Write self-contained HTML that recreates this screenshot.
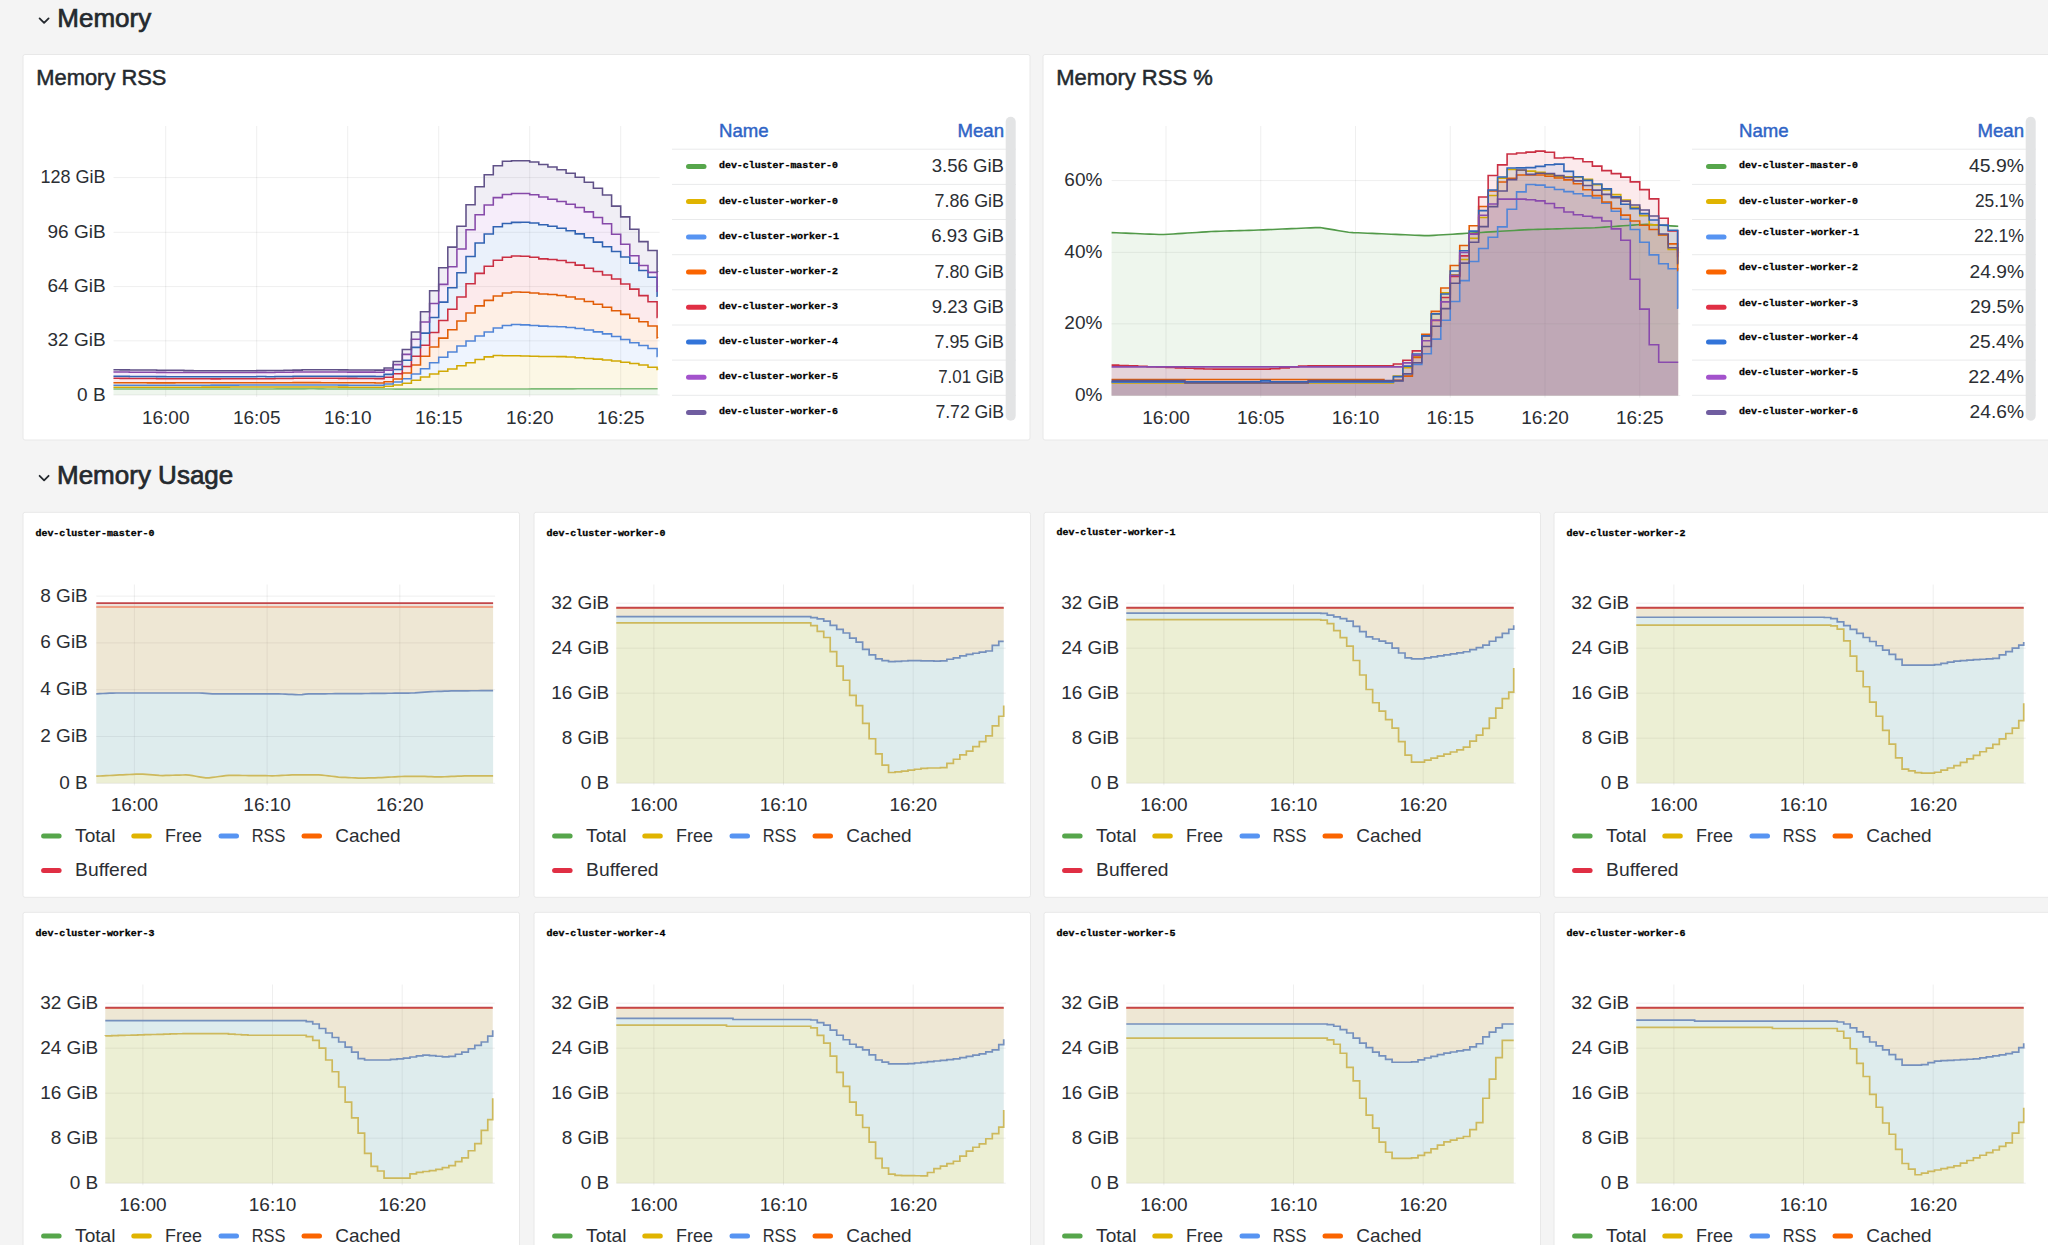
<!DOCTYPE html>
<html><head><meta charset="utf-8"><title>Memory</title>
<style>
html,body{margin:0;padding:0;background:#f4f4f4;}
body{width:2048px;height:1245px;overflow:hidden;position:relative;}
svg{position:absolute;left:0;top:0;}
text{white-space:pre;}
</style></head><body>
<svg width="2048" height="1245" viewBox="0 0 2048 1245">
<path d="M39.6,18.4 l4.5,4.5 l4.5,-4.5" fill="none" stroke="#24292e" stroke-width="1.8" stroke-linecap="round" stroke-linejoin="round"/>
<text x="57.3" y="26.6" font-family='"Liberation Sans", sans-serif' font-size="26" fill="#24292e" text-anchor="start" font-weight="400" stroke="#24292e" stroke-width="0.7">Memory</text>
<path d="M39.6,475.8 l4.5,4.5 l4.5,-4.5" fill="none" stroke="#24292e" stroke-width="1.8" stroke-linecap="round" stroke-linejoin="round"/>
<text x="57" y="483.5" font-family='"Liberation Sans", sans-serif' font-size="26" fill="#24292e" text-anchor="start" font-weight="400" stroke="#24292e" stroke-width="0.7">Memory Usage</text>
<rect x="23" y="54.5" width="1007" height="385.5" fill="#ffffff" rx="2" stroke="#e8e8e8" stroke-width="1"/>
<rect x="1043" y="54.5" width="1019" height="385.5" fill="#ffffff" rx="2" stroke="#e8e8e8" stroke-width="1"/>
<text x="36.3" y="84.8" font-family='"Liberation Sans", sans-serif' font-size="21.9" fill="#24292e" text-anchor="start" font-weight="400" stroke="#24292e" stroke-width="0.5">Memory RSS</text>
<text x="1056.3" y="84.8" font-family='"Liberation Sans", sans-serif' font-size="22.0" fill="#24292e" text-anchor="start" font-weight="400" stroke="#24292e" stroke-width="0.5">Memory RSS %</text>
<line x1="113.5" y1="177.6" x2="659.6" y2="177.6" stroke="rgba(36,41,46,0.075)" stroke-width="1"/>
<text x="105.6" y="183.1" font-family='"Liberation Sans", sans-serif' font-size="19" fill="#2b2e33" text-anchor="end" font-weight="400" textLength="65" lengthAdjust="spacingAndGlyphs">128 GiB</text>
<line x1="113.5" y1="232.3" x2="659.6" y2="232.3" stroke="rgba(36,41,46,0.075)" stroke-width="1"/>
<text x="105.6" y="237.8" font-family='"Liberation Sans", sans-serif' font-size="19" fill="#2b2e33" text-anchor="end" font-weight="400" >96 GiB</text>
<line x1="113.5" y1="286.6" x2="659.6" y2="286.6" stroke="rgba(36,41,46,0.075)" stroke-width="1"/>
<text x="105.6" y="292.1" font-family='"Liberation Sans", sans-serif' font-size="19" fill="#2b2e33" text-anchor="end" font-weight="400" >64 GiB</text>
<line x1="113.5" y1="340.8" x2="659.6" y2="340.8" stroke="rgba(36,41,46,0.075)" stroke-width="1"/>
<text x="105.6" y="346.3" font-family='"Liberation Sans", sans-serif' font-size="19" fill="#2b2e33" text-anchor="end" font-weight="400" >32 GiB</text>
<line x1="113.5" y1="395" x2="659.6" y2="395" stroke="rgba(36,41,46,0.075)" stroke-width="1"/>
<text x="105.6" y="400.5" font-family='"Liberation Sans", sans-serif' font-size="19" fill="#2b2e33" text-anchor="end" font-weight="400" >0 B</text>
<line x1="165.7" y1="126" x2="165.7" y2="397" stroke="rgba(36,41,46,0.075)" stroke-width="1"/>
<text x="165.7" y="424.3" font-family='"Liberation Sans", sans-serif' font-size="19" fill="#2b2e33" text-anchor="middle" font-weight="400" >16:00</text>
<line x1="256.7" y1="126" x2="256.7" y2="397" stroke="rgba(36,41,46,0.075)" stroke-width="1"/>
<text x="256.7" y="424.3" font-family='"Liberation Sans", sans-serif' font-size="19" fill="#2b2e33" text-anchor="middle" font-weight="400" >16:05</text>
<line x1="347.7" y1="126" x2="347.7" y2="397" stroke="rgba(36,41,46,0.075)" stroke-width="1"/>
<text x="347.7" y="424.3" font-family='"Liberation Sans", sans-serif' font-size="19" fill="#2b2e33" text-anchor="middle" font-weight="400" >16:10</text>
<line x1="438.7" y1="126" x2="438.7" y2="397" stroke="rgba(36,41,46,0.075)" stroke-width="1"/>
<text x="438.7" y="424.3" font-family='"Liberation Sans", sans-serif' font-size="19" fill="#2b2e33" text-anchor="middle" font-weight="400" >16:15</text>
<line x1="529.7" y1="126" x2="529.7" y2="397" stroke="rgba(36,41,46,0.075)" stroke-width="1"/>
<text x="529.7" y="424.3" font-family='"Liberation Sans", sans-serif' font-size="19" fill="#2b2e33" text-anchor="middle" font-weight="400" >16:20</text>
<line x1="620.7" y1="126" x2="620.7" y2="397" stroke="rgba(36,41,46,0.075)" stroke-width="1"/>
<text x="620.7" y="424.3" font-family='"Liberation Sans", sans-serif' font-size="19" fill="#2b2e33" text-anchor="middle" font-weight="400" >16:25</text>
<path d="M113.47,389.02 118.02,389.03 122.57,389.03 127.12,389.04 131.67,389.05 136.22,389.06 140.77,389.06 145.32,389.07 149.87,389.08 154.42,389.08 158.97,389.09 163.52,389.09 168.07,389.08 172.62,389.07 177.17,389.06 181.72,389.05 186.27,389.04 190.82,389.03 195.37,389.02 199.92,389 204.47,388.99 209.02,388.98 213.57,388.97 218.12,388.97 222.67,388.96 227.22,388.96 231.77,388.95 236.32,388.95 240.87,388.94 245.42,388.94 249.97,388.93 254.52,388.93 259.07,388.92 263.62,388.91 268.17,388.91 272.72,388.9 277.27,388.89 281.82,388.88 286.37,388.88 290.92,388.87 295.47,388.86 300.02,388.85 304.57,388.85 309.12,388.84 313.67,388.84 318.22,388.86 322.77,388.89 327.32,388.92 331.87,388.95 336.42,388.98 340.97,389.01 345.52,389.02 350.07,389.03 354.62,389.04 359.17,389.04 363.72,389.05 368.27,389.06 372.82,389.06 377.37,389.07 381.92,389.08 386.47,389.09 391.02,389.09 395.57,389.1 400.12,389.11 404.67,389.12 409.22,389.12 413.77,389.13 418.32,389.13 422.87,389.12 427.42,389.11 431.97,389.1 436.52,389.09 441.07,389.08 445.62,389.07 450.17,389.06 454.72,389.05 459.27,389.04 463.82,389.03 468.37,389.02 472.92,389.01 477.47,388.99 482.02,388.98 486.57,388.97 491.12,388.96 495.67,388.95 500.22,388.94 504.77,388.93 509.32,388.92 513.87,388.91 518.42,388.91 522.97,388.9 527.52,388.9 532.07,388.89 536.62,388.89 541.17,388.88 545.72,388.88 550.27,388.87 554.82,388.87 559.37,388.86 563.92,388.86 568.47,388.85 573.02,388.85 577.57,388.84 582.12,388.83 586.67,388.82 591.22,388.81 595.77,388.8 600.32,388.78 604.87,388.77 609.42,388.76 613.97,388.75 618.52,388.73 623.07,388.72 627.62,388.72 632.17,388.73 636.72,388.74 641.27,388.75 645.82,388.76 650.37,388.77 654.92,388.78 657.65,388.79 L657.65,395 113.47,395 Z" fill="#56A64B" fill-opacity="0.1" stroke="none"/>
<path d="M113.47,387.15 120.2,387.15 120.2,387.16 129.3,387.16 129.3,387.18 138.4,387.18 138.4,387.19 147.5,387.19 147.5,387.21 156.6,387.21 156.6,387.22 165.7,387.22 165.7,387.22 174.8,387.22 174.8,387.2 183.9,387.2 183.9,387.18 193,387.18 193,387.15 202.1,387.15 202.1,387.13 211.2,387.13 211.2,387.11 220.3,387.11 220.3,387.1 229.4,387.1 229.4,387.09 238.5,387.09 238.5,387.08 247.6,387.08 247.6,387.07 256.7,387.07 256.7,387.06 265.8,387.06 265.8,387.04 274.9,387.04 274.9,387.03 284,387.03 284,387.01 293.1,387.01 293.1,387 302.2,387 302.2,386.98 311.3,386.98 311.3,386.97 320.4,386.97 320.4,387.01 329.5,387.01 329.5,387.07 338.6,387.07 338.6,387.13 347.7,387.13 347.7,387.16 356.8,387.16 356.8,387.17 365.9,387.17 365.9,387.19 375,387.19 375,387.2 384.1,387.2 384.1,386.21 393.2,386.21 393.2,384.97 402.3,384.97 402.3,383.29 411.4,383.29 411.4,380.24 420.5,380.24 420.5,377.07 429.6,377.07 429.6,373.94 438.7,373.94 438.7,371.23 447.8,371.23 447.8,368.96 456.9,368.96 456.9,365.81 466,365.81 466,362.72 475.1,362.72 475.1,359.46 484.2,359.46 484.2,356.86 493.3,356.86 493.3,355.56 502.4,355.56 502.4,355.66 511.5,355.66 511.5,355.76 520.6,355.76 520.6,355.93 529.7,355.93 529.7,356.24 538.8,356.24 538.8,356.55 547.9,356.55 547.9,356.58 557,356.58 557,356.6 566.1,356.6 566.1,356.92 575.2,356.92 575.2,357.71 584.3,357.71 584.3,358.45 593.4,358.45 593.4,359.12 602.5,359.12 602.5,359.9 611.6,359.9 611.6,360.94 620.7,360.94 620.7,362.16 629.8,362.16 629.8,363.51 638.9,363.51 638.9,364.99 648,364.99 648,367.17 657.1,367.17 657.1,369.44 657.65,369.44 657.65,369.45 L657.65,388.79 654.92,388.78 650.37,388.77 645.82,388.76 641.27,388.75 636.72,388.74 632.17,388.73 627.62,388.72 623.07,388.72 618.52,388.73 613.97,388.75 609.42,388.76 604.87,388.77 600.32,388.78 595.77,388.8 591.22,388.81 586.67,388.82 582.12,388.83 577.57,388.84 573.02,388.85 568.47,388.85 563.92,388.86 559.37,388.86 554.82,388.87 550.27,388.87 545.72,388.88 541.17,388.88 536.62,388.89 532.07,388.89 527.52,388.9 522.97,388.9 518.42,388.91 513.87,388.91 509.32,388.92 504.77,388.93 500.22,388.94 495.67,388.95 491.12,388.96 486.57,388.97 482.02,388.98 477.47,388.99 472.92,389.01 468.37,389.02 463.82,389.03 459.27,389.04 454.72,389.05 450.17,389.06 445.62,389.07 441.07,389.08 436.52,389.09 431.97,389.1 427.42,389.11 422.87,389.12 418.32,389.13 413.77,389.13 409.22,389.12 404.67,389.12 400.12,389.11 395.57,389.1 391.02,389.09 386.47,389.09 381.92,389.08 377.37,389.07 372.82,389.06 368.27,389.06 363.72,389.05 359.17,389.04 354.62,389.04 350.07,389.03 345.52,389.02 340.97,389.01 336.42,388.98 331.87,388.95 327.32,388.92 322.77,388.89 318.22,388.86 313.67,388.84 309.12,388.84 304.57,388.85 300.02,388.85 295.47,388.86 290.92,388.87 286.37,388.88 281.82,388.88 277.27,388.89 272.72,388.9 268.17,388.91 263.62,388.91 259.07,388.92 254.52,388.93 249.97,388.93 245.42,388.94 240.87,388.94 236.32,388.95 231.77,388.95 227.22,388.96 222.67,388.96 218.12,388.97 213.57,388.97 209.02,388.98 204.47,388.99 199.92,389 195.37,389.02 190.82,389.03 186.27,389.04 181.72,389.05 177.17,389.06 172.62,389.07 168.07,389.08 163.52,389.09 158.97,389.09 154.42,389.08 149.87,389.08 145.32,389.07 140.77,389.06 136.22,389.06 131.67,389.05 127.12,389.04 122.57,389.03 118.02,389.03 113.47,389.02 Z" fill="#E0B400" fill-opacity="0.1" stroke="none"/>
<path d="M113.47,385.16 120.2,385.16 120.2,385.18 129.3,385.18 129.3,385.19 138.4,385.19 138.4,385.21 147.5,385.21 147.5,385.22 156.6,385.22 156.6,385.23 165.7,385.23 165.7,385.23 174.8,385.23 174.8,385.21 183.9,385.21 183.9,385.19 193,385.19 193,385.17 202.1,385.17 202.1,385.15 211.2,385.15 211.2,385.13 220.3,385.13 220.3,385.11 229.4,385.11 229.4,385.1 238.5,385.1 238.5,385.09 247.6,385.09 247.6,385.08 256.7,385.08 256.7,385.07 265.8,385.07 265.8,385.06 274.9,385.06 274.9,385.04 284,385.04 284,385.03 293.1,385.03 293.1,385.01 302.2,385.01 302.2,385 311.3,385 311.3,384.98 320.4,384.98 320.4,385.03 329.5,385.03 329.5,385.08 338.6,385.08 338.6,385.14 347.7,385.14 347.7,385.17 356.8,385.17 356.8,385.19 365.9,385.19 365.9,385.2 375,385.2 375,385.22 384.1,385.22 384.1,384.09 393.2,384.09 393.2,381.92 402.3,381.92 402.3,378.68 411.4,378.68 411.4,374.07 420.5,374.07 420.5,368.72 429.6,368.72 429.6,362.81 438.7,362.81 438.7,357.33 447.8,357.33 447.8,351.99 456.9,351.99 456.9,346 466,346 466,340.99 475.1,340.99 475.1,336.06 484.2,336.06 484.2,331.94 493.3,331.94 493.3,328.04 502.4,328.04 502.4,325.58 511.5,325.58 511.5,324.59 520.6,324.59 520.6,324.85 529.7,324.85 529.7,325.48 538.8,325.48 538.8,326.11 547.9,326.11 547.9,326.45 557,326.45 557,326.79 566.1,326.79 566.1,327.43 575.2,327.43 575.2,328.53 584.3,328.53 584.3,330.03 593.4,330.03 593.4,331.89 602.5,331.89 602.5,333.85 611.6,333.85 611.6,336.42 620.7,336.42 620.7,339.5 629.8,339.5 629.8,342.72 638.9,342.72 638.9,345.51 648,345.51 648,348.43 657.1,348.43 657.1,356.55 657.65,356.55 657.65,356.55 L657.65,369.45 657.65,369.44 657.1,369.44 657.1,367.17 648,367.17 648,364.99 638.9,364.99 638.9,363.51 629.8,363.51 629.8,362.16 620.7,362.16 620.7,360.94 611.6,360.94 611.6,359.9 602.5,359.9 602.5,359.12 593.4,359.12 593.4,358.45 584.3,358.45 584.3,357.71 575.2,357.71 575.2,356.92 566.1,356.92 566.1,356.6 557,356.6 557,356.58 547.9,356.58 547.9,356.55 538.8,356.55 538.8,356.24 529.7,356.24 529.7,355.93 520.6,355.93 520.6,355.76 511.5,355.76 511.5,355.66 502.4,355.66 502.4,355.56 493.3,355.56 493.3,356.86 484.2,356.86 484.2,359.46 475.1,359.46 475.1,362.72 466,362.72 466,365.81 456.9,365.81 456.9,368.96 447.8,368.96 447.8,371.23 438.7,371.23 438.7,373.94 429.6,373.94 429.6,377.07 420.5,377.07 420.5,380.24 411.4,380.24 411.4,383.29 402.3,383.29 402.3,384.97 393.2,384.97 393.2,386.21 384.1,386.21 384.1,387.2 375,387.2 375,387.19 365.9,387.19 365.9,387.17 356.8,387.17 356.8,387.16 347.7,387.16 347.7,387.13 338.6,387.13 338.6,387.07 329.5,387.07 329.5,387.01 320.4,387.01 320.4,386.97 311.3,386.97 311.3,386.98 302.2,386.98 302.2,387 293.1,387 293.1,387.01 284,387.01 284,387.03 274.9,387.03 274.9,387.04 265.8,387.04 265.8,387.06 256.7,387.06 256.7,387.07 247.6,387.07 247.6,387.08 238.5,387.08 238.5,387.09 229.4,387.09 229.4,387.1 220.3,387.1 220.3,387.11 211.2,387.11 211.2,387.13 202.1,387.13 202.1,387.15 193,387.15 193,387.18 183.9,387.18 183.9,387.2 174.8,387.2 174.8,387.22 165.7,387.22 165.7,387.22 156.6,387.22 156.6,387.21 147.5,387.21 147.5,387.19 138.4,387.19 138.4,387.18 129.3,387.18 129.3,387.16 120.2,387.16 120.2,387.15 113.47,387.15 Z" fill="#5794F2" fill-opacity="0.1" stroke="none"/>
<path d="M113.47,382.79 120.2,382.79 120.2,382.8 129.3,382.8 129.3,382.82 138.4,382.82 138.4,382.83 147.5,382.83 147.5,382.85 156.6,382.85 156.6,382.86 165.7,382.86 165.7,382.86 174.8,382.86 174.8,382.84 183.9,382.84 183.9,382.82 193,382.82 193,382.79 202.1,382.79 202.1,382.77 211.2,382.77 211.2,382.75 220.3,382.75 220.3,382.74 229.4,382.74 229.4,382.73 238.5,382.73 238.5,382.72 247.6,382.72 247.6,382.71 256.7,382.71 256.7,382.7 265.8,382.7 265.8,382.68 274.9,382.68 274.9,382.67 284,382.67 284,382.65 293.1,382.65 293.1,382.64 302.2,382.64 302.2,382.62 311.3,382.62 311.3,382.61 320.4,382.61 320.4,382.65 329.5,382.65 329.5,382.71 338.6,382.71 338.6,382.77 347.7,382.77 347.7,382.8 356.8,382.8 356.8,382.81 365.9,382.81 365.9,382.83 375,382.83 375,383.02 384.1,383.02 384.1,381.84 393.2,381.84 393.2,379.04 402.3,379.04 402.3,373.06 411.4,373.06 411.4,365.01 420.5,365.01 420.5,356.28 429.6,356.28 429.6,346.92 438.7,346.92 438.7,338.12 447.8,338.12 447.8,329.83 456.9,329.83 456.9,320.93 466,320.93 466,313.05 475.1,313.05 475.1,305.86 484.2,305.86 484.2,300.38 493.3,300.38 493.3,295.95 502.4,295.95 502.4,293 511.5,293 511.5,292.01 520.6,292.01 520.6,292.27 529.7,292.27 529.7,293.08 538.8,293.08 538.8,293.98 547.9,293.98 547.9,294.59 557,294.59 557,295.5 566.1,295.5 566.1,297.02 575.2,297.02 575.2,299.01 584.3,299.01 584.3,301.43 593.4,301.43 593.4,304.26 602.5,304.26 602.5,307.2 611.6,307.2 611.6,310.65 620.7,310.65 620.7,314.35 629.8,314.35 629.8,318.19 638.9,318.19 638.9,321.8 648,321.8 648,326.02 657.1,326.02 657.1,338.05 657.65,338.05 657.65,338.06 L657.65,356.55 657.65,356.55 657.1,356.55 657.1,348.43 648,348.43 648,345.51 638.9,345.51 638.9,342.72 629.8,342.72 629.8,339.5 620.7,339.5 620.7,336.42 611.6,336.42 611.6,333.85 602.5,333.85 602.5,331.89 593.4,331.89 593.4,330.03 584.3,330.03 584.3,328.53 575.2,328.53 575.2,327.43 566.1,327.43 566.1,326.79 557,326.79 557,326.45 547.9,326.45 547.9,326.11 538.8,326.11 538.8,325.48 529.7,325.48 529.7,324.85 520.6,324.85 520.6,324.59 511.5,324.59 511.5,325.58 502.4,325.58 502.4,328.04 493.3,328.04 493.3,331.94 484.2,331.94 484.2,336.06 475.1,336.06 475.1,340.99 466,340.99 466,346 456.9,346 456.9,351.99 447.8,351.99 447.8,357.33 438.7,357.33 438.7,362.81 429.6,362.81 429.6,368.72 420.5,368.72 420.5,374.07 411.4,374.07 411.4,378.68 402.3,378.68 402.3,381.92 393.2,381.92 393.2,384.09 384.1,384.09 384.1,385.22 375,385.22 375,385.2 365.9,385.2 365.9,385.19 356.8,385.19 356.8,385.17 347.7,385.17 347.7,385.14 338.6,385.14 338.6,385.08 329.5,385.08 329.5,385.03 320.4,385.03 320.4,384.98 311.3,384.98 311.3,385 302.2,385 302.2,385.01 293.1,385.01 293.1,385.03 284,385.03 284,385.04 274.9,385.04 274.9,385.06 265.8,385.06 265.8,385.07 256.7,385.07 256.7,385.08 247.6,385.08 247.6,385.09 238.5,385.09 238.5,385.1 229.4,385.1 229.4,385.11 220.3,385.11 220.3,385.13 211.2,385.13 211.2,385.15 202.1,385.15 202.1,385.17 193,385.17 193,385.19 183.9,385.19 183.9,385.21 174.8,385.21 174.8,385.23 165.7,385.23 165.7,385.23 156.6,385.23 156.6,385.22 147.5,385.22 147.5,385.21 138.4,385.21 138.4,385.19 129.3,385.19 129.3,385.18 120.2,385.18 120.2,385.16 113.47,385.16 Z" fill="#FA6400" fill-opacity="0.1" stroke="none"/>
<path d="M113.47,378.29 120.2,378.29 120.2,378.36 129.3,378.36 129.3,378.43 138.4,378.43 138.4,378.5 147.5,378.5 147.5,378.57 156.6,378.57 156.6,378.65 165.7,378.65 165.7,378.7 174.8,378.7 174.8,378.74 183.9,378.74 183.9,378.77 193,378.77 193,378.81 202.1,378.81 202.1,378.84 211.2,378.84 211.2,378.85 220.3,378.85 220.3,378.84 229.4,378.84 229.4,378.83 238.5,378.83 238.5,378.82 247.6,378.82 247.6,378.8 256.7,378.8 256.7,378.79 265.8,378.79 265.8,378.72 274.9,378.72 274.9,378.57 284,378.57 284,378.43 293.1,378.43 293.1,378.29 302.2,378.29 302.2,378.21 311.3,378.21 311.3,378.2 320.4,378.2 320.4,378.24 329.5,378.24 329.5,378.3 338.6,378.3 338.6,378.35 347.7,378.35 347.7,378.39 356.8,378.39 356.8,378.4 365.9,378.4 365.9,378.41 375,378.41 375,378.61 384.1,378.61 384.1,377.17 393.2,377.17 393.2,373.81 402.3,373.81 402.3,366.46 411.4,366.46 411.4,356.21 420.5,356.21 420.5,345.17 429.6,345.17 429.6,332.43 438.7,332.43 438.7,320.52 447.8,320.52 447.8,309.19 456.9,309.19 456.9,297.03 466,297.03 466,283.72 475.1,283.72 475.1,273.36 484.2,273.36 484.2,266.3 493.3,266.3 493.3,260.26 502.4,260.26 502.4,257.17 511.5,257.17 511.5,256.05 520.6,256.05 520.6,256.17 529.7,256.17 529.7,257.15 538.8,257.15 538.8,258.88 547.9,258.88 547.9,259.41 557,259.41 557,260.52 566.1,260.52 566.1,262.47 575.2,262.47 575.2,265.11 584.3,265.11 584.3,268.21 593.4,268.21 593.4,271.48 602.5,271.48 602.5,274.94 611.6,274.94 611.6,279.09 620.7,279.09 620.7,283.93 629.8,283.93 629.8,289.14 638.9,289.14 638.9,295.6 648,295.6 648,301.68 657.1,301.68 657.1,317.52 657.65,317.52 657.65,317.52 L657.65,338.06 657.65,338.05 657.1,338.05 657.1,326.02 648,326.02 648,321.8 638.9,321.8 638.9,318.19 629.8,318.19 629.8,314.35 620.7,314.35 620.7,310.65 611.6,310.65 611.6,307.2 602.5,307.2 602.5,304.26 593.4,304.26 593.4,301.43 584.3,301.43 584.3,299.01 575.2,299.01 575.2,297.02 566.1,297.02 566.1,295.5 557,295.5 557,294.59 547.9,294.59 547.9,293.98 538.8,293.98 538.8,293.08 529.7,293.08 529.7,292.27 520.6,292.27 520.6,292.01 511.5,292.01 511.5,293 502.4,293 502.4,295.95 493.3,295.95 493.3,300.38 484.2,300.38 484.2,305.86 475.1,305.86 475.1,313.05 466,313.05 466,320.93 456.9,320.93 456.9,329.83 447.8,329.83 447.8,338.12 438.7,338.12 438.7,346.92 429.6,346.92 429.6,356.28 420.5,356.28 420.5,365.01 411.4,365.01 411.4,373.06 402.3,373.06 402.3,379.04 393.2,379.04 393.2,381.84 384.1,381.84 384.1,383.02 375,383.02 375,382.83 365.9,382.83 365.9,382.81 356.8,382.81 356.8,382.8 347.7,382.8 347.7,382.77 338.6,382.77 338.6,382.71 329.5,382.71 329.5,382.65 320.4,382.65 320.4,382.61 311.3,382.61 311.3,382.62 302.2,382.62 302.2,382.64 293.1,382.64 293.1,382.65 284,382.65 284,382.67 274.9,382.67 274.9,382.68 265.8,382.68 265.8,382.7 256.7,382.7 256.7,382.71 247.6,382.71 247.6,382.72 238.5,382.72 238.5,382.73 229.4,382.73 229.4,382.74 220.3,382.74 220.3,382.75 211.2,382.75 211.2,382.77 202.1,382.77 202.1,382.79 193,382.79 193,382.82 183.9,382.82 183.9,382.84 174.8,382.84 174.8,382.86 165.7,382.86 165.7,382.86 156.6,382.86 156.6,382.85 147.5,382.85 147.5,382.83 138.4,382.83 138.4,382.82 129.3,382.82 129.3,382.8 120.2,382.8 120.2,382.79 113.47,382.79 Z" fill="#E02F44" fill-opacity="0.1" stroke="none"/>
<path d="M113.47,376.26 120.2,376.26 120.2,376.33 129.3,376.33 129.3,376.4 138.4,376.4 138.4,376.47 147.5,376.47 147.5,376.54 156.6,376.54 156.6,376.61 165.7,376.61 165.7,376.67 174.8,376.67 174.8,376.7 183.9,376.7 183.9,376.73 193,376.73 193,376.77 202.1,376.77 202.1,376.8 211.2,376.8 211.2,376.81 220.3,376.81 220.3,376.8 229.4,376.8 229.4,376.79 238.5,376.79 238.5,376.78 247.6,376.78 247.6,376.77 256.7,376.77 256.7,376.59 265.8,376.59 265.8,376.68 274.9,376.68 274.9,376.54 284,376.54 284,376.4 293.1,376.4 293.1,376.25 302.2,376.25 302.2,376.17 311.3,376.17 311.3,376.16 320.4,376.16 320.4,376.2 329.5,376.2 329.5,376.26 338.6,376.26 338.6,376.32 347.7,376.32 347.7,376.35 356.8,376.35 356.8,376.36 365.9,376.36 365.9,376.38 375,376.38 375,376.57 384.1,376.57 384.1,374.36 393.2,374.36 393.2,369.46 402.3,369.46 402.3,360.32 411.4,360.32 411.4,347.39 420.5,347.39 420.5,333.1 429.6,333.1 429.6,317.41 438.7,317.41 438.7,302.13 447.8,302.13 447.8,287.8 456.9,287.8 456.9,272.75 466,272.75 466,256.4 475.1,256.4 475.1,243 484.2,243 484.2,234.03 493.3,234.03 493.3,226.66 502.4,226.66 502.4,223.54 511.5,223.54 511.5,222.38 520.6,222.38 520.6,222.33 529.7,222.33 529.7,223.07 538.8,223.07 538.8,224.69 547.9,224.69 547.9,226.3 557,226.3 557,228.2 566.1,228.2 566.1,230.69 575.2,230.69 575.2,233.86 584.3,233.86 584.3,237.67 593.4,237.67 593.4,242.1 602.5,242.1 602.5,246.67 611.6,246.67 611.6,251.48 620.7,251.48 620.7,257.06 629.8,257.06 629.8,263.21 638.9,263.21 638.9,270.43 648,270.43 648,277.27 657.1,277.27 657.1,296.14 657.65,296.14 657.65,296.14 L657.65,317.52 657.65,317.52 657.1,317.52 657.1,301.68 648,301.68 648,295.6 638.9,295.6 638.9,289.14 629.8,289.14 629.8,283.93 620.7,283.93 620.7,279.09 611.6,279.09 611.6,274.94 602.5,274.94 602.5,271.48 593.4,271.48 593.4,268.21 584.3,268.21 584.3,265.11 575.2,265.11 575.2,262.47 566.1,262.47 566.1,260.52 557,260.52 557,259.41 547.9,259.41 547.9,258.88 538.8,258.88 538.8,257.15 529.7,257.15 529.7,256.17 520.6,256.17 520.6,256.05 511.5,256.05 511.5,257.17 502.4,257.17 502.4,260.26 493.3,260.26 493.3,266.3 484.2,266.3 484.2,273.36 475.1,273.36 475.1,283.72 466,283.72 466,297.03 456.9,297.03 456.9,309.19 447.8,309.19 447.8,320.52 438.7,320.52 438.7,332.43 429.6,332.43 429.6,345.17 420.5,345.17 420.5,356.21 411.4,356.21 411.4,366.46 402.3,366.46 402.3,373.81 393.2,373.81 393.2,377.17 384.1,377.17 384.1,378.61 375,378.61 375,378.41 365.9,378.41 365.9,378.4 356.8,378.4 356.8,378.39 347.7,378.39 347.7,378.35 338.6,378.35 338.6,378.3 329.5,378.3 329.5,378.24 320.4,378.24 320.4,378.2 311.3,378.2 311.3,378.21 302.2,378.21 302.2,378.29 293.1,378.29 293.1,378.43 284,378.43 284,378.57 274.9,378.57 274.9,378.72 265.8,378.72 265.8,378.79 256.7,378.79 256.7,378.8 247.6,378.8 247.6,378.82 238.5,378.82 238.5,378.83 229.4,378.83 229.4,378.84 220.3,378.84 220.3,378.85 211.2,378.85 211.2,378.84 202.1,378.84 202.1,378.81 193,378.81 193,378.77 183.9,378.77 183.9,378.74 174.8,378.74 174.8,378.7 165.7,378.7 165.7,378.65 156.6,378.65 156.6,378.57 147.5,378.57 147.5,378.5 138.4,378.5 138.4,378.43 129.3,378.43 129.3,378.36 120.2,378.36 120.2,378.29 113.47,378.29 Z" fill="#3274D9" fill-opacity="0.1" stroke="none"/>
<path d="M113.47,372.01 120.2,372.01 120.2,372.08 129.3,372.08 129.3,372.16 138.4,372.16 138.4,372.23 147.5,372.23 147.5,372.3 156.6,372.3 156.6,372.37 165.7,372.37 165.7,372.42 174.8,372.42 174.8,372.46 183.9,372.46 183.9,372.49 193,372.49 193,372.53 202.1,372.53 202.1,372.56 211.2,372.56 211.2,372.57 220.3,372.57 220.3,372.56 229.4,372.56 229.4,372.55 238.5,372.55 238.5,372.54 247.6,372.54 247.6,372.53 256.7,372.53 256.7,372.35 265.8,372.35 265.8,372.44 274.9,372.44 274.9,372.29 284,372.29 284,372.15 293.1,372.15 293.1,372.01 302.2,372.01 302.2,371.93 311.3,371.93 311.3,371.92 320.4,371.92 320.4,371.96 329.5,371.96 329.5,372.02 338.6,372.02 338.6,372.08 347.7,372.08 347.7,372.11 356.8,372.11 356.8,372.12 365.9,372.12 365.9,372.14 375,372.14 375,372.33 384.1,372.33 384.1,370.12 393.2,370.12 393.2,364.63 402.3,364.63 402.3,354.38 411.4,354.38 411.4,339.29 420.5,339.29 420.5,321.98 429.6,321.98 429.6,303.58 438.7,303.58 438.7,284.38 447.8,284.38 447.8,266.67 456.9,266.67 456.9,248.9 466,248.9 466,229.76 475.1,229.76 475.1,214.7 484.2,214.7 484.2,205.01 493.3,205.01 493.3,197.64 502.4,197.64 502.4,194.52 511.5,194.52 511.5,193.45 520.6,193.45 520.6,193.57 529.7,193.57 529.7,194.71 538.8,194.71 538.8,196.95 547.9,196.95 547.9,199.18 557,199.18 557,201.5 566.1,201.5 566.1,204.19 575.2,204.19 575.2,207.58 584.3,207.58 584.3,211.89 593.4,211.89 593.4,217.47 602.5,217.47 602.5,223.72 611.6,223.72 611.6,234.29 620.7,234.29 620.7,244.29 629.8,244.29 629.8,255.69 638.9,255.69 638.9,265.51 648,265.51 648,272.35 657.1,272.35 657.1,291.22 657.65,291.22 657.65,291.22 L657.65,296.14 657.65,296.14 657.1,296.14 657.1,277.27 648,277.27 648,270.43 638.9,270.43 638.9,263.21 629.8,263.21 629.8,257.06 620.7,257.06 620.7,251.48 611.6,251.48 611.6,246.67 602.5,246.67 602.5,242.1 593.4,242.1 593.4,237.67 584.3,237.67 584.3,233.86 575.2,233.86 575.2,230.69 566.1,230.69 566.1,228.2 557,228.2 557,226.3 547.9,226.3 547.9,224.69 538.8,224.69 538.8,223.07 529.7,223.07 529.7,222.33 520.6,222.33 520.6,222.38 511.5,222.38 511.5,223.54 502.4,223.54 502.4,226.66 493.3,226.66 493.3,234.03 484.2,234.03 484.2,243 475.1,243 475.1,256.4 466,256.4 466,272.75 456.9,272.75 456.9,287.8 447.8,287.8 447.8,302.13 438.7,302.13 438.7,317.41 429.6,317.41 429.6,333.1 420.5,333.1 420.5,347.39 411.4,347.39 411.4,360.32 402.3,360.32 402.3,369.46 393.2,369.46 393.2,374.36 384.1,374.36 384.1,376.57 375,376.57 375,376.38 365.9,376.38 365.9,376.36 356.8,376.36 356.8,376.35 347.7,376.35 347.7,376.32 338.6,376.32 338.6,376.26 329.5,376.26 329.5,376.2 320.4,376.2 320.4,376.16 311.3,376.16 311.3,376.17 302.2,376.17 302.2,376.25 293.1,376.25 293.1,376.4 284,376.4 284,376.54 274.9,376.54 274.9,376.68 265.8,376.68 265.8,376.59 256.7,376.59 256.7,376.77 247.6,376.77 247.6,376.78 238.5,376.78 238.5,376.79 229.4,376.79 229.4,376.8 220.3,376.8 220.3,376.81 211.2,376.81 211.2,376.8 202.1,376.8 202.1,376.77 193,376.77 193,376.73 183.9,376.73 183.9,376.7 174.8,376.7 174.8,376.67 165.7,376.67 165.7,376.61 156.6,376.61 156.6,376.54 147.5,376.54 147.5,376.47 138.4,376.47 138.4,376.4 129.3,376.4 129.3,376.33 120.2,376.33 120.2,376.26 113.47,376.26 Z" fill="#A352CC" fill-opacity="0.1" stroke="none"/>
<path d="M113.47,369.81 120.2,369.81 120.2,369.88 129.3,369.88 129.3,369.95 138.4,369.95 138.4,370.02 147.5,370.02 147.5,370.09 156.6,370.09 156.6,370.16 165.7,370.16 165.7,370.22 174.8,370.22 174.8,370.25 183.9,370.25 183.9,370.63 193,370.63 193,370.66 202.1,370.66 202.1,370.7 211.2,370.7 211.2,370.7 220.3,370.7 220.3,370.69 229.4,370.69 229.4,370.68 238.5,370.68 238.5,370.67 247.6,370.67 247.6,370.66 256.7,370.66 256.7,370.48 265.8,370.48 265.8,370.57 274.9,370.57 274.9,370.43 284,370.43 284,370.29 293.1,370.29 293.1,370.14 302.2,370.14 302.2,369.73 311.3,369.73 311.3,369.71 320.4,369.71 320.4,369.75 329.5,369.75 329.5,369.81 338.6,369.81 338.6,369.87 347.7,369.87 347.7,369.9 356.8,369.9 356.8,369.92 365.9,369.92 365.9,369.93 375,369.93 375,370.13 384.1,370.13 384.1,367.92 393.2,367.92 393.2,361.4 402.3,361.4 402.3,349.52 411.4,349.52 411.4,332.05 420.5,332.05 420.5,311.75 429.6,311.75 429.6,290.73 438.7,290.73 438.7,267.78 447.8,267.78 447.8,247.1 456.9,247.1 456.9,226.26 466,226.26 466,204.81 475.1,204.81 475.1,186.78 484.2,186.78 484.2,174.81 493.3,174.81 493.3,165.74 502.4,165.74 502.4,161.2 511.5,161.2 511.5,160.78 520.6,160.78 520.6,160.73 529.7,160.73 529.7,161.93 538.8,161.93 538.8,164.46 547.9,164.46 547.9,166.97 557,166.97 557,169.78 566.1,169.78 566.1,173.16 575.2,173.16 575.2,177.23 584.3,177.23 584.3,182.17 593.4,182.17 593.4,188.25 602.5,188.25 602.5,195 611.6,195 611.6,206.14 620.7,206.14 620.7,216.89 629.8,216.89 629.8,229.17 638.9,229.17 638.9,241.64 648,241.64 648,250.52 657.1,250.52 657.1,271.7 657.65,271.7 657.65,271.71 L657.65,291.22 657.65,291.22 657.1,291.22 657.1,272.35 648,272.35 648,265.51 638.9,265.51 638.9,255.69 629.8,255.69 629.8,244.29 620.7,244.29 620.7,234.29 611.6,234.29 611.6,223.72 602.5,223.72 602.5,217.47 593.4,217.47 593.4,211.89 584.3,211.89 584.3,207.58 575.2,207.58 575.2,204.19 566.1,204.19 566.1,201.5 557,201.5 557,199.18 547.9,199.18 547.9,196.95 538.8,196.95 538.8,194.71 529.7,194.71 529.7,193.57 520.6,193.57 520.6,193.45 511.5,193.45 511.5,194.52 502.4,194.52 502.4,197.64 493.3,197.64 493.3,205.01 484.2,205.01 484.2,214.7 475.1,214.7 475.1,229.76 466,229.76 466,248.9 456.9,248.9 456.9,266.67 447.8,266.67 447.8,284.38 438.7,284.38 438.7,303.58 429.6,303.58 429.6,321.98 420.5,321.98 420.5,339.29 411.4,339.29 411.4,354.38 402.3,354.38 402.3,364.63 393.2,364.63 393.2,370.12 384.1,370.12 384.1,372.33 375,372.33 375,372.14 365.9,372.14 365.9,372.12 356.8,372.12 356.8,372.11 347.7,372.11 347.7,372.08 338.6,372.08 338.6,372.02 329.5,372.02 329.5,371.96 320.4,371.96 320.4,371.92 311.3,371.92 311.3,371.93 302.2,371.93 302.2,372.01 293.1,372.01 293.1,372.15 284,372.15 284,372.29 274.9,372.29 274.9,372.44 265.8,372.44 265.8,372.35 256.7,372.35 256.7,372.53 247.6,372.53 247.6,372.54 238.5,372.54 238.5,372.55 229.4,372.55 229.4,372.56 220.3,372.56 220.3,372.57 211.2,372.57 211.2,372.56 202.1,372.56 202.1,372.53 193,372.53 193,372.49 183.9,372.49 183.9,372.46 174.8,372.46 174.8,372.42 165.7,372.42 165.7,372.37 156.6,372.37 156.6,372.3 147.5,372.3 147.5,372.23 138.4,372.23 138.4,372.16 129.3,372.16 129.3,372.08 120.2,372.08 120.2,372.01 113.47,372.01 Z" fill="#705DA0" fill-opacity="0.1" stroke="none"/>
<polyline points="113.47,389.02 118.02,389.03 122.57,389.03 127.12,389.04 131.67,389.05 136.22,389.06 140.77,389.06 145.32,389.07 149.87,389.08 154.42,389.08 158.97,389.09 163.52,389.09 168.07,389.08 172.62,389.07 177.17,389.06 181.72,389.05 186.27,389.04 190.82,389.03 195.37,389.02 199.92,389 204.47,388.99 209.02,388.98 213.57,388.97 218.12,388.97 222.67,388.96 227.22,388.96 231.77,388.95 236.32,388.95 240.87,388.94 245.42,388.94 249.97,388.93 254.52,388.93 259.07,388.92 263.62,388.91 268.17,388.91 272.72,388.9 277.27,388.89 281.82,388.88 286.37,388.88 290.92,388.87 295.47,388.86 300.02,388.85 304.57,388.85 309.12,388.84 313.67,388.84 318.22,388.86 322.77,388.89 327.32,388.92 331.87,388.95 336.42,388.98 340.97,389.01 345.52,389.02 350.07,389.03 354.62,389.04 359.17,389.04 363.72,389.05 368.27,389.06 372.82,389.06 377.37,389.07 381.92,389.08 386.47,389.09 391.02,389.09 395.57,389.1 400.12,389.11 404.67,389.12 409.22,389.12 413.77,389.13 418.32,389.13 422.87,389.12 427.42,389.11 431.97,389.1 436.52,389.09 441.07,389.08 445.62,389.07 450.17,389.06 454.72,389.05 459.27,389.04 463.82,389.03 468.37,389.02 472.92,389.01 477.47,388.99 482.02,388.98 486.57,388.97 491.12,388.96 495.67,388.95 500.22,388.94 504.77,388.93 509.32,388.92 513.87,388.91 518.42,388.91 522.97,388.9 527.52,388.9 532.07,388.89 536.62,388.89 541.17,388.88 545.72,388.88 550.27,388.87 554.82,388.87 559.37,388.86 563.92,388.86 568.47,388.85 573.02,388.85 577.57,388.84 582.12,388.83 586.67,388.82 591.22,388.81 595.77,388.8 600.32,388.78 604.87,388.77 609.42,388.76 613.97,388.75 618.52,388.73 623.07,388.72 627.62,388.72 632.17,388.73 636.72,388.74 641.27,388.75 645.82,388.76 650.37,388.77 654.92,388.78 657.65,388.79" fill="none" stroke="#80bc78" stroke-width="1.55" stroke-opacity="1" stroke-linejoin="miter"/>
<polyline points="113.47,387.15 120.2,387.15 120.2,387.16 129.3,387.16 129.3,387.18 138.4,387.18 138.4,387.19 147.5,387.19 147.5,387.21 156.6,387.21 156.6,387.22 165.7,387.22 165.7,387.22 174.8,387.22 174.8,387.2 183.9,387.2 183.9,387.18 193,387.18 193,387.15 202.1,387.15 202.1,387.13 211.2,387.13 211.2,387.11 220.3,387.11 220.3,387.1 229.4,387.1 229.4,387.09 238.5,387.09 238.5,387.08 247.6,387.08 247.6,387.07 256.7,387.07 256.7,387.06 265.8,387.06 265.8,387.04 274.9,387.04 274.9,387.03 284,387.03 284,387.01 293.1,387.01 293.1,387 302.2,387 302.2,386.98 311.3,386.98 311.3,386.97 320.4,386.97 320.4,387.01 329.5,387.01 329.5,387.07 338.6,387.07 338.6,387.13 347.7,387.13 347.7,387.16 356.8,387.16 356.8,387.17 365.9,387.17 365.9,387.19 375,387.19 375,387.2 384.1,387.2 384.1,386.21 393.2,386.21 393.2,384.97 402.3,384.97 402.3,383.29 411.4,383.29 411.4,380.24 420.5,380.24 420.5,377.07 429.6,377.07 429.6,373.94 438.7,373.94 438.7,371.23 447.8,371.23 447.8,368.96 456.9,368.96 456.9,365.81 466,365.81 466,362.72 475.1,362.72 475.1,359.46 484.2,359.46 484.2,356.86 493.3,356.86 493.3,355.56 502.4,355.56 502.4,355.66 511.5,355.66 511.5,355.76 520.6,355.76 520.6,355.93 529.7,355.93 529.7,356.24 538.8,356.24 538.8,356.55 547.9,356.55 547.9,356.58 557,356.58 557,356.6 566.1,356.6 566.1,356.92 575.2,356.92 575.2,357.71 584.3,357.71 584.3,358.45 593.4,358.45 593.4,359.12 602.5,359.12 602.5,359.9 611.6,359.9 611.6,360.94 620.7,360.94 620.7,362.16 629.8,362.16 629.8,363.51 638.9,363.51 638.9,364.99 648,364.99 648,367.17 657.1,367.17 657.1,369.44 657.65,369.44 657.65,369.45" fill="none" stroke="#d1a905" stroke-width="1.55" stroke-opacity="1" stroke-linejoin="miter"/>
<polyline points="113.47,385.16 120.2,385.16 120.2,385.18 129.3,385.18 129.3,385.19 138.4,385.19 138.4,385.21 147.5,385.21 147.5,385.22 156.6,385.22 156.6,385.23 165.7,385.23 165.7,385.23 174.8,385.23 174.8,385.21 183.9,385.21 183.9,385.19 193,385.19 193,385.17 202.1,385.17 202.1,385.15 211.2,385.15 211.2,385.13 220.3,385.13 220.3,385.11 229.4,385.11 229.4,385.1 238.5,385.1 238.5,385.09 247.6,385.09 247.6,385.08 256.7,385.08 256.7,385.07 265.8,385.07 265.8,385.06 274.9,385.06 274.9,385.04 284,385.04 284,385.03 293.1,385.03 293.1,385.01 302.2,385.01 302.2,385 311.3,385 311.3,384.98 320.4,384.98 320.4,385.03 329.5,385.03 329.5,385.08 338.6,385.08 338.6,385.14 347.7,385.14 347.7,385.17 356.8,385.17 356.8,385.19 365.9,385.19 365.9,385.2 375,385.2 375,385.22 384.1,385.22 384.1,384.09 393.2,384.09 393.2,381.92 402.3,381.92 402.3,378.68 411.4,378.68 411.4,374.07 420.5,374.07 420.5,368.72 429.6,368.72 429.6,362.81 438.7,362.81 438.7,357.33 447.8,357.33 447.8,351.99 456.9,351.99 456.9,346 466,346 466,340.99 475.1,340.99 475.1,336.06 484.2,336.06 484.2,331.94 493.3,331.94 493.3,328.04 502.4,328.04 502.4,325.58 511.5,325.58 511.5,324.59 520.6,324.59 520.6,324.85 529.7,324.85 529.7,325.48 538.8,325.48 538.8,326.11 547.9,326.11 547.9,326.45 557,326.45 557,326.79 566.1,326.79 566.1,327.43 575.2,327.43 575.2,328.53 584.3,328.53 584.3,330.03 593.4,330.03 593.4,331.89 602.5,331.89 602.5,333.85 611.6,333.85 611.6,336.42 620.7,336.42 620.7,339.5 629.8,339.5 629.8,342.72 638.9,342.72 638.9,345.51 648,345.51 648,348.43 657.1,348.43 657.1,356.55 657.65,356.55 657.65,356.55" fill="none" stroke="#5185d7" stroke-width="1.55" stroke-opacity="1" stroke-linejoin="miter"/>
<polyline points="113.47,382.79 120.2,382.79 120.2,382.8 129.3,382.8 129.3,382.82 138.4,382.82 138.4,382.83 147.5,382.83 147.5,382.85 156.6,382.85 156.6,382.86 165.7,382.86 165.7,382.86 174.8,382.86 174.8,382.84 183.9,382.84 183.9,382.82 193,382.82 193,382.79 202.1,382.79 202.1,382.77 211.2,382.77 211.2,382.75 220.3,382.75 220.3,382.74 229.4,382.74 229.4,382.73 238.5,382.73 238.5,382.72 247.6,382.72 247.6,382.71 256.7,382.71 256.7,382.7 265.8,382.7 265.8,382.68 274.9,382.68 274.9,382.67 284,382.67 284,382.65 293.1,382.65 293.1,382.64 302.2,382.64 302.2,382.62 311.3,382.62 311.3,382.61 320.4,382.61 320.4,382.65 329.5,382.65 329.5,382.71 338.6,382.71 338.6,382.77 347.7,382.77 347.7,382.8 356.8,382.8 356.8,382.81 365.9,382.81 365.9,382.83 375,382.83 375,383.02 384.1,383.02 384.1,381.84 393.2,381.84 393.2,379.04 402.3,379.04 402.3,373.06 411.4,373.06 411.4,365.01 420.5,365.01 420.5,356.28 429.6,356.28 429.6,346.92 438.7,346.92 438.7,338.12 447.8,338.12 447.8,329.83 456.9,329.83 456.9,320.93 466,320.93 466,313.05 475.1,313.05 475.1,305.86 484.2,305.86 484.2,300.38 493.3,300.38 493.3,295.95 502.4,295.95 502.4,293 511.5,293 511.5,292.01 520.6,292.01 520.6,292.27 529.7,292.27 529.7,293.08 538.8,293.08 538.8,293.98 547.9,293.98 547.9,294.59 557,294.59 557,295.5 566.1,295.5 566.1,297.02 575.2,297.02 575.2,299.01 584.3,299.01 584.3,301.43 593.4,301.43 593.4,304.26 602.5,304.26 602.5,307.2 611.6,307.2 611.6,310.65 620.7,310.65 620.7,314.35 629.8,314.35 629.8,318.19 638.9,318.19 638.9,321.8 648,321.8 648,326.02 657.1,326.02 657.1,338.05 657.65,338.05 657.65,338.06" fill="none" stroke="#e15d07" stroke-width="1.55" stroke-opacity="1" stroke-linejoin="miter"/>
<polyline points="113.47,378.29 120.2,378.29 120.2,378.36 129.3,378.36 129.3,378.43 138.4,378.43 138.4,378.5 147.5,378.5 147.5,378.57 156.6,378.57 156.6,378.65 165.7,378.65 165.7,378.7 174.8,378.7 174.8,378.74 183.9,378.74 183.9,378.77 193,378.77 193,378.81 202.1,378.81 202.1,378.84 211.2,378.84 211.2,378.85 220.3,378.85 220.3,378.84 229.4,378.84 229.4,378.83 238.5,378.83 238.5,378.82 247.6,378.82 247.6,378.8 256.7,378.8 256.7,378.79 265.8,378.79 265.8,378.72 274.9,378.72 274.9,378.57 284,378.57 284,378.43 293.1,378.43 293.1,378.29 302.2,378.29 302.2,378.21 311.3,378.21 311.3,378.2 320.4,378.2 320.4,378.24 329.5,378.24 329.5,378.3 338.6,378.3 338.6,378.35 347.7,378.35 347.7,378.39 356.8,378.39 356.8,378.4 365.9,378.4 365.9,378.41 375,378.41 375,378.61 384.1,378.61 384.1,377.17 393.2,377.17 393.2,373.81 402.3,373.81 402.3,366.46 411.4,366.46 411.4,356.21 420.5,356.21 420.5,345.17 429.6,345.17 429.6,332.43 438.7,332.43 438.7,320.52 447.8,320.52 447.8,309.19 456.9,309.19 456.9,297.03 466,297.03 466,283.72 475.1,283.72 475.1,273.36 484.2,273.36 484.2,266.3 493.3,266.3 493.3,260.26 502.4,260.26 502.4,257.17 511.5,257.17 511.5,256.05 520.6,256.05 520.6,256.17 529.7,256.17 529.7,257.15 538.8,257.15 538.8,258.88 547.9,258.88 547.9,259.41 557,259.41 557,260.52 566.1,260.52 566.1,262.47 575.2,262.47 575.2,265.11 584.3,265.11 584.3,268.21 593.4,268.21 593.4,271.48 602.5,271.48 602.5,274.94 611.6,274.94 611.6,279.09 620.7,279.09 620.7,283.93 629.8,283.93 629.8,289.14 638.9,289.14 638.9,295.6 648,295.6 648,301.68 657.1,301.68 657.1,317.52 657.65,317.52 657.65,317.52" fill="none" stroke="#ca2f43" stroke-width="1.55" stroke-opacity="1" stroke-linejoin="miter"/>
<polyline points="113.47,376.26 120.2,376.26 120.2,376.33 129.3,376.33 129.3,376.4 138.4,376.4 138.4,376.47 147.5,376.47 147.5,376.54 156.6,376.54 156.6,376.61 165.7,376.61 165.7,376.67 174.8,376.67 174.8,376.7 183.9,376.7 183.9,376.73 193,376.73 193,376.77 202.1,376.77 202.1,376.8 211.2,376.8 211.2,376.81 220.3,376.81 220.3,376.8 229.4,376.8 229.4,376.79 238.5,376.79 238.5,376.78 247.6,376.78 247.6,376.77 256.7,376.77 256.7,376.59 265.8,376.59 265.8,376.68 274.9,376.68 274.9,376.54 284,376.54 284,376.4 293.1,376.4 293.1,376.25 302.2,376.25 302.2,376.17 311.3,376.17 311.3,376.16 320.4,376.16 320.4,376.2 329.5,376.2 329.5,376.26 338.6,376.26 338.6,376.32 347.7,376.32 347.7,376.35 356.8,376.35 356.8,376.36 365.9,376.36 365.9,376.38 375,376.38 375,376.57 384.1,376.57 384.1,374.36 393.2,374.36 393.2,369.46 402.3,369.46 402.3,360.32 411.4,360.32 411.4,347.39 420.5,347.39 420.5,333.1 429.6,333.1 429.6,317.41 438.7,317.41 438.7,302.13 447.8,302.13 447.8,287.8 456.9,287.8 456.9,272.75 466,272.75 466,256.4 475.1,256.4 475.1,243 484.2,243 484.2,234.03 493.3,234.03 493.3,226.66 502.4,226.66 502.4,223.54 511.5,223.54 511.5,222.38 520.6,222.38 520.6,222.33 529.7,222.33 529.7,223.07 538.8,223.07 538.8,224.69 547.9,224.69 547.9,226.3 557,226.3 557,228.2 566.1,228.2 566.1,230.69 575.2,230.69 575.2,233.86 584.3,233.86 584.3,237.67 593.4,237.67 593.4,242.1 602.5,242.1 602.5,246.67 611.6,246.67 611.6,251.48 620.7,251.48 620.7,257.06 629.8,257.06 629.8,263.21 638.9,263.21 638.9,270.43 648,270.43 648,277.27 657.1,277.27 657.1,296.14 657.65,296.14 657.65,296.14" fill="none" stroke="#3163b2" stroke-width="1.55" stroke-opacity="1" stroke-linejoin="miter"/>
<polyline points="113.47,372.01 120.2,372.01 120.2,372.08 129.3,372.08 129.3,372.16 138.4,372.16 138.4,372.23 147.5,372.23 147.5,372.3 156.6,372.3 156.6,372.37 165.7,372.37 165.7,372.42 174.8,372.42 174.8,372.46 183.9,372.46 183.9,372.49 193,372.49 193,372.53 202.1,372.53 202.1,372.56 211.2,372.56 211.2,372.57 220.3,372.57 220.3,372.56 229.4,372.56 229.4,372.55 238.5,372.55 238.5,372.54 247.6,372.54 247.6,372.53 256.7,372.53 256.7,372.35 265.8,372.35 265.8,372.44 274.9,372.44 274.9,372.29 284,372.29 284,372.15 293.1,372.15 293.1,372.01 302.2,372.01 302.2,371.93 311.3,371.93 311.3,371.92 320.4,371.92 320.4,371.96 329.5,371.96 329.5,372.02 338.6,372.02 338.6,372.08 347.7,372.08 347.7,372.11 356.8,372.11 356.8,372.12 365.9,372.12 365.9,372.14 375,372.14 375,372.33 384.1,372.33 384.1,370.12 393.2,370.12 393.2,364.63 402.3,364.63 402.3,354.38 411.4,354.38 411.4,339.29 420.5,339.29 420.5,321.98 429.6,321.98 429.6,303.58 438.7,303.58 438.7,284.38 447.8,284.38 447.8,266.67 456.9,266.67 456.9,248.9 466,248.9 466,229.76 475.1,229.76 475.1,214.7 484.2,214.7 484.2,205.01 493.3,205.01 493.3,197.64 502.4,197.64 502.4,194.52 511.5,194.52 511.5,193.45 520.6,193.45 520.6,193.57 529.7,193.57 529.7,194.71 538.8,194.71 538.8,196.95 547.9,196.95 547.9,199.18 557,199.18 557,201.5 566.1,201.5 566.1,204.19 575.2,204.19 575.2,207.58 584.3,207.58 584.3,211.89 593.4,211.89 593.4,217.47 602.5,217.47 602.5,223.72 611.6,223.72 611.6,234.29 620.7,234.29 620.7,244.29 629.8,244.29 629.8,255.69 638.9,255.69 638.9,265.51 648,265.51 648,272.35 657.1,272.35 657.1,291.22 657.65,291.22 657.65,291.22" fill="none" stroke="#8649a9" stroke-width="1.55" stroke-opacity="1" stroke-linejoin="miter"/>
<polyline points="113.47,369.81 120.2,369.81 120.2,369.88 129.3,369.88 129.3,369.95 138.4,369.95 138.4,370.02 147.5,370.02 147.5,370.09 156.6,370.09 156.6,370.16 165.7,370.16 165.7,370.22 174.8,370.22 174.8,370.25 183.9,370.25 183.9,370.63 193,370.63 193,370.66 202.1,370.66 202.1,370.7 211.2,370.7 211.2,370.7 220.3,370.7 220.3,370.69 229.4,370.69 229.4,370.68 238.5,370.68 238.5,370.67 247.6,370.67 247.6,370.66 256.7,370.66 256.7,370.48 265.8,370.48 265.8,370.57 274.9,370.57 274.9,370.43 284,370.43 284,370.29 293.1,370.29 293.1,370.14 302.2,370.14 302.2,369.73 311.3,369.73 311.3,369.71 320.4,369.71 320.4,369.75 329.5,369.75 329.5,369.81 338.6,369.81 338.6,369.87 347.7,369.87 347.7,369.9 356.8,369.9 356.8,369.92 365.9,369.92 365.9,369.93 375,369.93 375,370.13 384.1,370.13 384.1,367.92 393.2,367.92 393.2,361.4 402.3,361.4 402.3,349.52 411.4,349.52 411.4,332.05 420.5,332.05 420.5,311.75 429.6,311.75 429.6,290.73 438.7,290.73 438.7,267.78 447.8,267.78 447.8,247.1 456.9,247.1 456.9,226.26 466,226.26 466,204.81 475.1,204.81 475.1,186.78 484.2,186.78 484.2,174.81 493.3,174.81 493.3,165.74 502.4,165.74 502.4,161.2 511.5,161.2 511.5,160.78 520.6,160.78 520.6,160.73 529.7,160.73 529.7,161.93 538.8,161.93 538.8,164.46 547.9,164.46 547.9,166.97 557,166.97 557,169.78 566.1,169.78 566.1,173.16 575.2,173.16 575.2,177.23 584.3,177.23 584.3,182.17 593.4,182.17 593.4,188.25 602.5,188.25 602.5,195 611.6,195 611.6,206.14 620.7,206.14 620.7,216.89 629.8,216.89 629.8,229.17 638.9,229.17 638.9,241.64 648,241.64 648,250.52 657.1,250.52 657.1,271.7 657.65,271.7 657.65,271.71" fill="none" stroke="#605188" stroke-width="1.55" stroke-opacity="1" stroke-linejoin="miter"/>
<line x1="1111.6" y1="180.6" x2="1680.2" y2="180.6" stroke="rgba(36,41,46,0.075)" stroke-width="1"/>
<text x="1102.4" y="186.1" font-family='"Liberation Sans", sans-serif' font-size="19" fill="#2b2e33" text-anchor="end" font-weight="400" >60%</text>
<line x1="1111.6" y1="252.4" x2="1680.2" y2="252.4" stroke="rgba(36,41,46,0.075)" stroke-width="1"/>
<text x="1102.4" y="257.9" font-family='"Liberation Sans", sans-serif' font-size="19" fill="#2b2e33" text-anchor="end" font-weight="400" >40%</text>
<line x1="1111.6" y1="323.8" x2="1680.2" y2="323.8" stroke="rgba(36,41,46,0.075)" stroke-width="1"/>
<text x="1102.4" y="329.3" font-family='"Liberation Sans", sans-serif' font-size="19" fill="#2b2e33" text-anchor="end" font-weight="400" >20%</text>
<line x1="1111.6" y1="395.6" x2="1680.2" y2="395.6" stroke="rgba(36,41,46,0.075)" stroke-width="1"/>
<text x="1102.4" y="401.1" font-family='"Liberation Sans", sans-serif' font-size="19" fill="#2b2e33" text-anchor="end" font-weight="400" >0%</text>
<line x1="1166" y1="126" x2="1166" y2="397.6" stroke="rgba(36,41,46,0.075)" stroke-width="1"/>
<text x="1166" y="424.3" font-family='"Liberation Sans", sans-serif' font-size="19" fill="#2b2e33" text-anchor="middle" font-weight="400" >16:00</text>
<line x1="1260.75" y1="126" x2="1260.75" y2="397.6" stroke="rgba(36,41,46,0.075)" stroke-width="1"/>
<text x="1260.75" y="424.3" font-family='"Liberation Sans", sans-serif' font-size="19" fill="#2b2e33" text-anchor="middle" font-weight="400" >16:05</text>
<line x1="1355.5" y1="126" x2="1355.5" y2="397.6" stroke="rgba(36,41,46,0.075)" stroke-width="1"/>
<text x="1355.5" y="424.3" font-family='"Liberation Sans", sans-serif' font-size="19" fill="#2b2e33" text-anchor="middle" font-weight="400" >16:10</text>
<line x1="1450.25" y1="126" x2="1450.25" y2="397.6" stroke="rgba(36,41,46,0.075)" stroke-width="1"/>
<text x="1450.25" y="424.3" font-family='"Liberation Sans", sans-serif' font-size="19" fill="#2b2e33" text-anchor="middle" font-weight="400" >16:15</text>
<line x1="1545" y1="126" x2="1545" y2="397.6" stroke="rgba(36,41,46,0.075)" stroke-width="1"/>
<text x="1545" y="424.3" font-family='"Liberation Sans", sans-serif' font-size="19" fill="#2b2e33" text-anchor="middle" font-weight="400" >16:20</text>
<line x1="1639.75" y1="126" x2="1639.75" y2="397.6" stroke="rgba(36,41,46,0.075)" stroke-width="1"/>
<text x="1639.75" y="424.3" font-family='"Liberation Sans", sans-serif' font-size="19" fill="#2b2e33" text-anchor="middle" font-weight="400" >16:25</text>
<path d="M1111.61,232.58 1116.35,232.77 1121.09,232.97 1125.83,233.16 1130.56,233.35 1135.3,233.54 1140.04,233.73 1144.78,233.93 1149.51,234.12 1154.25,234.31 1158.99,234.5 1163.73,234.54 1168.46,234.24 1173.2,233.94 1177.94,233.64 1182.68,233.34 1187.41,233.04 1192.15,232.75 1196.89,232.45 1201.63,232.15 1206.36,231.85 1211.1,231.55 1215.84,231.33 1220.58,231.19 1225.31,231.05 1230.05,230.9 1234.79,230.76 1239.53,230.62 1244.26,230.47 1249,230.33 1253.74,230.19 1258.48,230.04 1263.21,229.87 1267.95,229.67 1272.69,229.46 1277.43,229.26 1282.16,229.06 1286.9,228.86 1291.64,228.65 1296.38,228.45 1301.11,228.25 1305.85,228.05 1310.59,227.84 1315.33,227.64 1320.06,227.56 1324.8,228.34 1329.54,229.13 1334.28,229.91 1339.01,230.69 1343.75,231.48 1348.49,232.26 1353.23,232.62 1357.96,232.82 1362.7,233.02 1367.44,233.21 1372.18,233.41 1376.91,233.61 1381.65,233.8 1386.39,234 1391.13,234.2 1395.86,234.39 1400.6,234.59 1405.34,234.79 1410.08,234.99 1414.81,235.18 1419.55,235.38 1424.29,235.58 1429.03,235.62 1433.76,235.33 1438.5,235.04 1443.24,234.76 1447.98,234.47 1452.71,234.18 1457.45,233.9 1462.19,233.61 1466.93,233.32 1471.66,233.04 1476.4,232.75 1481.14,232.46 1485.88,232.17 1490.61,231.88 1495.35,231.6 1500.09,231.31 1504.83,231.02 1509.56,230.73 1514.3,230.44 1519.04,230.16 1523.78,229.87 1528.51,229.6 1533.25,229.47 1537.99,229.34 1542.73,229.22 1547.46,229.09 1552.2,228.96 1556.94,228.83 1561.68,228.7 1566.41,228.57 1571.15,228.45 1575.89,228.32 1580.63,228.19 1585.36,228.06 1590.1,227.93 1594.84,227.78 1599.58,227.45 1604.31,227.12 1609.05,226.79 1613.79,226.45 1618.53,226.12 1623.26,225.79 1628,225.46 1632.74,225.13 1637.48,224.79 1642.21,224.46 1646.95,224.33 1651.69,224.63 1656.43,224.93 1661.16,225.23 1665.9,225.53 1670.64,225.83 1675.38,226.13 1678.22,226.3 L1678.22,395.6 1111.61,395.6 Z" fill="#56A64B" fill-opacity="0.1" stroke="none"/>
<path d="M1111.61,382.96 1118.62,382.96 1118.62,382.96 1128.1,382.96 1128.1,382.96 1137.58,382.96 1137.58,382.96 1147.05,382.96 1147.05,382.96 1156.53,382.96 1156.53,382.96 1166,382.96 1166,382.96 1175.47,382.96 1175.47,382.96 1184.95,382.96 1184.95,382.96 1194.42,382.96 1194.42,382.96 1203.9,382.96 1203.9,382.96 1213.38,382.96 1213.38,382.96 1222.85,382.96 1222.85,382.96 1232.33,382.96 1232.33,382.96 1241.8,382.96 1241.8,382.96 1251.28,382.96 1251.28,382.96 1260.75,382.96 1260.75,382.96 1270.22,382.96 1270.22,382.96 1279.7,382.96 1279.7,382.96 1289.17,382.96 1289.17,382.96 1298.65,382.96 1298.65,382.96 1308.12,382.96 1308.12,382.96 1317.6,382.96 1317.6,382.96 1327.08,382.96 1327.08,382.96 1336.55,382.96 1336.55,382.96 1346.03,382.96 1346.03,382.96 1355.5,382.96 1355.5,382.96 1364.97,382.96 1364.97,382.96 1374.45,382.96 1374.45,382.96 1383.92,382.96 1383.92,382.96 1393.4,382.96 1393.4,376.17 1402.88,376.17 1402.88,367.64 1412.35,367.64 1412.35,356.18 1421.83,356.18 1421.83,335.46 1431.3,335.46 1431.3,313.96 1440.78,313.96 1440.78,292.88 1450.25,292.88 1450.25,274.71 1459.72,274.71 1459.72,259.48 1469.2,259.48 1469.2,238.29 1478.67,238.29 1478.67,217.5 1488.15,217.5 1488.15,195.55 1497.62,195.55 1497.62,178.09 1507.1,178.09 1507.1,169.48 1516.58,169.48 1516.58,170.28 1526.05,170.28 1526.05,171.08 1535.53,171.08 1535.53,172.3 1545,172.3 1545,174.47 1554.47,174.47 1554.47,176.63 1563.95,176.63 1563.95,176.88 1573.42,176.88 1573.42,177.13 1582.9,177.13 1582.9,179.33 1592.38,179.33 1592.38,184.75 1601.85,184.75 1601.85,189.92 1611.33,189.92 1611.33,194.61 1620.8,194.61 1620.8,200.03 1630.28,200.03 1630.28,207.27 1639.75,207.27 1639.75,215.66 1649.22,215.66 1649.22,224.85 1658.7,224.85 1658.7,234.73 1668.17,234.73 1668.17,249.33 1677.65,249.33 1677.65,264.61 1678.22,264.61 1678.22,264.61 L1678.22,395.6 1111.61,395.6 Z" fill="#E0B400" fill-opacity="0.1" stroke="none"/>
<path d="M1111.61,382.16 1118.62,382.16 1118.62,382.16 1128.1,382.16 1128.1,382.16 1137.58,382.16 1137.58,382.16 1147.05,382.16 1147.05,382.16 1156.53,382.16 1156.53,382.16 1166,382.16 1166,382.16 1175.47,382.16 1175.47,382.16 1184.95,382.16 1184.95,382.16 1194.42,382.16 1194.42,382.16 1203.9,382.16 1203.9,382.16 1213.38,382.16 1213.38,382.16 1222.85,382.16 1222.85,382.16 1232.33,382.16 1232.33,382.16 1241.8,382.16 1241.8,382.16 1251.28,382.16 1251.28,382.16 1260.75,382.16 1260.75,382.16 1270.22,382.16 1270.22,382.16 1279.7,382.16 1279.7,382.16 1289.17,382.16 1289.17,382.16 1298.65,382.16 1298.65,382.16 1308.12,382.16 1308.12,382.16 1317.6,382.16 1317.6,382.16 1327.08,382.16 1327.08,382.16 1336.55,382.16 1336.55,382.16 1346.03,382.16 1346.03,382.16 1355.5,382.16 1355.5,382.16 1364.97,382.16 1364.97,382.16 1374.45,382.16 1374.45,382.16 1383.92,382.16 1383.92,382.16 1393.4,382.16 1393.4,381.19 1402.88,381.19 1402.88,374.94 1412.35,374.94 1412.35,364.36 1421.83,364.36 1421.83,353.78 1431.3,353.78 1431.3,339.08 1440.78,339.08 1440.78,320.27 1450.25,320.27 1450.25,301.45 1459.72,301.45 1459.72,280.67 1469.2,280.67 1469.2,261.47 1478.67,261.47 1478.67,248.45 1488.15,248.45 1488.15,237.18 1497.62,237.18 1497.62,226.86 1507.1,226.86 1507.1,209.23 1516.58,209.23 1516.58,191.89 1526.05,191.89 1526.05,184.52 1535.53,184.52 1535.53,185.17 1545,185.17 1545,187.31 1554.47,187.31 1554.47,189.46 1563.95,189.46 1563.95,191.6 1573.42,191.6 1573.42,193.75 1582.9,193.75 1582.9,195.9 1592.38,195.9 1592.38,198.04 1601.85,198.04 1601.85,203.14 1611.33,203.14 1611.33,211.18 1620.8,211.18 1620.8,219.22 1630.28,219.22 1630.28,229.56 1639.75,229.56 1639.75,242.2 1649.22,242.2 1649.22,254.84 1658.7,254.84 1658.7,263.69 1668.17,263.69 1668.17,268.74 1677.65,268.74 1677.65,308.27 1678.22,308.27 1678.22,308.27 L1678.22,395.6 1111.61,395.6 Z" fill="#5794F2" fill-opacity="0.1" stroke="none"/>
<path d="M1111.61,379.51 1118.62,379.51 1118.62,379.51 1128.1,379.51 1128.1,379.51 1137.58,379.51 1137.58,379.51 1147.05,379.51 1147.05,379.51 1156.53,379.51 1156.53,379.51 1166,379.51 1166,379.51 1175.47,379.51 1175.47,379.51 1184.95,379.51 1184.95,379.51 1194.42,379.51 1194.42,379.51 1203.9,379.51 1203.9,379.51 1213.38,379.51 1213.38,379.51 1222.85,379.51 1222.85,379.51 1232.33,379.51 1232.33,379.51 1241.8,379.51 1241.8,379.51 1251.28,379.51 1251.28,379.51 1260.75,379.51 1260.75,379.51 1270.22,379.51 1270.22,379.51 1279.7,379.51 1279.7,379.51 1289.17,379.51 1289.17,379.51 1298.65,379.51 1298.65,379.51 1308.12,379.51 1308.12,379.51 1317.6,379.51 1317.6,379.51 1327.08,379.51 1327.08,379.51 1336.55,379.51 1336.55,379.51 1346.03,379.51 1346.03,379.51 1355.5,379.51 1355.5,379.51 1364.97,379.51 1364.97,379.51 1374.45,379.51 1374.45,379.51 1383.92,379.51 1383.92,380.74 1393.4,380.74 1393.4,380.38 1402.88,380.38 1402.88,376.1 1412.35,376.1 1412.35,357.57 1421.83,357.57 1421.83,334.26 1431.3,334.26 1431.3,311.33 1440.78,311.33 1440.78,287.99 1450.25,287.99 1450.25,265.51 1459.72,265.51 1459.72,245.54 1469.2,245.54 1469.2,225.79 1478.67,225.79 1478.67,206.45 1488.15,206.45 1488.15,191.07 1497.62,191.07 1497.62,181.93 1507.1,181.93 1507.1,178.28 1516.58,178.28 1516.58,174.98 1526.05,174.98 1526.05,174.98 1535.53,174.98 1535.53,174.98 1545,174.98 1545,176.24 1554.47,176.24 1554.47,178.04 1563.95,178.04 1563.95,179.83 1573.42,179.83 1573.42,183.71 1582.9,183.71 1582.9,189.68 1592.38,189.68 1592.38,195.65 1601.85,195.65 1601.85,201.94 1611.33,201.94 1611.33,208.55 1620.8,208.55 1620.8,215.17 1630.28,215.17 1630.28,221.06 1639.75,221.06 1639.75,225.27 1649.22,225.27 1649.22,229.49 1658.7,229.49 1658.7,235.06 1668.17,235.06 1668.17,243.83 1677.65,243.83 1677.65,270.35 1678.22,270.35 1678.22,270.35 L1678.22,395.6 1111.61,395.6 Z" fill="#FA6400" fill-opacity="0.1" stroke="none"/>
<path d="M1111.61,365.15 1118.62,365.15 1118.62,365.53 1128.1,365.53 1128.1,365.92 1137.58,365.92 1137.58,366.3 1147.05,366.3 1147.05,366.68 1156.53,366.68 1156.53,367.07 1166,367.07 1166,367.45 1175.47,367.45 1175.47,367.83 1184.95,367.83 1184.95,368.21 1194.42,368.21 1194.42,368.6 1203.9,368.6 1203.9,368.98 1213.38,368.98 1213.38,369.17 1222.85,369.17 1222.85,369.17 1232.33,369.17 1232.33,369.17 1241.8,369.17 1241.8,369.17 1251.28,369.17 1251.28,369.17 1260.75,369.17 1260.75,369.17 1270.22,369.17 1270.22,368.74 1279.7,368.74 1279.7,367.88 1289.17,367.88 1289.17,367.02 1298.65,367.02 1298.65,366.16 1308.12,366.16 1308.12,365.73 1317.6,365.73 1317.6,365.73 1327.08,365.73 1327.08,365.73 1336.55,365.73 1336.55,365.73 1346.03,365.73 1346.03,365.73 1355.5,365.73 1355.5,365.73 1364.97,365.73 1364.97,365.73 1374.45,365.73 1374.45,365.73 1383.92,365.73 1383.92,365.73 1393.4,365.73 1393.4,364 1402.88,364 1402.88,360.21 1412.35,360.21 1412.35,350.9 1421.83,350.9 1421.83,336.02 1431.3,336.02 1431.3,320.37 1440.78,320.37 1440.78,297.47 1450.25,297.47 1450.25,276.44 1459.72,276.44 1459.72,255.88 1469.2,255.88 1469.2,233.82 1478.67,233.82 1478.67,196.93 1488.15,196.93 1488.15,175.56 1497.62,175.56 1497.62,164.83 1507.1,164.83 1507.1,153.93 1516.58,153.93 1516.58,153.01 1526.05,153.01 1526.05,152.09 1535.53,152.09 1535.53,151.16 1545,151.16 1545,152.29 1554.47,152.29 1554.47,157.93 1563.95,157.93 1563.95,157.43 1573.42,157.43 1573.42,158.68 1582.9,158.68 1582.9,161.68 1592.38,161.68 1592.38,166.09 1601.85,166.09 1601.85,170.65 1611.33,170.65 1611.33,173.59 1620.8,173.59 1620.8,177.11 1630.28,177.11 1630.28,181.9 1639.75,181.9 1639.75,189.63 1649.22,189.63 1649.22,198.91 1658.7,198.91 1658.7,218.19 1668.17,218.19 1668.17,230.83 1677.65,230.83 1677.65,256.57 1678.22,256.57 1678.22,256.57 L1678.22,395.6 1111.61,395.6 Z" fill="#E02F44" fill-opacity="0.1" stroke="none"/>
<path d="M1111.61,381.81 1118.62,381.81 1118.62,381.81 1128.1,381.81 1128.1,381.81 1137.58,381.81 1137.58,381.81 1147.05,381.81 1147.05,381.81 1156.53,381.81 1156.53,381.81 1166,381.81 1166,381.81 1175.47,381.81 1175.47,381.81 1184.95,381.81 1184.95,381.81 1194.42,381.81 1194.42,381.81 1203.9,381.81 1203.9,381.81 1213.38,381.81 1213.38,381.81 1222.85,381.81 1222.85,381.81 1232.33,381.81 1232.33,381.81 1241.8,381.81 1241.8,381.81 1251.28,381.81 1251.28,381.81 1260.75,381.81 1260.75,380.66 1270.22,380.66 1270.22,381.81 1279.7,381.81 1279.7,381.81 1289.17,381.81 1289.17,381.81 1298.65,381.81 1298.65,381.81 1308.12,381.81 1308.12,381.81 1317.6,381.81 1317.6,381.81 1327.08,381.81 1327.08,381.81 1336.55,381.81 1336.55,381.81 1346.03,381.81 1346.03,381.81 1355.5,381.81 1355.5,381.81 1364.97,381.81 1364.97,381.81 1374.45,381.81 1374.45,381.81 1383.92,381.81 1383.92,381.81 1393.4,381.81 1393.4,376.59 1402.88,376.59 1402.88,366.14 1412.35,366.14 1412.35,354 1421.83,354 1421.83,335.85 1431.3,335.85 1431.3,313.9 1440.78,313.9 1440.78,293.94 1450.25,293.94 1450.25,271.04 1459.72,271.04 1459.72,250.71 1469.2,250.71 1469.2,231.17 1478.67,231.17 1478.67,210.6 1488.15,210.6 1488.15,190 1497.62,190 1497.62,177.06 1507.1,177.06 1507.1,168.07 1516.58,168.07 1516.58,167.84 1526.05,167.84 1526.05,167.61 1535.53,167.61 1535.53,166.42 1545,166.42 1545,164.82 1554.47,164.82 1554.47,164.11 1563.95,164.11 1563.95,171.36 1573.42,171.36 1573.42,176.78 1582.9,176.78 1582.9,180.37 1592.38,180.37 1592.38,183.96 1601.85,183.96 1601.85,188.83 1611.33,188.83 1611.33,196.69 1620.8,196.69 1620.8,204.21 1630.28,204.21 1630.28,208.65 1639.75,208.65 1639.75,213.65 1649.22,213.65 1649.22,219.97 1658.7,219.97 1658.7,225.14 1668.17,225.14 1668.17,230.31 1677.65,230.31 1677.65,250.82 1678.22,250.82 1678.22,250.82 L1678.22,395.6 1111.61,395.6 Z" fill="#3274D9" fill-opacity="0.1" stroke="none"/>
<path d="M1111.61,366.87 1118.62,366.87 1118.62,366.87 1128.1,366.87 1128.1,366.87 1137.58,366.87 1137.58,366.87 1147.05,366.87 1147.05,366.87 1156.53,366.87 1156.53,366.87 1166,366.87 1166,366.87 1175.47,366.87 1175.47,366.87 1184.95,366.87 1184.95,366.87 1194.42,366.87 1194.42,366.87 1203.9,366.87 1203.9,366.87 1213.38,366.87 1213.38,366.87 1222.85,366.87 1222.85,366.87 1232.33,366.87 1232.33,366.87 1241.8,366.87 1241.8,366.87 1251.28,366.87 1251.28,366.87 1260.75,366.87 1260.75,366.87 1270.22,366.87 1270.22,366.87 1279.7,366.87 1279.7,366.87 1289.17,366.87 1289.17,366.87 1298.65,366.87 1298.65,366.87 1308.12,366.87 1308.12,366.87 1317.6,366.87 1317.6,366.87 1327.08,366.87 1327.08,366.87 1336.55,366.87 1336.55,366.87 1346.03,366.87 1346.03,366.87 1355.5,366.87 1355.5,366.87 1364.97,366.87 1364.97,366.87 1374.45,366.87 1374.45,366.87 1383.92,366.87 1383.92,366.87 1393.4,366.87 1393.4,366.87 1402.88,366.87 1402.88,362.85 1412.35,362.85 1412.35,355.38 1421.83,355.38 1421.83,340.79 1431.3,340.79 1431.3,320.28 1440.78,320.28 1440.78,301.9 1450.25,301.9 1450.25,275.41 1459.72,275.41 1459.72,252.54 1469.2,252.54 1469.2,234.1 1478.67,234.1 1478.67,215.26 1488.15,215.26 1488.15,203.94 1497.62,203.94 1497.62,199.11 1507.1,199.11 1507.1,199.11 1516.58,199.11 1516.58,199.11 1526.05,199.11 1526.05,199.69 1535.53,199.69 1535.53,200.84 1545,200.84 1545,203.52 1554.47,203.52 1554.47,207.73 1563.95,207.73 1563.95,211.95 1573.42,211.95 1573.42,214.77 1582.9,214.77 1582.9,216.21 1592.38,216.21 1592.38,217.64 1601.85,217.64 1601.85,221 1611.33,221 1611.33,228.83 1620.8,228.83 1620.8,240.19 1630.28,240.19 1630.28,279.18 1639.75,279.18 1639.75,309.14 1649.22,309.14 1649.22,344.68 1658.7,344.68 1658.7,362.28 1668.17,362.28 1668.17,362.28 1677.65,362.28 1677.65,362.28 1678.22,362.28 1678.22,362.28 L1678.22,395.6 1111.61,395.6 Z" fill="#A352CC" fill-opacity="0.1" stroke="none"/>
<path d="M1111.61,380.66 1118.62,380.66 1118.62,380.66 1128.1,380.66 1128.1,380.66 1137.58,380.66 1137.58,380.66 1147.05,380.66 1147.05,380.66 1156.53,380.66 1156.53,380.66 1166,380.66 1166,380.66 1175.47,380.66 1175.47,380.66 1184.95,380.66 1184.95,382.96 1194.42,382.96 1194.42,382.96 1203.9,382.96 1203.9,382.96 1213.38,382.96 1213.38,382.96 1222.85,382.96 1222.85,382.96 1232.33,382.96 1232.33,382.96 1241.8,382.96 1241.8,382.96 1251.28,382.96 1251.28,382.96 1260.75,382.96 1260.75,382.96 1270.22,382.96 1270.22,382.96 1279.7,382.96 1279.7,382.96 1289.17,382.96 1289.17,382.96 1298.65,382.96 1298.65,382.96 1308.12,382.96 1308.12,380.66 1317.6,380.66 1317.6,380.66 1327.08,380.66 1327.08,380.66 1336.55,380.66 1336.55,380.66 1346.03,380.66 1346.03,380.66 1355.5,380.66 1355.5,380.66 1364.97,380.66 1364.97,380.66 1374.45,380.66 1374.45,380.66 1383.92,380.66 1383.92,380.66 1393.4,380.66 1393.4,380.66 1402.88,380.66 1402.88,373.77 1412.35,373.77 1412.35,362.74 1421.83,362.74 1421.83,346.54 1431.3,346.54 1431.3,326.31 1440.78,326.31 1440.78,308.65 1450.25,308.65 1450.25,283.22 1459.72,283.22 1459.72,263.12 1469.2,263.12 1469.2,242.26 1478.67,242.26 1478.67,226.63 1488.15,226.63 1488.15,206.58 1497.62,206.58 1497.62,191.07 1507.1,191.07 1507.1,179.58 1516.58,179.58 1516.58,169.93 1526.05,169.93 1526.05,174.41 1535.53,174.41 1535.53,173.26 1545,173.26 1545,173.66 1554.47,173.66 1554.47,175.6 1563.95,175.6 1563.95,177.54 1573.42,177.54 1573.42,180.83 1582.9,180.83 1582.9,185.47 1592.38,185.47 1592.38,190.12 1601.85,190.12 1601.85,194.37 1611.33,194.37 1611.33,197.73 1620.8,197.73 1620.8,201.08 1630.28,201.08 1630.28,205.01 1639.75,205.01 1639.75,210.06 1649.22,210.06 1649.22,216.06 1658.7,216.06 1658.7,233.99 1668.17,233.99 1668.17,247.78 1677.65,247.78 1677.65,263.46 1678.22,263.46 1678.22,263.46 L1678.22,395.6 1111.61,395.6 Z" fill="#705DA0" fill-opacity="0.1" stroke="none"/>
<polyline points="1111.61,232.58 1116.35,232.77 1121.09,232.97 1125.83,233.16 1130.56,233.35 1135.3,233.54 1140.04,233.73 1144.78,233.93 1149.51,234.12 1154.25,234.31 1158.99,234.5 1163.73,234.54 1168.46,234.24 1173.2,233.94 1177.94,233.64 1182.68,233.34 1187.41,233.04 1192.15,232.75 1196.89,232.45 1201.63,232.15 1206.36,231.85 1211.1,231.55 1215.84,231.33 1220.58,231.19 1225.31,231.05 1230.05,230.9 1234.79,230.76 1239.53,230.62 1244.26,230.47 1249,230.33 1253.74,230.19 1258.48,230.04 1263.21,229.87 1267.95,229.67 1272.69,229.46 1277.43,229.26 1282.16,229.06 1286.9,228.86 1291.64,228.65 1296.38,228.45 1301.11,228.25 1305.85,228.05 1310.59,227.84 1315.33,227.64 1320.06,227.56 1324.8,228.34 1329.54,229.13 1334.28,229.91 1339.01,230.69 1343.75,231.48 1348.49,232.26 1353.23,232.62 1357.96,232.82 1362.7,233.02 1367.44,233.21 1372.18,233.41 1376.91,233.61 1381.65,233.8 1386.39,234 1391.13,234.2 1395.86,234.39 1400.6,234.59 1405.34,234.79 1410.08,234.99 1414.81,235.18 1419.55,235.38 1424.29,235.58 1429.03,235.62 1433.76,235.33 1438.5,235.04 1443.24,234.76 1447.98,234.47 1452.71,234.18 1457.45,233.9 1462.19,233.61 1466.93,233.32 1471.66,233.04 1476.4,232.75 1481.14,232.46 1485.88,232.17 1490.61,231.88 1495.35,231.6 1500.09,231.31 1504.83,231.02 1509.56,230.73 1514.3,230.44 1519.04,230.16 1523.78,229.87 1528.51,229.6 1533.25,229.47 1537.99,229.34 1542.73,229.22 1547.46,229.09 1552.2,228.96 1556.94,228.83 1561.68,228.7 1566.41,228.57 1571.15,228.45 1575.89,228.32 1580.63,228.19 1585.36,228.06 1590.1,227.93 1594.84,227.78 1599.58,227.45 1604.31,227.12 1609.05,226.79 1613.79,226.45 1618.53,226.12 1623.26,225.79 1628,225.46 1632.74,225.13 1637.48,224.79 1642.21,224.46 1646.95,224.33 1651.69,224.63 1656.43,224.93 1661.16,225.23 1665.9,225.53 1670.64,225.83 1675.38,226.13 1678.22,226.3" fill="none" stroke="#529a49" stroke-width="1.6" stroke-opacity="1" stroke-linejoin="miter"/>
<polyline points="1111.61,382.96 1118.62,382.96 1118.62,382.96 1128.1,382.96 1128.1,382.96 1137.58,382.96 1137.58,382.96 1147.05,382.96 1147.05,382.96 1156.53,382.96 1156.53,382.96 1166,382.96 1166,382.96 1175.47,382.96 1175.47,382.96 1184.95,382.96 1184.95,382.96 1194.42,382.96 1194.42,382.96 1203.9,382.96 1203.9,382.96 1213.38,382.96 1213.38,382.96 1222.85,382.96 1222.85,382.96 1232.33,382.96 1232.33,382.96 1241.8,382.96 1241.8,382.96 1251.28,382.96 1251.28,382.96 1260.75,382.96 1260.75,382.96 1270.22,382.96 1270.22,382.96 1279.7,382.96 1279.7,382.96 1289.17,382.96 1289.17,382.96 1298.65,382.96 1298.65,382.96 1308.12,382.96 1308.12,382.96 1317.6,382.96 1317.6,382.96 1327.08,382.96 1327.08,382.96 1336.55,382.96 1336.55,382.96 1346.03,382.96 1346.03,382.96 1355.5,382.96 1355.5,382.96 1364.97,382.96 1364.97,382.96 1374.45,382.96 1374.45,382.96 1383.92,382.96 1383.92,382.96 1393.4,382.96 1393.4,376.17 1402.88,376.17 1402.88,367.64 1412.35,367.64 1412.35,356.18 1421.83,356.18 1421.83,335.46 1431.3,335.46 1431.3,313.96 1440.78,313.96 1440.78,292.88 1450.25,292.88 1450.25,274.71 1459.72,274.71 1459.72,259.48 1469.2,259.48 1469.2,238.29 1478.67,238.29 1478.67,217.5 1488.15,217.5 1488.15,195.55 1497.62,195.55 1497.62,178.09 1507.1,178.09 1507.1,169.48 1516.58,169.48 1516.58,170.28 1526.05,170.28 1526.05,171.08 1535.53,171.08 1535.53,172.3 1545,172.3 1545,174.47 1554.47,174.47 1554.47,176.63 1563.95,176.63 1563.95,176.88 1573.42,176.88 1573.42,177.13 1582.9,177.13 1582.9,179.33 1592.38,179.33 1592.38,184.75 1601.85,184.75 1601.85,189.92 1611.33,189.92 1611.33,194.61 1620.8,194.61 1620.8,200.03 1630.28,200.03 1630.28,207.27 1639.75,207.27 1639.75,215.66 1649.22,215.66 1649.22,224.85 1658.7,224.85 1658.7,234.73 1668.17,234.73 1668.17,249.33 1677.65,249.33 1677.65,264.61 1678.22,264.61 1678.22,264.61" fill="none" stroke="#d1a905" stroke-width="1.6" stroke-opacity="1" stroke-linejoin="miter"/>
<polyline points="1111.61,382.16 1118.62,382.16 1118.62,382.16 1128.1,382.16 1128.1,382.16 1137.58,382.16 1137.58,382.16 1147.05,382.16 1147.05,382.16 1156.53,382.16 1156.53,382.16 1166,382.16 1166,382.16 1175.47,382.16 1175.47,382.16 1184.95,382.16 1184.95,382.16 1194.42,382.16 1194.42,382.16 1203.9,382.16 1203.9,382.16 1213.38,382.16 1213.38,382.16 1222.85,382.16 1222.85,382.16 1232.33,382.16 1232.33,382.16 1241.8,382.16 1241.8,382.16 1251.28,382.16 1251.28,382.16 1260.75,382.16 1260.75,382.16 1270.22,382.16 1270.22,382.16 1279.7,382.16 1279.7,382.16 1289.17,382.16 1289.17,382.16 1298.65,382.16 1298.65,382.16 1308.12,382.16 1308.12,382.16 1317.6,382.16 1317.6,382.16 1327.08,382.16 1327.08,382.16 1336.55,382.16 1336.55,382.16 1346.03,382.16 1346.03,382.16 1355.5,382.16 1355.5,382.16 1364.97,382.16 1364.97,382.16 1374.45,382.16 1374.45,382.16 1383.92,382.16 1383.92,382.16 1393.4,382.16 1393.4,381.19 1402.88,381.19 1402.88,374.94 1412.35,374.94 1412.35,364.36 1421.83,364.36 1421.83,353.78 1431.3,353.78 1431.3,339.08 1440.78,339.08 1440.78,320.27 1450.25,320.27 1450.25,301.45 1459.72,301.45 1459.72,280.67 1469.2,280.67 1469.2,261.47 1478.67,261.47 1478.67,248.45 1488.15,248.45 1488.15,237.18 1497.62,237.18 1497.62,226.86 1507.1,226.86 1507.1,209.23 1516.58,209.23 1516.58,191.89 1526.05,191.89 1526.05,184.52 1535.53,184.52 1535.53,185.17 1545,185.17 1545,187.31 1554.47,187.31 1554.47,189.46 1563.95,189.46 1563.95,191.6 1573.42,191.6 1573.42,193.75 1582.9,193.75 1582.9,195.9 1592.38,195.9 1592.38,198.04 1601.85,198.04 1601.85,203.14 1611.33,203.14 1611.33,211.18 1620.8,211.18 1620.8,219.22 1630.28,219.22 1630.28,229.56 1639.75,229.56 1639.75,242.2 1649.22,242.2 1649.22,254.84 1658.7,254.84 1658.7,263.69 1668.17,263.69 1668.17,268.74 1677.65,268.74 1677.65,308.27 1678.22,308.27 1678.22,308.27" fill="none" stroke="#5185d7" stroke-width="1.6" stroke-opacity="1" stroke-linejoin="miter"/>
<polyline points="1111.61,379.51 1118.62,379.51 1118.62,379.51 1128.1,379.51 1128.1,379.51 1137.58,379.51 1137.58,379.51 1147.05,379.51 1147.05,379.51 1156.53,379.51 1156.53,379.51 1166,379.51 1166,379.51 1175.47,379.51 1175.47,379.51 1184.95,379.51 1184.95,379.51 1194.42,379.51 1194.42,379.51 1203.9,379.51 1203.9,379.51 1213.38,379.51 1213.38,379.51 1222.85,379.51 1222.85,379.51 1232.33,379.51 1232.33,379.51 1241.8,379.51 1241.8,379.51 1251.28,379.51 1251.28,379.51 1260.75,379.51 1260.75,379.51 1270.22,379.51 1270.22,379.51 1279.7,379.51 1279.7,379.51 1289.17,379.51 1289.17,379.51 1298.65,379.51 1298.65,379.51 1308.12,379.51 1308.12,379.51 1317.6,379.51 1317.6,379.51 1327.08,379.51 1327.08,379.51 1336.55,379.51 1336.55,379.51 1346.03,379.51 1346.03,379.51 1355.5,379.51 1355.5,379.51 1364.97,379.51 1364.97,379.51 1374.45,379.51 1374.45,379.51 1383.92,379.51 1383.92,380.74 1393.4,380.74 1393.4,380.38 1402.88,380.38 1402.88,376.1 1412.35,376.1 1412.35,357.57 1421.83,357.57 1421.83,334.26 1431.3,334.26 1431.3,311.33 1440.78,311.33 1440.78,287.99 1450.25,287.99 1450.25,265.51 1459.72,265.51 1459.72,245.54 1469.2,245.54 1469.2,225.79 1478.67,225.79 1478.67,206.45 1488.15,206.45 1488.15,191.07 1497.62,191.07 1497.62,181.93 1507.1,181.93 1507.1,178.28 1516.58,178.28 1516.58,174.98 1526.05,174.98 1526.05,174.98 1535.53,174.98 1535.53,174.98 1545,174.98 1545,176.24 1554.47,176.24 1554.47,178.04 1563.95,178.04 1563.95,179.83 1573.42,179.83 1573.42,183.71 1582.9,183.71 1582.9,189.68 1592.38,189.68 1592.38,195.65 1601.85,195.65 1601.85,201.94 1611.33,201.94 1611.33,208.55 1620.8,208.55 1620.8,215.17 1630.28,215.17 1630.28,221.06 1639.75,221.06 1639.75,225.27 1649.22,225.27 1649.22,229.49 1658.7,229.49 1658.7,235.06 1668.17,235.06 1668.17,243.83 1677.65,243.83 1677.65,270.35 1678.22,270.35 1678.22,270.35" fill="none" stroke="#e15d07" stroke-width="1.6" stroke-opacity="1" stroke-linejoin="miter"/>
<polyline points="1111.61,365.15 1118.62,365.15 1118.62,365.53 1128.1,365.53 1128.1,365.92 1137.58,365.92 1137.58,366.3 1147.05,366.3 1147.05,366.68 1156.53,366.68 1156.53,367.07 1166,367.07 1166,367.45 1175.47,367.45 1175.47,367.83 1184.95,367.83 1184.95,368.21 1194.42,368.21 1194.42,368.6 1203.9,368.6 1203.9,368.98 1213.38,368.98 1213.38,369.17 1222.85,369.17 1222.85,369.17 1232.33,369.17 1232.33,369.17 1241.8,369.17 1241.8,369.17 1251.28,369.17 1251.28,369.17 1260.75,369.17 1260.75,369.17 1270.22,369.17 1270.22,368.74 1279.7,368.74 1279.7,367.88 1289.17,367.88 1289.17,367.02 1298.65,367.02 1298.65,366.16 1308.12,366.16 1308.12,365.73 1317.6,365.73 1317.6,365.73 1327.08,365.73 1327.08,365.73 1336.55,365.73 1336.55,365.73 1346.03,365.73 1346.03,365.73 1355.5,365.73 1355.5,365.73 1364.97,365.73 1364.97,365.73 1374.45,365.73 1374.45,365.73 1383.92,365.73 1383.92,365.73 1393.4,365.73 1393.4,364 1402.88,364 1402.88,360.21 1412.35,360.21 1412.35,350.9 1421.83,350.9 1421.83,336.02 1431.3,336.02 1431.3,320.37 1440.78,320.37 1440.78,297.47 1450.25,297.47 1450.25,276.44 1459.72,276.44 1459.72,255.88 1469.2,255.88 1469.2,233.82 1478.67,233.82 1478.67,196.93 1488.15,196.93 1488.15,175.56 1497.62,175.56 1497.62,164.83 1507.1,164.83 1507.1,153.93 1516.58,153.93 1516.58,153.01 1526.05,153.01 1526.05,152.09 1535.53,152.09 1535.53,151.16 1545,151.16 1545,152.29 1554.47,152.29 1554.47,157.93 1563.95,157.93 1563.95,157.43 1573.42,157.43 1573.42,158.68 1582.9,158.68 1582.9,161.68 1592.38,161.68 1592.38,166.09 1601.85,166.09 1601.85,170.65 1611.33,170.65 1611.33,173.59 1620.8,173.59 1620.8,177.11 1630.28,177.11 1630.28,181.9 1639.75,181.9 1639.75,189.63 1649.22,189.63 1649.22,198.91 1658.7,198.91 1658.7,218.19 1668.17,218.19 1668.17,230.83 1677.65,230.83 1677.65,256.57 1678.22,256.57 1678.22,256.57" fill="none" stroke="#ca2f43" stroke-width="1.6" stroke-opacity="1" stroke-linejoin="miter"/>
<polyline points="1111.61,381.81 1118.62,381.81 1118.62,381.81 1128.1,381.81 1128.1,381.81 1137.58,381.81 1137.58,381.81 1147.05,381.81 1147.05,381.81 1156.53,381.81 1156.53,381.81 1166,381.81 1166,381.81 1175.47,381.81 1175.47,381.81 1184.95,381.81 1184.95,381.81 1194.42,381.81 1194.42,381.81 1203.9,381.81 1203.9,381.81 1213.38,381.81 1213.38,381.81 1222.85,381.81 1222.85,381.81 1232.33,381.81 1232.33,381.81 1241.8,381.81 1241.8,381.81 1251.28,381.81 1251.28,381.81 1260.75,381.81 1260.75,380.66 1270.22,380.66 1270.22,381.81 1279.7,381.81 1279.7,381.81 1289.17,381.81 1289.17,381.81 1298.65,381.81 1298.65,381.81 1308.12,381.81 1308.12,381.81 1317.6,381.81 1317.6,381.81 1327.08,381.81 1327.08,381.81 1336.55,381.81 1336.55,381.81 1346.03,381.81 1346.03,381.81 1355.5,381.81 1355.5,381.81 1364.97,381.81 1364.97,381.81 1374.45,381.81 1374.45,381.81 1383.92,381.81 1383.92,381.81 1393.4,381.81 1393.4,376.59 1402.88,376.59 1402.88,366.14 1412.35,366.14 1412.35,354 1421.83,354 1421.83,335.85 1431.3,335.85 1431.3,313.9 1440.78,313.9 1440.78,293.94 1450.25,293.94 1450.25,271.04 1459.72,271.04 1459.72,250.71 1469.2,250.71 1469.2,231.17 1478.67,231.17 1478.67,210.6 1488.15,210.6 1488.15,190 1497.62,190 1497.62,177.06 1507.1,177.06 1507.1,168.07 1516.58,168.07 1516.58,167.84 1526.05,167.84 1526.05,167.61 1535.53,167.61 1535.53,166.42 1545,166.42 1545,164.82 1554.47,164.82 1554.47,164.11 1563.95,164.11 1563.95,171.36 1573.42,171.36 1573.42,176.78 1582.9,176.78 1582.9,180.37 1592.38,180.37 1592.38,183.96 1601.85,183.96 1601.85,188.83 1611.33,188.83 1611.33,196.69 1620.8,196.69 1620.8,204.21 1630.28,204.21 1630.28,208.65 1639.75,208.65 1639.75,213.65 1649.22,213.65 1649.22,219.97 1658.7,219.97 1658.7,225.14 1668.17,225.14 1668.17,230.31 1677.65,230.31 1677.65,250.82 1678.22,250.82 1678.22,250.82" fill="none" stroke="#3165b7" stroke-width="1.6" stroke-opacity="1" stroke-linejoin="miter"/>
<polyline points="1111.61,366.87 1118.62,366.87 1118.62,366.87 1128.1,366.87 1128.1,366.87 1137.58,366.87 1137.58,366.87 1147.05,366.87 1147.05,366.87 1156.53,366.87 1156.53,366.87 1166,366.87 1166,366.87 1175.47,366.87 1175.47,366.87 1184.95,366.87 1184.95,366.87 1194.42,366.87 1194.42,366.87 1203.9,366.87 1203.9,366.87 1213.38,366.87 1213.38,366.87 1222.85,366.87 1222.85,366.87 1232.33,366.87 1232.33,366.87 1241.8,366.87 1241.8,366.87 1251.28,366.87 1251.28,366.87 1260.75,366.87 1260.75,366.87 1270.22,366.87 1270.22,366.87 1279.7,366.87 1279.7,366.87 1289.17,366.87 1289.17,366.87 1298.65,366.87 1298.65,366.87 1308.12,366.87 1308.12,366.87 1317.6,366.87 1317.6,366.87 1327.08,366.87 1327.08,366.87 1336.55,366.87 1336.55,366.87 1346.03,366.87 1346.03,366.87 1355.5,366.87 1355.5,366.87 1364.97,366.87 1364.97,366.87 1374.45,366.87 1374.45,366.87 1383.92,366.87 1383.92,366.87 1393.4,366.87 1393.4,366.87 1402.88,366.87 1402.88,362.85 1412.35,362.85 1412.35,355.38 1421.83,355.38 1421.83,340.79 1431.3,340.79 1431.3,320.28 1440.78,320.28 1440.78,301.9 1450.25,301.9 1450.25,275.41 1459.72,275.41 1459.72,252.54 1469.2,252.54 1469.2,234.1 1478.67,234.1 1478.67,215.26 1488.15,215.26 1488.15,203.94 1497.62,203.94 1497.62,199.11 1507.1,199.11 1507.1,199.11 1516.58,199.11 1516.58,199.11 1526.05,199.11 1526.05,199.69 1535.53,199.69 1535.53,200.84 1545,200.84 1545,203.52 1554.47,203.52 1554.47,207.73 1563.95,207.73 1563.95,211.95 1573.42,211.95 1573.42,214.77 1582.9,214.77 1582.9,216.21 1592.38,216.21 1592.38,217.64 1601.85,217.64 1601.85,221 1611.33,221 1611.33,228.83 1620.8,228.83 1620.8,240.19 1630.28,240.19 1630.28,279.18 1639.75,279.18 1639.75,309.14 1649.22,309.14 1649.22,344.68 1658.7,344.68 1658.7,362.28 1668.17,362.28 1668.17,362.28 1677.65,362.28 1677.65,362.28 1678.22,362.28 1678.22,362.28" fill="none" stroke="#894aad" stroke-width="1.6" stroke-opacity="1" stroke-linejoin="miter"/>
<polyline points="1111.61,380.66 1118.62,380.66 1118.62,380.66 1128.1,380.66 1128.1,380.66 1137.58,380.66 1137.58,380.66 1147.05,380.66 1147.05,380.66 1156.53,380.66 1156.53,380.66 1166,380.66 1166,380.66 1175.47,380.66 1175.47,380.66 1184.95,380.66 1184.95,382.96 1194.42,382.96 1194.42,382.96 1203.9,382.96 1203.9,382.96 1213.38,382.96 1213.38,382.96 1222.85,382.96 1222.85,382.96 1232.33,382.96 1232.33,382.96 1241.8,382.96 1241.8,382.96 1251.28,382.96 1251.28,382.96 1260.75,382.96 1260.75,382.96 1270.22,382.96 1270.22,382.96 1279.7,382.96 1279.7,382.96 1289.17,382.96 1289.17,382.96 1298.65,382.96 1298.65,382.96 1308.12,382.96 1308.12,380.66 1317.6,380.66 1317.6,380.66 1327.08,380.66 1327.08,380.66 1336.55,380.66 1336.55,380.66 1346.03,380.66 1346.03,380.66 1355.5,380.66 1355.5,380.66 1364.97,380.66 1364.97,380.66 1374.45,380.66 1374.45,380.66 1383.92,380.66 1383.92,380.66 1393.4,380.66 1393.4,380.66 1402.88,380.66 1402.88,373.77 1412.35,373.77 1412.35,362.74 1421.83,362.74 1421.83,346.54 1431.3,346.54 1431.3,326.31 1440.78,326.31 1440.78,308.65 1450.25,308.65 1450.25,283.22 1459.72,283.22 1459.72,263.12 1469.2,263.12 1469.2,242.26 1478.67,242.26 1478.67,226.63 1488.15,226.63 1488.15,206.58 1497.62,206.58 1497.62,191.07 1507.1,191.07 1507.1,179.58 1516.58,179.58 1516.58,169.93 1526.05,169.93 1526.05,174.41 1535.53,174.41 1535.53,173.26 1545,173.26 1545,173.66 1554.47,173.66 1554.47,175.6 1563.95,175.6 1563.95,177.54 1573.42,177.54 1573.42,180.83 1582.9,180.83 1582.9,185.47 1592.38,185.47 1592.38,190.12 1601.85,190.12 1601.85,194.37 1611.33,194.37 1611.33,197.73 1620.8,197.73 1620.8,201.08 1630.28,201.08 1630.28,205.01 1639.75,205.01 1639.75,210.06 1649.22,210.06 1649.22,216.06 1658.7,216.06 1658.7,233.99 1668.17,233.99 1668.17,247.78 1677.65,247.78 1677.65,263.46 1678.22,263.46 1678.22,263.46" fill="none" stroke="#61538a" stroke-width="1.6" stroke-opacity="1" stroke-linejoin="miter"/>
<text x="719" y="136.8" font-family='"Liberation Sans", sans-serif' font-size="18.6" fill="#2f64c6" text-anchor="start" font-weight="400" stroke="#2f64c6" stroke-width="0.45">Name</text>
<text x="1004" y="136.8" font-family='"Liberation Sans", sans-serif' font-size="18.6" fill="#2f64c6" text-anchor="end" font-weight="400" stroke="#2f64c6" stroke-width="0.45">Mean</text>
<line x1="672" y1="149.2" x2="1016" y2="149.2" stroke="#e9eaeb" stroke-width="1"/>
<line x1="672" y1="184.4" x2="1016" y2="184.4" stroke="#e9eaeb" stroke-width="1"/>
<line x1="672" y1="219.5" x2="1016" y2="219.5" stroke="#e9eaeb" stroke-width="1"/>
<line x1="672" y1="254.7" x2="1016" y2="254.7" stroke="#e9eaeb" stroke-width="1"/>
<line x1="672" y1="289.8" x2="1016" y2="289.8" stroke="#e9eaeb" stroke-width="1"/>
<line x1="672" y1="325" x2="1016" y2="325" stroke="#e9eaeb" stroke-width="1"/>
<line x1="672" y1="360.1" x2="1016" y2="360.1" stroke="#e9eaeb" stroke-width="1"/>
<line x1="672" y1="395.3" x2="1016" y2="395.3" stroke="#e9eaeb" stroke-width="1"/>
<rect x="686" y="163.9" width="20.5" height="5" rx="2.5" fill="#56A64B"/>
<text x="719" y="168.3" font-family='"Liberation Mono", monospace' font-size="8.8" fill="#000" text-anchor="start" font-weight="700" stroke="#000" stroke-width="0.3" textLength="119" lengthAdjust="spacingAndGlyphs">dev-cluster-master-0</text>
<text x="1004" y="171.96" font-family='"Liberation Sans", sans-serif' font-size="18.6" fill="#2b2e33" text-anchor="end" font-weight="400" textLength="72.3" lengthAdjust="spacingAndGlyphs">3.56 GiB</text>
<rect x="686" y="199" width="20.5" height="5" rx="2.5" fill="#E0B400"/>
<text x="719" y="204" font-family='"Liberation Mono", monospace' font-size="8.8" fill="#000" text-anchor="start" font-weight="700" stroke="#000" stroke-width="0.3" textLength="119" lengthAdjust="spacingAndGlyphs">dev-cluster-worker-0</text>
<text x="1004" y="207.06" font-family='"Liberation Sans", sans-serif' font-size="18.6" fill="#2b2e33" text-anchor="end" font-weight="400" textLength="69.5" lengthAdjust="spacingAndGlyphs">7.86 GiB</text>
<rect x="686" y="234.4" width="20.5" height="5" rx="2.5" fill="#5794F2"/>
<text x="719" y="239.4" font-family='"Liberation Mono", monospace' font-size="8.8" fill="#000" text-anchor="start" font-weight="700" stroke="#000" stroke-width="0.3" textLength="120" lengthAdjust="spacingAndGlyphs">dev-cluster-worker-1</text>
<text x="1004" y="242.46" font-family='"Liberation Sans", sans-serif' font-size="18.6" fill="#2b2e33" text-anchor="end" font-weight="400" textLength="72.8" lengthAdjust="spacingAndGlyphs">6.93 GiB</text>
<rect x="686" y="269.6" width="20.5" height="5" rx="2.5" fill="#FA6400"/>
<text x="719" y="274" font-family='"Liberation Mono", monospace' font-size="8.8" fill="#000" text-anchor="start" font-weight="700" stroke="#000" stroke-width="0.3" textLength="119" lengthAdjust="spacingAndGlyphs">dev-cluster-worker-2</text>
<text x="1004" y="277.66" font-family='"Liberation Sans", sans-serif' font-size="18.6" fill="#2b2e33" text-anchor="end" font-weight="400" textLength="69.5" lengthAdjust="spacingAndGlyphs">7.80 GiB</text>
<rect x="686" y="304.7" width="20.5" height="5" rx="2.5" fill="#E02F44"/>
<text x="719" y="308.9" font-family='"Liberation Mono", monospace' font-size="8.8" fill="#000" text-anchor="start" font-weight="700" stroke="#000" stroke-width="0.3" textLength="119" lengthAdjust="spacingAndGlyphs">dev-cluster-worker-3</text>
<text x="1004" y="312.76" font-family='"Liberation Sans", sans-serif' font-size="18.6" fill="#2b2e33" text-anchor="end" font-weight="400" textLength="72.3" lengthAdjust="spacingAndGlyphs">9.23 GiB</text>
<rect x="686" y="339.6" width="20.5" height="5" rx="2.5" fill="#3274D9"/>
<text x="719" y="344" font-family='"Liberation Mono", monospace' font-size="8.8" fill="#000" text-anchor="start" font-weight="700" stroke="#000" stroke-width="0.3" textLength="119" lengthAdjust="spacingAndGlyphs">dev-cluster-worker-4</text>
<text x="1004" y="347.66" font-family='"Liberation Sans", sans-serif' font-size="18.6" fill="#2b2e33" text-anchor="end" font-weight="400" textLength="69.5" lengthAdjust="spacingAndGlyphs">7.95 GiB</text>
<rect x="686" y="374.7" width="20.5" height="5" rx="2.5" fill="#A352CC"/>
<text x="719" y="379.2" font-family='"Liberation Mono", monospace' font-size="8.8" fill="#000" text-anchor="start" font-weight="700" stroke="#000" stroke-width="0.3" textLength="119" lengthAdjust="spacingAndGlyphs">dev-cluster-worker-5</text>
<text x="1004" y="382.76" font-family='"Liberation Sans", sans-serif' font-size="18.6" fill="#2b2e33" text-anchor="end" font-weight="400" textLength="65.8" lengthAdjust="spacingAndGlyphs">7.01 GiB</text>
<rect x="686" y="410" width="20.5" height="5" rx="2.5" fill="#705DA0"/>
<text x="719" y="414.3" font-family='"Liberation Mono", monospace' font-size="8.8" fill="#000" text-anchor="start" font-weight="700" stroke="#000" stroke-width="0.3" textLength="119" lengthAdjust="spacingAndGlyphs">dev-cluster-worker-6</text>
<text x="1004" y="418.06" font-family='"Liberation Sans", sans-serif' font-size="18.6" fill="#2b2e33" text-anchor="end" font-weight="400" textLength="68.6" lengthAdjust="spacingAndGlyphs">7.72 GiB</text>
<rect x="1005.7" y="116.7" width="10" height="304" fill="#e3e4e5" rx="5"/>
<text x="1739" y="136.8" font-family='"Liberation Sans", sans-serif' font-size="18.6" fill="#2f64c6" text-anchor="start" font-weight="400" stroke="#2f64c6" stroke-width="0.45">Name</text>
<text x="2024" y="136.8" font-family='"Liberation Sans", sans-serif' font-size="18.6" fill="#2f64c6" text-anchor="end" font-weight="400" stroke="#2f64c6" stroke-width="0.45">Mean</text>
<line x1="1692" y1="149.2" x2="2036" y2="149.2" stroke="#e9eaeb" stroke-width="1"/>
<line x1="1692" y1="184.4" x2="2036" y2="184.4" stroke="#e9eaeb" stroke-width="1"/>
<line x1="1692" y1="219.5" x2="2036" y2="219.5" stroke="#e9eaeb" stroke-width="1"/>
<line x1="1692" y1="254.7" x2="2036" y2="254.7" stroke="#e9eaeb" stroke-width="1"/>
<line x1="1692" y1="289.8" x2="2036" y2="289.8" stroke="#e9eaeb" stroke-width="1"/>
<line x1="1692" y1="325" x2="2036" y2="325" stroke="#e9eaeb" stroke-width="1"/>
<line x1="1692" y1="360.1" x2="2036" y2="360.1" stroke="#e9eaeb" stroke-width="1"/>
<line x1="1692" y1="395.3" x2="2036" y2="395.3" stroke="#e9eaeb" stroke-width="1"/>
<rect x="1706" y="163.9" width="20.5" height="5" rx="2.5" fill="#56A64B"/>
<text x="1739" y="168.1" font-family='"Liberation Mono", monospace' font-size="8.8" fill="#000" text-anchor="start" font-weight="700" stroke="#000" stroke-width="0.3" textLength="119" lengthAdjust="spacingAndGlyphs">dev-cluster-master-0</text>
<text x="2024" y="171.96" font-family='"Liberation Sans", sans-serif' font-size="18.6" fill="#2b2e33" text-anchor="end" font-weight="400" textLength="55.0" lengthAdjust="spacingAndGlyphs">45.9%</text>
<rect x="1706" y="199" width="20.5" height="5" rx="2.5" fill="#E0B400"/>
<text x="1739" y="204.4" font-family='"Liberation Mono", monospace' font-size="8.8" fill="#000" text-anchor="start" font-weight="700" stroke="#000" stroke-width="0.3" textLength="119" lengthAdjust="spacingAndGlyphs">dev-cluster-worker-0</text>
<text x="2024" y="207.06" font-family='"Liberation Sans", sans-serif' font-size="18.6" fill="#2b2e33" text-anchor="end" font-weight="400" textLength="49.1" lengthAdjust="spacingAndGlyphs">25.1%</text>
<rect x="1706" y="234.4" width="20.5" height="5" rx="2.5" fill="#5794F2"/>
<text x="1739" y="235.4" font-family='"Liberation Mono", monospace' font-size="8.8" fill="#000" text-anchor="start" font-weight="700" stroke="#000" stroke-width="0.3" textLength="120" lengthAdjust="spacingAndGlyphs">dev-cluster-worker-1</text>
<text x="2024" y="242.46" font-family='"Liberation Sans", sans-serif' font-size="18.6" fill="#2b2e33" text-anchor="end" font-weight="400" textLength="50.1" lengthAdjust="spacingAndGlyphs">22.1%</text>
<rect x="1706" y="269.6" width="20.5" height="5" rx="2.5" fill="#FA6400"/>
<text x="1739" y="270.3" font-family='"Liberation Mono", monospace' font-size="8.8" fill="#000" text-anchor="start" font-weight="700" stroke="#000" stroke-width="0.3" textLength="119" lengthAdjust="spacingAndGlyphs">dev-cluster-worker-2</text>
<text x="2024" y="277.66" font-family='"Liberation Sans", sans-serif' font-size="18.6" fill="#2b2e33" text-anchor="end" font-weight="400" textLength="54.4" lengthAdjust="spacingAndGlyphs">24.9%</text>
<rect x="1706" y="304.7" width="20.5" height="5" rx="2.5" fill="#E02F44"/>
<text x="1739" y="305.6" font-family='"Liberation Mono", monospace' font-size="8.8" fill="#000" text-anchor="start" font-weight="700" stroke="#000" stroke-width="0.3" textLength="119" lengthAdjust="spacingAndGlyphs">dev-cluster-worker-3</text>
<text x="2024" y="312.76" font-family='"Liberation Sans", sans-serif' font-size="18.6" fill="#2b2e33" text-anchor="end" font-weight="400" textLength="54.0" lengthAdjust="spacingAndGlyphs">29.5%</text>
<rect x="1706" y="339.6" width="20.5" height="5" rx="2.5" fill="#3274D9"/>
<text x="1739" y="340.1" font-family='"Liberation Mono", monospace' font-size="8.8" fill="#000" text-anchor="start" font-weight="700" stroke="#000" stroke-width="0.3" textLength="119" lengthAdjust="spacingAndGlyphs">dev-cluster-worker-4</text>
<text x="2024" y="347.66" font-family='"Liberation Sans", sans-serif' font-size="18.6" fill="#2b2e33" text-anchor="end" font-weight="400" textLength="54.7" lengthAdjust="spacingAndGlyphs">25.4%</text>
<rect x="1706" y="374.7" width="20.5" height="5" rx="2.5" fill="#A352CC"/>
<text x="1739" y="374.7" font-family='"Liberation Mono", monospace' font-size="8.8" fill="#000" text-anchor="start" font-weight="700" stroke="#000" stroke-width="0.3" textLength="119" lengthAdjust="spacingAndGlyphs">dev-cluster-worker-5</text>
<text x="2024" y="382.76" font-family='"Liberation Sans", sans-serif' font-size="18.6" fill="#2b2e33" text-anchor="end" font-weight="400" textLength="55.7" lengthAdjust="spacingAndGlyphs">22.4%</text>
<rect x="1706" y="410" width="20.5" height="5" rx="2.5" fill="#705DA0"/>
<text x="1739" y="414.3" font-family='"Liberation Mono", monospace' font-size="8.8" fill="#000" text-anchor="start" font-weight="700" stroke="#000" stroke-width="0.3" textLength="119" lengthAdjust="spacingAndGlyphs">dev-cluster-worker-6</text>
<text x="2024" y="418.06" font-family='"Liberation Sans", sans-serif' font-size="18.6" fill="#2b2e33" text-anchor="end" font-weight="400" textLength="54.4" lengthAdjust="spacingAndGlyphs">24.6%</text>
<rect x="2025.7" y="116.7" width="10" height="304" fill="#e3e4e5" rx="5"/>
<rect x="23" y="512.3" width="496.5" height="385" fill="#ffffff" rx="2" stroke="#e8e8e8" stroke-width="1"/>
<text x="35.5" y="536" font-family='"Liberation Mono", monospace' font-size="8.8" fill="#000" text-anchor="start" font-weight="700" stroke="#000" stroke-width="0.3" textLength="119" lengthAdjust="spacingAndGlyphs">dev-cluster-master-0</text>
<line x1="96.3" y1="596.1" x2="495.1" y2="596.1" stroke="rgba(36,41,46,0.075)" stroke-width="1"/>
<text x="87.8" y="601.6" font-family='"Liberation Sans", sans-serif' font-size="19" fill="#2b2e33" text-anchor="end" font-weight="400" >8 GiB</text>
<line x1="96.3" y1="642.9" x2="495.1" y2="642.9" stroke="rgba(36,41,46,0.075)" stroke-width="1"/>
<text x="87.8" y="648.4" font-family='"Liberation Sans", sans-serif' font-size="19" fill="#2b2e33" text-anchor="end" font-weight="400" >6 GiB</text>
<line x1="96.3" y1="689.7" x2="495.1" y2="689.7" stroke="rgba(36,41,46,0.075)" stroke-width="1"/>
<text x="87.8" y="695.2" font-family='"Liberation Sans", sans-serif' font-size="19" fill="#2b2e33" text-anchor="end" font-weight="400" >4 GiB</text>
<line x1="96.3" y1="736.5" x2="495.1" y2="736.5" stroke="rgba(36,41,46,0.075)" stroke-width="1"/>
<text x="87.8" y="742" font-family='"Liberation Sans", sans-serif' font-size="19" fill="#2b2e33" text-anchor="end" font-weight="400" >2 GiB</text>
<line x1="96.3" y1="783.3" x2="495.1" y2="783.3" stroke="rgba(36,41,46,0.075)" stroke-width="1"/>
<text x="87.8" y="788.8" font-family='"Liberation Sans", sans-serif' font-size="19" fill="#2b2e33" text-anchor="end" font-weight="400" >0 B</text>
<line x1="134.4" y1="584.5" x2="134.4" y2="785.3" stroke="rgba(36,41,46,0.075)" stroke-width="1"/>
<text x="134.4" y="811.3" font-family='"Liberation Sans", sans-serif' font-size="19" fill="#2b2e33" text-anchor="middle" font-weight="400" >16:00</text>
<line x1="267.1" y1="584.5" x2="267.1" y2="785.3" stroke="rgba(36,41,46,0.075)" stroke-width="1"/>
<text x="267.1" y="811.3" font-family='"Liberation Sans", sans-serif' font-size="19" fill="#2b2e33" text-anchor="middle" font-weight="400" >16:10</text>
<line x1="399.8" y1="584.5" x2="399.8" y2="785.3" stroke="rgba(36,41,46,0.075)" stroke-width="1"/>
<text x="399.8" y="811.3" font-family='"Liberation Sans", sans-serif' font-size="19" fill="#2b2e33" text-anchor="middle" font-weight="400" >16:20</text>
<path d="M96.3,603.12 493.1,603.12 L493.1,783.3 96.3,783.3 Z" fill="#56A64B" fill-opacity="0.1" stroke="none"/>
<path d="M96.3,776.19 99.62,776.01 102.94,775.84 106.25,775.66 109.57,775.49 112.89,775.31 116.2,775.14 119.52,774.96 122.84,774.8 126.16,774.64 129.47,774.48 132.79,774.33 136.11,774.17 139.43,774.02 142.75,774.08 146.06,774.35 149.38,774.63 152.7,774.9 156.01,775.17 159.33,775.45 162.65,775.53 165.97,775.45 169.28,775.36 172.6,775.27 175.92,775.18 179.24,775.09 182.56,775.01 185.87,774.92 189.19,775.16 192.51,775.7 195.82,776.25 199.14,776.8 202.46,777.34 205.78,777.89 209.09,777.91 212.41,777.44 215.73,776.97 219.05,776.51 222.37,776.04 225.68,775.57 229,775.36 232.32,775.39 235.63,775.42 238.95,775.45 242.27,775.48 245.59,775.51 248.91,775.53 252.22,775.56 255.54,775.6 258.86,775.64 262.18,775.68 265.49,775.72 268.81,775.75 272.13,775.79 275.44,775.73 278.76,775.58 282.08,775.42 285.4,775.26 288.72,775.11 292.03,774.95 295.35,774.88 298.67,774.88 301.99,774.88 305.3,774.88 308.62,774.88 311.94,774.88 315.25,774.88 318.57,774.88 321.89,775.08 325.21,775.47 328.52,775.86 331.84,776.25 335.16,776.64 338.48,777.03 341.79,777.3 345.11,777.45 348.43,777.61 351.75,777.76 355.06,777.92 358.38,778.08 361.7,778.11 365.02,778.03 368.34,777.96 371.65,777.88 374.97,777.8 378.29,777.72 381.61,777.58 384.92,777.39 388.24,777.19 391.56,777 394.88,776.8 398.19,776.61 401.51,776.49 404.83,776.45 408.14,776.42 411.46,776.38 414.78,776.34 418.1,776.3 421.41,776.34 424.73,776.46 428.05,776.57 431.37,776.69 434.68,776.81 438,776.93 441.32,776.91 444.64,776.76 447.96,776.61 451.27,776.47 454.59,776.32 457.91,776.18 461.23,776.03 464.54,775.88 467.86,775.81 471.18,775.81 474.5,775.81 477.81,775.81 481.13,775.81 484.45,775.81 487.76,775.81 491.08,775.81 493.1,775.81 L493.1,783.3 96.3,783.3 Z" fill="#E0B400" fill-opacity="0.1" stroke="none"/>
<path d="M96.3,693.83 99.62,693.68 102.94,693.52 106.25,693.36 109.57,693.21 112.89,693.05 116.2,692.98 119.52,692.98 122.84,692.98 126.16,692.98 129.47,692.98 132.79,692.98 136.11,692.98 139.43,692.98 142.75,692.98 146.06,692.98 149.38,692.98 152.7,692.98 156.01,692.98 159.33,692.98 162.65,692.98 165.97,692.98 169.28,692.98 172.6,692.98 175.92,692.98 179.24,692.98 182.56,692.98 185.87,692.98 189.19,692.98 192.51,692.98 195.82,692.98 199.14,692.98 202.46,693.1 205.78,693.33 209.09,693.56 212.41,693.8 215.73,693.91 219.05,693.91 222.37,693.91 225.68,693.91 229,693.91 232.32,693.91 235.63,693.91 238.95,693.91 242.27,693.91 245.59,693.91 248.91,693.91 252.22,693.91 255.54,693.91 258.86,693.91 262.18,693.91 265.49,693.91 268.81,693.91 272.13,693.91 275.44,693.91 278.76,693.91 282.08,693.99 285.4,694.15 288.72,694.3 292.03,694.46 295.35,694.62 298.67,694.77 301.99,694.61 305.3,694.14 308.62,693.9 311.94,693.88 315.25,693.85 318.57,693.83 321.89,693.81 325.21,693.78 328.52,693.76 331.84,693.74 335.16,693.71 338.48,693.69 341.79,693.67 345.11,693.64 348.43,693.62 351.75,693.6 355.06,693.57 358.38,693.55 361.7,693.53 365.02,693.5 368.34,693.48 371.65,693.46 374.97,693.42 378.29,693.38 381.61,693.35 384.92,693.31 388.24,693.27 391.56,693.23 394.88,693.19 398.19,693.15 401.51,693.11 404.83,693.07 408.14,693.03 411.46,692.99 414.78,692.86 418.1,692.62 421.41,692.39 424.73,692.15 428.05,691.92 431.37,691.69 434.68,691.51 438,691.39 441.32,691.28 444.64,691.16 447.96,691.04 451.27,690.93 454.59,690.86 457.91,690.84 461.23,690.82 464.54,690.8 467.86,690.78 471.18,690.77 474.5,690.75 477.81,690.73 481.13,690.71 484.45,690.69 487.76,690.67 491.08,690.65 493.1,690.64 L493.1,775.81 491.08,775.81 487.76,775.81 484.45,775.81 481.13,775.81 477.81,775.81 474.5,775.81 471.18,775.81 467.86,775.81 464.54,775.88 461.23,776.03 457.91,776.18 454.59,776.32 451.27,776.47 447.96,776.61 444.64,776.76 441.32,776.91 438,776.93 434.68,776.81 431.37,776.69 428.05,776.57 424.73,776.46 421.41,776.34 418.1,776.3 414.78,776.34 411.46,776.38 408.14,776.42 404.83,776.45 401.51,776.49 398.19,776.61 394.88,776.8 391.56,777 388.24,777.19 384.92,777.39 381.61,777.58 378.29,777.72 374.97,777.8 371.65,777.88 368.34,777.96 365.02,778.03 361.7,778.11 358.38,778.08 355.06,777.92 351.75,777.76 348.43,777.61 345.11,777.45 341.79,777.3 338.48,777.03 335.16,776.64 331.84,776.25 328.52,775.86 325.21,775.47 321.89,775.08 318.57,774.88 315.25,774.88 311.94,774.88 308.62,774.88 305.3,774.88 301.99,774.88 298.67,774.88 295.35,774.88 292.03,774.95 288.72,775.11 285.4,775.26 282.08,775.42 278.76,775.58 275.44,775.73 272.13,775.79 268.81,775.75 265.49,775.72 262.18,775.68 258.86,775.64 255.54,775.6 252.22,775.56 248.91,775.53 245.59,775.51 242.27,775.48 238.95,775.45 235.63,775.42 232.32,775.39 229,775.36 225.68,775.57 222.37,776.04 219.05,776.51 215.73,776.97 212.41,777.44 209.09,777.91 205.78,777.89 202.46,777.34 199.14,776.8 195.82,776.25 192.51,775.7 189.19,775.16 185.87,774.92 182.56,775.01 179.24,775.09 175.92,775.18 172.6,775.27 169.28,775.36 165.97,775.45 162.65,775.53 159.33,775.45 156.01,775.17 152.7,774.9 149.38,774.63 146.06,774.35 142.75,774.08 139.43,774.02 136.11,774.17 132.79,774.33 129.47,774.48 126.16,774.64 122.84,774.8 119.52,774.96 116.2,775.14 112.89,775.31 109.57,775.49 106.25,775.66 102.94,775.84 99.62,776.01 96.3,776.19 Z" fill="#5794F2" fill-opacity="0.1" stroke="none"/>
<path d="M96.3,607.1 493.1,607.1 L493.1,690.64 491.08,690.65 487.76,690.67 484.45,690.69 481.13,690.71 477.81,690.73 474.5,690.75 471.18,690.77 467.86,690.78 464.54,690.8 461.23,690.82 457.91,690.84 454.59,690.86 451.27,690.93 447.96,691.04 444.64,691.16 441.32,691.28 438,691.39 434.68,691.51 431.37,691.69 428.05,691.92 424.73,692.15 421.41,692.39 418.1,692.62 414.78,692.86 411.46,692.99 408.14,693.03 404.83,693.07 401.51,693.11 398.19,693.15 394.88,693.19 391.56,693.23 388.24,693.27 384.92,693.31 381.61,693.35 378.29,693.38 374.97,693.42 371.65,693.46 368.34,693.48 365.02,693.5 361.7,693.53 358.38,693.55 355.06,693.57 351.75,693.6 348.43,693.62 345.11,693.64 341.79,693.67 338.48,693.69 335.16,693.71 331.84,693.74 328.52,693.76 325.21,693.78 321.89,693.81 318.57,693.83 315.25,693.85 311.94,693.88 308.62,693.9 305.3,694.14 301.99,694.61 298.67,694.77 295.35,694.62 292.03,694.46 288.72,694.3 285.4,694.15 282.08,693.99 278.76,693.91 275.44,693.91 272.13,693.91 268.81,693.91 265.49,693.91 262.18,693.91 258.86,693.91 255.54,693.91 252.22,693.91 248.91,693.91 245.59,693.91 242.27,693.91 238.95,693.91 235.63,693.91 232.32,693.91 229,693.91 225.68,693.91 222.37,693.91 219.05,693.91 215.73,693.91 212.41,693.8 209.09,693.56 205.78,693.33 202.46,693.1 199.14,692.98 195.82,692.98 192.51,692.98 189.19,692.98 185.87,692.98 182.56,692.98 179.24,692.98 175.92,692.98 172.6,692.98 169.28,692.98 165.97,692.98 162.65,692.98 159.33,692.98 156.01,692.98 152.7,692.98 149.38,692.98 146.06,692.98 142.75,692.98 139.43,692.98 136.11,692.98 132.79,692.98 129.47,692.98 126.16,692.98 122.84,692.98 119.52,692.98 116.2,692.98 112.89,693.05 109.57,693.21 106.25,693.36 102.94,693.52 99.62,693.68 96.3,693.83 Z" fill="#FA6400" fill-opacity="0.1" stroke="none"/>
<path d="M96.3,603.12 493.1,603.12 L493.1,607.1 96.3,607.1 Z" fill="#E02F44" fill-opacity="0.1" stroke="none"/>
<polyline points="96.3,776.19 99.62,776.01 102.94,775.84 106.25,775.66 109.57,775.49 112.89,775.31 116.2,775.14 119.52,774.96 122.84,774.8 126.16,774.64 129.47,774.48 132.79,774.33 136.11,774.17 139.43,774.02 142.75,774.08 146.06,774.35 149.38,774.63 152.7,774.9 156.01,775.17 159.33,775.45 162.65,775.53 165.97,775.45 169.28,775.36 172.6,775.27 175.92,775.18 179.24,775.09 182.56,775.01 185.87,774.92 189.19,775.16 192.51,775.7 195.82,776.25 199.14,776.8 202.46,777.34 205.78,777.89 209.09,777.91 212.41,777.44 215.73,776.97 219.05,776.51 222.37,776.04 225.68,775.57 229,775.36 232.32,775.39 235.63,775.42 238.95,775.45 242.27,775.48 245.59,775.51 248.91,775.53 252.22,775.56 255.54,775.6 258.86,775.64 262.18,775.68 265.49,775.72 268.81,775.75 272.13,775.79 275.44,775.73 278.76,775.58 282.08,775.42 285.4,775.26 288.72,775.11 292.03,774.95 295.35,774.88 298.67,774.88 301.99,774.88 305.3,774.88 308.62,774.88 311.94,774.88 315.25,774.88 318.57,774.88 321.89,775.08 325.21,775.47 328.52,775.86 331.84,776.25 335.16,776.64 338.48,777.03 341.79,777.3 345.11,777.45 348.43,777.61 351.75,777.76 355.06,777.92 358.38,778.08 361.7,778.11 365.02,778.03 368.34,777.96 371.65,777.88 374.97,777.8 378.29,777.72 381.61,777.58 384.92,777.39 388.24,777.19 391.56,777 394.88,776.8 398.19,776.61 401.51,776.49 404.83,776.45 408.14,776.42 411.46,776.38 414.78,776.34 418.1,776.3 421.41,776.34 424.73,776.46 428.05,776.57 431.37,776.69 434.68,776.81 438,776.93 441.32,776.91 444.64,776.76 447.96,776.61 451.27,776.47 454.59,776.32 457.91,776.18 461.23,776.03 464.54,775.88 467.86,775.81 471.18,775.81 474.5,775.81 477.81,775.81 481.13,775.81 484.45,775.81 487.76,775.81 491.08,775.81 493.1,775.81" fill="none" stroke="#cdb95c" stroke-width="1.7" stroke-opacity="1" stroke-linejoin="miter"/>
<polyline points="96.3,693.83 99.62,693.68 102.94,693.52 106.25,693.36 109.57,693.21 112.89,693.05 116.2,692.98 119.52,692.98 122.84,692.98 126.16,692.98 129.47,692.98 132.79,692.98 136.11,692.98 139.43,692.98 142.75,692.98 146.06,692.98 149.38,692.98 152.7,692.98 156.01,692.98 159.33,692.98 162.65,692.98 165.97,692.98 169.28,692.98 172.6,692.98 175.92,692.98 179.24,692.98 182.56,692.98 185.87,692.98 189.19,692.98 192.51,692.98 195.82,692.98 199.14,692.98 202.46,693.1 205.78,693.33 209.09,693.56 212.41,693.8 215.73,693.91 219.05,693.91 222.37,693.91 225.68,693.91 229,693.91 232.32,693.91 235.63,693.91 238.95,693.91 242.27,693.91 245.59,693.91 248.91,693.91 252.22,693.91 255.54,693.91 258.86,693.91 262.18,693.91 265.49,693.91 268.81,693.91 272.13,693.91 275.44,693.91 278.76,693.91 282.08,693.99 285.4,694.15 288.72,694.3 292.03,694.46 295.35,694.62 298.67,694.77 301.99,694.61 305.3,694.14 308.62,693.9 311.94,693.88 315.25,693.85 318.57,693.83 321.89,693.81 325.21,693.78 328.52,693.76 331.84,693.74 335.16,693.71 338.48,693.69 341.79,693.67 345.11,693.64 348.43,693.62 351.75,693.6 355.06,693.57 358.38,693.55 361.7,693.53 365.02,693.5 368.34,693.48 371.65,693.46 374.97,693.42 378.29,693.38 381.61,693.35 384.92,693.31 388.24,693.27 391.56,693.23 394.88,693.19 398.19,693.15 401.51,693.11 404.83,693.07 408.14,693.03 411.46,692.99 414.78,692.86 418.1,692.62 421.41,692.39 424.73,692.15 428.05,691.92 431.37,691.69 434.68,691.51 438,691.39 441.32,691.28 444.64,691.16 447.96,691.04 451.27,690.93 454.59,690.86 457.91,690.84 461.23,690.82 464.54,690.8 467.86,690.78 471.18,690.77 474.5,690.75 477.81,690.73 481.13,690.71 484.45,690.69 487.76,690.67 491.08,690.65 493.1,690.64" fill="none" stroke="#7590bd" stroke-width="1.7" stroke-opacity="1" stroke-linejoin="miter"/>
<polyline points="96.3,607.1 493.1,607.1" fill="none" stroke="#f08a68" stroke-width="1.5" stroke-opacity="1" stroke-linejoin="miter"/>
<polyline points="96.3,603.12 493.1,603.12" fill="none" stroke="#c2464a" stroke-width="1.8" stroke-opacity="1" stroke-linejoin="miter"/>
<rect x="41.1" y="833.5" width="20.5" height="5" rx="2.5" fill="#56A64B"/>
<text x="75.1" y="841.6" font-family='"Liberation Sans", sans-serif' font-size="19" fill="#2b2e33" text-anchor="start" font-weight="400" textLength="40.4" lengthAdjust="spacingAndGlyphs">Total</text>
<rect x="131.3" y="833.5" width="20.5" height="5" rx="2.5" fill="#E0B400"/>
<text x="165.1" y="841.6" font-family='"Liberation Sans", sans-serif' font-size="19" fill="#2b2e33" text-anchor="start" font-weight="400" textLength="36.9" lengthAdjust="spacingAndGlyphs">Free</text>
<rect x="218.5" y="833.5" width="20.5" height="5" rx="2.5" fill="#5794F2"/>
<text x="251.7" y="841.6" font-family='"Liberation Sans", sans-serif' font-size="19" fill="#2b2e33" text-anchor="start" font-weight="400" textLength="33.7" lengthAdjust="spacingAndGlyphs">RSS</text>
<rect x="301.5" y="833.5" width="20.5" height="5" rx="2.5" fill="#FA6400"/>
<text x="335.2" y="841.6" font-family='"Liberation Sans", sans-serif' font-size="19" fill="#2b2e33" text-anchor="start" font-weight="400" textLength="65.5" lengthAdjust="spacingAndGlyphs">Cached</text>
<rect x="41.1" y="868" width="20.5" height="5" rx="2.5" fill="#E02F44"/>
<text x="75.1" y="876.1" font-family='"Liberation Sans", sans-serif' font-size="19" fill="#2b2e33" text-anchor="start" font-weight="400" textLength="72.5" lengthAdjust="spacingAndGlyphs">Buffered</text>
<rect x="534" y="512.3" width="496.5" height="385" fill="#ffffff" rx="2" stroke="#e8e8e8" stroke-width="1"/>
<text x="546.5" y="536" font-family='"Liberation Mono", monospace' font-size="8.8" fill="#000" text-anchor="start" font-weight="700" stroke="#000" stroke-width="0.3" textLength="119" lengthAdjust="spacingAndGlyphs">dev-cluster-worker-0</text>
<line x1="616.3" y1="603.2" x2="1005.7" y2="603.2" stroke="rgba(36,41,46,0.075)" stroke-width="1"/>
<text x="609.3" y="608.7" font-family='"Liberation Sans", sans-serif' font-size="19" fill="#2b2e33" text-anchor="end" font-weight="400" >32 GiB</text>
<line x1="616.3" y1="648.2" x2="1005.7" y2="648.2" stroke="rgba(36,41,46,0.075)" stroke-width="1"/>
<text x="609.3" y="653.7" font-family='"Liberation Sans", sans-serif' font-size="19" fill="#2b2e33" text-anchor="end" font-weight="400" >24 GiB</text>
<line x1="616.3" y1="693.2" x2="1005.7" y2="693.2" stroke="rgba(36,41,46,0.075)" stroke-width="1"/>
<text x="609.3" y="698.7" font-family='"Liberation Sans", sans-serif' font-size="19" fill="#2b2e33" text-anchor="end" font-weight="400" >16 GiB</text>
<line x1="616.3" y1="738.2" x2="1005.7" y2="738.2" stroke="rgba(36,41,46,0.075)" stroke-width="1"/>
<text x="609.3" y="743.7" font-family='"Liberation Sans", sans-serif' font-size="19" fill="#2b2e33" text-anchor="end" font-weight="400" >8 GiB</text>
<line x1="616.3" y1="783.2" x2="1005.7" y2="783.2" stroke="rgba(36,41,46,0.075)" stroke-width="1"/>
<text x="609.3" y="788.7" font-family='"Liberation Sans", sans-serif' font-size="19" fill="#2b2e33" text-anchor="end" font-weight="400" >0 B</text>
<line x1="653.9" y1="584.5" x2="653.9" y2="785.2" stroke="rgba(36,41,46,0.075)" stroke-width="1"/>
<text x="653.9" y="811.3" font-family='"Liberation Sans", sans-serif' font-size="19" fill="#2b2e33" text-anchor="middle" font-weight="400" >16:00</text>
<line x1="783.55" y1="584.5" x2="783.55" y2="785.2" stroke="rgba(36,41,46,0.075)" stroke-width="1"/>
<text x="783.55" y="811.3" font-family='"Liberation Sans", sans-serif' font-size="19" fill="#2b2e33" text-anchor="middle" font-weight="400" >16:10</text>
<line x1="913.2" y1="584.5" x2="913.2" y2="785.2" stroke="rgba(36,41,46,0.075)" stroke-width="1"/>
<text x="913.2" y="811.3" font-family='"Liberation Sans", sans-serif' font-size="19" fill="#2b2e33" text-anchor="middle" font-weight="400" >16:20</text>
<path d="M616.3,607.7 1003.7,607.7 L1003.7,783.2 616.3,783.2 Z" fill="#56A64B" fill-opacity="0.1" stroke="none"/>
<path d="M616.3,622.89 616.3,622.89 616.3,622.89 622.78,622.89 622.78,622.89 629.27,622.89 629.27,622.89 635.75,622.89 635.75,622.89 642.23,622.89 642.23,622.89 648.71,622.89 648.71,622.89 655.2,622.89 655.2,622.89 661.68,622.89 661.68,622.89 668.16,622.89 668.16,622.89 674.64,622.89 674.64,622.89 681.13,622.89 681.13,622.89 687.61,622.89 687.61,622.89 694.09,622.89 694.09,622.89 700.57,622.89 700.57,622.89 707.06,622.89 707.06,622.89 713.54,622.89 713.54,622.89 720.02,622.89 720.02,622.89 726.5,622.89 726.5,622.89 732.99,622.89 732.99,622.89 739.47,622.89 739.47,622.89 745.95,622.89 745.95,622.89 752.43,622.89 752.43,622.89 758.92,622.89 758.92,622.89 765.4,622.89 765.4,622.89 771.88,622.89 771.88,622.89 778.36,622.89 778.36,622.89 784.85,622.89 784.85,622.89 791.33,622.89 791.33,622.89 797.81,622.89 797.81,622.89 804.29,622.89 804.29,622.89 810.78,622.89 810.78,625.7 817.26,625.7 817.26,631.42 823.74,631.42 823.74,637.51 830.22,637.51 830.22,651.58 836.71,651.58 836.71,666.2 843.19,666.2 843.19,680.26 849.67,680.26 849.67,695.45 856.15,695.45 856.15,705.58 862.64,705.58 862.64,723.42 869.12,723.42 869.12,738.76 875.6,738.76 875.6,753.95 882.08,753.95 882.08,765.2 888.57,765.2 888.57,772.51 895.05,772.51 895.05,771.78 901.53,771.78 901.53,771.05 908.01,771.05 908.01,770.17 914.5,770.17 914.5,769.23 920.98,769.23 920.98,768.29 927.46,768.29 927.46,768.01 933.94,768.01 933.94,768.01 940.43,768.01 940.43,767.58 946.91,767.58 946.91,763.29 953.39,763.29 953.39,759.24 959.87,759.24 959.87,754.89 966.36,754.89 966.36,751.14 972.84,751.14 972.84,746.64 979.32,746.64 979.32,741.58 985.8,741.58 985.8,735.95 992.29,735.95 992.29,725.83 998.77,725.83 998.77,716.26 1003.7,716.26 1003.7,705.58 L1003.7,783.2 616.3,783.2 Z" fill="#E0B400" fill-opacity="0.1" stroke="none"/>
<path d="M616.3,616.7 616.3,616.7 616.3,616.7 622.78,616.7 622.78,616.7 629.27,616.7 629.27,616.7 635.75,616.7 635.75,616.7 642.23,616.7 642.23,616.7 648.71,616.7 648.71,616.7 655.2,616.7 655.2,616.7 661.68,616.7 661.68,616.7 668.16,616.7 668.16,616.7 674.64,616.7 674.64,616.7 681.13,616.7 681.13,616.7 687.61,616.7 687.61,616.7 694.09,616.7 694.09,616.7 700.57,616.7 700.57,616.7 707.06,616.7 707.06,616.7 713.54,616.7 713.54,616.7 720.02,616.7 720.02,616.7 726.5,616.7 726.5,616.7 732.99,616.7 732.99,616.7 739.47,616.7 739.47,616.7 745.95,616.7 745.95,616.7 752.43,616.7 752.43,616.7 758.92,616.7 758.92,616.7 765.4,616.7 765.4,616.7 771.88,616.7 771.88,616.7 778.36,616.7 778.36,616.7 784.85,616.7 784.85,616.7 791.33,616.7 791.33,616.7 797.81,616.7 797.81,616.7 804.29,616.7 804.29,616.7 810.78,616.7 810.78,617.57 817.26,617.57 817.26,618.86 823.74,618.86 823.74,621.2 830.22,621.2 830.22,625.31 836.71,625.31 836.71,629.36 843.19,629.36 843.19,633.01 849.67,633.01 849.67,638.08 856.15,638.08 856.15,642.18 862.64,642.18 862.64,649.33 869.12,649.33 869.12,654.95 875.6,654.95 875.6,658.89 882.08,658.89 882.08,660.58 888.57,660.58 888.57,661.7 895.05,661.7 895.05,661.36 901.53,661.36 901.53,661.02 908.01,661.02 908.01,660.68 914.5,660.68 914.5,660.66 920.98,660.66 920.98,660.78 927.46,660.78 927.46,660.91 933.94,660.91 933.94,661.03 940.43,661.03 940.43,660.95 946.91,660.95 946.91,659.23 953.39,659.23 953.39,657.88 959.87,657.88 959.87,655.79 966.36,655.79 966.36,654.39 972.84,654.39 972.84,653.26 979.32,653.26 979.32,652.14 985.8,652.14 985.8,651.01 992.29,651.01 992.29,645.39 998.77,645.39 998.77,641.45 1003.7,641.45 1003.7,641.45 L1003.7,705.58 1003.7,716.26 998.77,716.26 998.77,725.83 992.29,725.83 992.29,735.95 985.8,735.95 985.8,741.58 979.32,741.58 979.32,746.64 972.84,746.64 972.84,751.14 966.36,751.14 966.36,754.89 959.87,754.89 959.87,759.24 953.39,759.24 953.39,763.29 946.91,763.29 946.91,767.58 940.43,767.58 940.43,768.01 933.94,768.01 933.94,768.01 927.46,768.01 927.46,768.29 920.98,768.29 920.98,769.23 914.5,769.23 914.5,770.17 908.01,770.17 908.01,771.05 901.53,771.05 901.53,771.78 895.05,771.78 895.05,772.51 888.57,772.51 888.57,765.2 882.08,765.2 882.08,753.95 875.6,753.95 875.6,738.76 869.12,738.76 869.12,723.42 862.64,723.42 862.64,705.58 856.15,705.58 856.15,695.45 849.67,695.45 849.67,680.26 843.19,680.26 843.19,666.2 836.71,666.2 836.71,651.58 830.22,651.58 830.22,637.51 823.74,637.51 823.74,631.42 817.26,631.42 817.26,625.7 810.78,625.7 810.78,622.89 804.29,622.89 804.29,622.89 797.81,622.89 797.81,622.89 791.33,622.89 791.33,622.89 784.85,622.89 784.85,622.89 778.36,622.89 778.36,622.89 771.88,622.89 771.88,622.89 765.4,622.89 765.4,622.89 758.92,622.89 758.92,622.89 752.43,622.89 752.43,622.89 745.95,622.89 745.95,622.89 739.47,622.89 739.47,622.89 732.99,622.89 732.99,622.89 726.5,622.89 726.5,622.89 720.02,622.89 720.02,622.89 713.54,622.89 713.54,622.89 707.06,622.89 707.06,622.89 700.57,622.89 700.57,622.89 694.09,622.89 694.09,622.89 687.61,622.89 687.61,622.89 681.13,622.89 681.13,622.89 674.64,622.89 674.64,622.89 668.16,622.89 668.16,622.89 661.68,622.89 661.68,622.89 655.2,622.89 655.2,622.89 648.71,622.89 648.71,622.89 642.23,622.89 642.23,622.89 635.75,622.89 635.75,622.89 629.27,622.89 629.27,622.89 622.78,622.89 622.78,622.89 616.3,622.89 616.3,622.89 616.3,622.89 Z" fill="#5794F2" fill-opacity="0.1" stroke="none"/>
<path d="M616.3,608.15 1003.7,608.15 L1003.7,641.45 1003.7,641.45 998.77,641.45 998.77,645.39 992.29,645.39 992.29,651.01 985.8,651.01 985.8,652.14 979.32,652.14 979.32,653.26 972.84,653.26 972.84,654.39 966.36,654.39 966.36,655.79 959.87,655.79 959.87,657.88 953.39,657.88 953.39,659.23 946.91,659.23 946.91,660.95 940.43,660.95 940.43,661.03 933.94,661.03 933.94,660.91 927.46,660.91 927.46,660.78 920.98,660.78 920.98,660.66 914.5,660.66 914.5,660.68 908.01,660.68 908.01,661.02 901.53,661.02 901.53,661.36 895.05,661.36 895.05,661.7 888.57,661.7 888.57,660.58 882.08,660.58 882.08,658.89 875.6,658.89 875.6,654.95 869.12,654.95 869.12,649.33 862.64,649.33 862.64,642.18 856.15,642.18 856.15,638.08 849.67,638.08 849.67,633.01 843.19,633.01 843.19,629.36 836.71,629.36 836.71,625.31 830.22,625.31 830.22,621.2 823.74,621.2 823.74,618.86 817.26,618.86 817.26,617.57 810.78,617.57 810.78,616.7 804.29,616.7 804.29,616.7 797.81,616.7 797.81,616.7 791.33,616.7 791.33,616.7 784.85,616.7 784.85,616.7 778.36,616.7 778.36,616.7 771.88,616.7 771.88,616.7 765.4,616.7 765.4,616.7 758.92,616.7 758.92,616.7 752.43,616.7 752.43,616.7 745.95,616.7 745.95,616.7 739.47,616.7 739.47,616.7 732.99,616.7 732.99,616.7 726.5,616.7 726.5,616.7 720.02,616.7 720.02,616.7 713.54,616.7 713.54,616.7 707.06,616.7 707.06,616.7 700.57,616.7 700.57,616.7 694.09,616.7 694.09,616.7 687.61,616.7 687.61,616.7 681.13,616.7 681.13,616.7 674.64,616.7 674.64,616.7 668.16,616.7 668.16,616.7 661.68,616.7 661.68,616.7 655.2,616.7 655.2,616.7 648.71,616.7 648.71,616.7 642.23,616.7 642.23,616.7 635.75,616.7 635.75,616.7 629.27,616.7 629.27,616.7 622.78,616.7 622.78,616.7 616.3,616.7 616.3,616.7 616.3,616.7 Z" fill="#FA6400" fill-opacity="0.1" stroke="none"/>
<path d="M616.3,607.7 1003.7,607.7 L1003.7,608.15 616.3,608.15 Z" fill="#E02F44" fill-opacity="0.1" stroke="none"/>
<polyline points="616.3,622.89 616.3,622.89 616.3,622.89 622.78,622.89 622.78,622.89 629.27,622.89 629.27,622.89 635.75,622.89 635.75,622.89 642.23,622.89 642.23,622.89 648.71,622.89 648.71,622.89 655.2,622.89 655.2,622.89 661.68,622.89 661.68,622.89 668.16,622.89 668.16,622.89 674.64,622.89 674.64,622.89 681.13,622.89 681.13,622.89 687.61,622.89 687.61,622.89 694.09,622.89 694.09,622.89 700.57,622.89 700.57,622.89 707.06,622.89 707.06,622.89 713.54,622.89 713.54,622.89 720.02,622.89 720.02,622.89 726.5,622.89 726.5,622.89 732.99,622.89 732.99,622.89 739.47,622.89 739.47,622.89 745.95,622.89 745.95,622.89 752.43,622.89 752.43,622.89 758.92,622.89 758.92,622.89 765.4,622.89 765.4,622.89 771.88,622.89 771.88,622.89 778.36,622.89 778.36,622.89 784.85,622.89 784.85,622.89 791.33,622.89 791.33,622.89 797.81,622.89 797.81,622.89 804.29,622.89 804.29,622.89 810.78,622.89 810.78,625.7 817.26,625.7 817.26,631.42 823.74,631.42 823.74,637.51 830.22,637.51 830.22,651.58 836.71,651.58 836.71,666.2 843.19,666.2 843.19,680.26 849.67,680.26 849.67,695.45 856.15,695.45 856.15,705.58 862.64,705.58 862.64,723.42 869.12,723.42 869.12,738.76 875.6,738.76 875.6,753.95 882.08,753.95 882.08,765.2 888.57,765.2 888.57,772.51 895.05,772.51 895.05,771.78 901.53,771.78 901.53,771.05 908.01,771.05 908.01,770.17 914.5,770.17 914.5,769.23 920.98,769.23 920.98,768.29 927.46,768.29 927.46,768.01 933.94,768.01 933.94,768.01 940.43,768.01 940.43,767.58 946.91,767.58 946.91,763.29 953.39,763.29 953.39,759.24 959.87,759.24 959.87,754.89 966.36,754.89 966.36,751.14 972.84,751.14 972.84,746.64 979.32,746.64 979.32,741.58 985.8,741.58 985.8,735.95 992.29,735.95 992.29,725.83 998.77,725.83 998.77,716.26 1003.7,716.26 1003.7,705.58" fill="none" stroke="#cdb95c" stroke-width="1.7" stroke-opacity="1" stroke-linejoin="miter"/>
<polyline points="616.3,616.7 616.3,616.7 616.3,616.7 622.78,616.7 622.78,616.7 629.27,616.7 629.27,616.7 635.75,616.7 635.75,616.7 642.23,616.7 642.23,616.7 648.71,616.7 648.71,616.7 655.2,616.7 655.2,616.7 661.68,616.7 661.68,616.7 668.16,616.7 668.16,616.7 674.64,616.7 674.64,616.7 681.13,616.7 681.13,616.7 687.61,616.7 687.61,616.7 694.09,616.7 694.09,616.7 700.57,616.7 700.57,616.7 707.06,616.7 707.06,616.7 713.54,616.7 713.54,616.7 720.02,616.7 720.02,616.7 726.5,616.7 726.5,616.7 732.99,616.7 732.99,616.7 739.47,616.7 739.47,616.7 745.95,616.7 745.95,616.7 752.43,616.7 752.43,616.7 758.92,616.7 758.92,616.7 765.4,616.7 765.4,616.7 771.88,616.7 771.88,616.7 778.36,616.7 778.36,616.7 784.85,616.7 784.85,616.7 791.33,616.7 791.33,616.7 797.81,616.7 797.81,616.7 804.29,616.7 804.29,616.7 810.78,616.7 810.78,617.57 817.26,617.57 817.26,618.86 823.74,618.86 823.74,621.2 830.22,621.2 830.22,625.31 836.71,625.31 836.71,629.36 843.19,629.36 843.19,633.01 849.67,633.01 849.67,638.08 856.15,638.08 856.15,642.18 862.64,642.18 862.64,649.33 869.12,649.33 869.12,654.95 875.6,654.95 875.6,658.89 882.08,658.89 882.08,660.58 888.57,660.58 888.57,661.7 895.05,661.7 895.05,661.36 901.53,661.36 901.53,661.02 908.01,661.02 908.01,660.68 914.5,660.68 914.5,660.66 920.98,660.66 920.98,660.78 927.46,660.78 927.46,660.91 933.94,660.91 933.94,661.03 940.43,661.03 940.43,660.95 946.91,660.95 946.91,659.23 953.39,659.23 953.39,657.88 959.87,657.88 959.87,655.79 966.36,655.79 966.36,654.39 972.84,654.39 972.84,653.26 979.32,653.26 979.32,652.14 985.8,652.14 985.8,651.01 992.29,651.01 992.29,645.39 998.77,645.39 998.77,641.45 1003.7,641.45 1003.7,641.45" fill="none" stroke="#7590bd" stroke-width="1.7" stroke-opacity="1" stroke-linejoin="miter"/>
<polyline points="616.3,608.15 1003.7,608.15" fill="none" stroke="#f08a68" stroke-width="1.5" stroke-opacity="1" stroke-linejoin="miter"/>
<polyline points="616.3,607.7 1003.7,607.7" fill="none" stroke="#c2464a" stroke-width="1.8" stroke-opacity="1" stroke-linejoin="miter"/>
<rect x="552.1" y="833.5" width="20.5" height="5" rx="2.5" fill="#56A64B"/>
<text x="586.1" y="841.6" font-family='"Liberation Sans", sans-serif' font-size="19" fill="#2b2e33" text-anchor="start" font-weight="400" textLength="40.4" lengthAdjust="spacingAndGlyphs">Total</text>
<rect x="642.3" y="833.5" width="20.5" height="5" rx="2.5" fill="#E0B400"/>
<text x="676.1" y="841.6" font-family='"Liberation Sans", sans-serif' font-size="19" fill="#2b2e33" text-anchor="start" font-weight="400" textLength="36.9" lengthAdjust="spacingAndGlyphs">Free</text>
<rect x="729.5" y="833.5" width="20.5" height="5" rx="2.5" fill="#5794F2"/>
<text x="762.7" y="841.6" font-family='"Liberation Sans", sans-serif' font-size="19" fill="#2b2e33" text-anchor="start" font-weight="400" textLength="33.7" lengthAdjust="spacingAndGlyphs">RSS</text>
<rect x="812.5" y="833.5" width="20.5" height="5" rx="2.5" fill="#FA6400"/>
<text x="846.2" y="841.6" font-family='"Liberation Sans", sans-serif' font-size="19" fill="#2b2e33" text-anchor="start" font-weight="400" textLength="65.5" lengthAdjust="spacingAndGlyphs">Cached</text>
<rect x="552.1" y="868" width="20.5" height="5" rx="2.5" fill="#E02F44"/>
<text x="586.1" y="876.1" font-family='"Liberation Sans", sans-serif' font-size="19" fill="#2b2e33" text-anchor="start" font-weight="400" textLength="72.5" lengthAdjust="spacingAndGlyphs">Buffered</text>
<rect x="1044" y="512.3" width="496.5" height="385" fill="#ffffff" rx="2" stroke="#e8e8e8" stroke-width="1"/>
<text x="1056.5" y="535" font-family='"Liberation Mono", monospace' font-size="8.8" fill="#000" text-anchor="start" font-weight="700" stroke="#000" stroke-width="0.3" textLength="119" lengthAdjust="spacingAndGlyphs">dev-cluster-worker-1</text>
<line x1="1126.3" y1="603.2" x2="1515.7" y2="603.2" stroke="rgba(36,41,46,0.075)" stroke-width="1"/>
<text x="1119.3" y="608.7" font-family='"Liberation Sans", sans-serif' font-size="19" fill="#2b2e33" text-anchor="end" font-weight="400" >32 GiB</text>
<line x1="1126.3" y1="648.2" x2="1515.7" y2="648.2" stroke="rgba(36,41,46,0.075)" stroke-width="1"/>
<text x="1119.3" y="653.7" font-family='"Liberation Sans", sans-serif' font-size="19" fill="#2b2e33" text-anchor="end" font-weight="400" >24 GiB</text>
<line x1="1126.3" y1="693.2" x2="1515.7" y2="693.2" stroke="rgba(36,41,46,0.075)" stroke-width="1"/>
<text x="1119.3" y="698.7" font-family='"Liberation Sans", sans-serif' font-size="19" fill="#2b2e33" text-anchor="end" font-weight="400" >16 GiB</text>
<line x1="1126.3" y1="738.2" x2="1515.7" y2="738.2" stroke="rgba(36,41,46,0.075)" stroke-width="1"/>
<text x="1119.3" y="743.7" font-family='"Liberation Sans", sans-serif' font-size="19" fill="#2b2e33" text-anchor="end" font-weight="400" >8 GiB</text>
<line x1="1126.3" y1="783.2" x2="1515.7" y2="783.2" stroke="rgba(36,41,46,0.075)" stroke-width="1"/>
<text x="1119.3" y="788.7" font-family='"Liberation Sans", sans-serif' font-size="19" fill="#2b2e33" text-anchor="end" font-weight="400" >0 B</text>
<line x1="1163.9" y1="584.5" x2="1163.9" y2="785.2" stroke="rgba(36,41,46,0.075)" stroke-width="1"/>
<text x="1163.9" y="811.3" font-family='"Liberation Sans", sans-serif' font-size="19" fill="#2b2e33" text-anchor="middle" font-weight="400" >16:00</text>
<line x1="1293.55" y1="584.5" x2="1293.55" y2="785.2" stroke="rgba(36,41,46,0.075)" stroke-width="1"/>
<text x="1293.55" y="811.3" font-family='"Liberation Sans", sans-serif' font-size="19" fill="#2b2e33" text-anchor="middle" font-weight="400" >16:10</text>
<line x1="1423.2" y1="584.5" x2="1423.2" y2="785.2" stroke="rgba(36,41,46,0.075)" stroke-width="1"/>
<text x="1423.2" y="811.3" font-family='"Liberation Sans", sans-serif' font-size="19" fill="#2b2e33" text-anchor="middle" font-weight="400" >16:20</text>
<path d="M1126.3,607.7 1513.7,607.7 L1513.7,783.2 1126.3,783.2 Z" fill="#56A64B" fill-opacity="0.1" stroke="none"/>
<path d="M1126.3,619.62 1126.3,619.62 1126.3,619.62 1132.78,619.62 1132.78,619.62 1139.27,619.62 1139.27,619.62 1145.75,619.62 1145.75,619.62 1152.23,619.62 1152.23,619.62 1158.71,619.62 1158.71,619.62 1165.2,619.62 1165.2,619.62 1171.68,619.62 1171.68,619.62 1178.16,619.62 1178.16,619.62 1184.64,619.62 1184.64,619.62 1191.13,619.62 1191.13,619.62 1197.61,619.62 1197.61,619.62 1204.09,619.62 1204.09,619.62 1210.57,619.62 1210.57,619.62 1217.06,619.62 1217.06,619.62 1223.54,619.62 1223.54,619.62 1230.02,619.62 1230.02,619.62 1236.5,619.62 1236.5,619.62 1242.99,619.62 1242.99,619.62 1249.47,619.62 1249.47,619.62 1255.95,619.62 1255.95,619.62 1262.43,619.62 1262.43,619.62 1268.92,619.62 1268.92,619.62 1275.4,619.62 1275.4,619.62 1281.88,619.62 1281.88,619.62 1288.36,619.62 1288.36,619.62 1294.85,619.62 1294.85,619.62 1301.33,619.62 1301.33,619.62 1307.81,619.62 1307.81,619.62 1314.29,619.62 1314.29,619.62 1320.78,619.62 1320.78,620.17 1327.26,620.17 1327.26,623.71 1333.74,623.71 1333.74,630.65 1340.22,630.65 1340.22,637.59 1346.71,637.59 1346.71,646.03 1353.19,646.03 1353.19,660.52 1359.67,660.52 1359.67,675 1366.15,675 1366.15,689.49 1372.64,689.49 1372.64,702.76 1379.12,702.76 1379.12,711.2 1385.6,711.2 1385.6,719.64 1392.08,719.64 1392.08,728.08 1398.57,728.08 1398.57,741.63 1405.05,741.63 1405.05,755.18 1411.53,755.18 1411.53,762.22 1418.01,762.22 1418.01,762.22 1424.5,762.22 1424.5,760.18 1430.98,760.18 1430.98,758.13 1437.46,758.13 1437.46,756.09 1443.94,756.09 1443.94,754.05 1450.43,754.05 1450.43,752 1456.91,752 1456.91,749.96 1463.39,749.96 1463.39,747.12 1469.87,747.12 1469.87,741.12 1476.36,741.12 1476.36,735.12 1482.84,735.12 1482.84,728.3 1489.32,728.3 1489.32,718.17 1495.8,718.17 1495.8,708.05 1502.29,708.05 1502.29,698.64 1508.77,698.64 1508.77,692.08 1513.7,692.08 1513.7,667.89 L1513.7,783.2 1126.3,783.2 Z" fill="#E0B400" fill-opacity="0.1" stroke="none"/>
<path d="M1126.3,613.04 1126.3,613.04 1126.3,613.04 1132.78,613.04 1132.78,613.04 1139.27,613.04 1139.27,613.04 1145.75,613.04 1145.75,613.04 1152.23,613.04 1152.23,613.04 1158.71,613.04 1158.71,613.04 1165.2,613.04 1165.2,613.04 1171.68,613.04 1171.68,613.04 1178.16,613.04 1178.16,613.04 1184.64,613.04 1184.64,613.04 1191.13,613.04 1191.13,613.04 1197.61,613.04 1197.61,613.04 1204.09,613.04 1204.09,613.04 1210.57,613.04 1210.57,613.04 1217.06,613.04 1217.06,613.04 1223.54,613.04 1223.54,613.04 1230.02,613.04 1230.02,613.04 1236.5,613.04 1236.5,613.04 1242.99,613.04 1242.99,613.04 1249.47,613.04 1249.47,613.04 1255.95,613.04 1255.95,613.04 1262.43,613.04 1262.43,613.04 1268.92,613.04 1268.92,613.04 1275.4,613.04 1275.4,613.04 1281.88,613.04 1281.88,613.04 1288.36,613.04 1288.36,613.04 1294.85,613.04 1294.85,613.04 1301.33,613.04 1301.33,613.04 1307.81,613.04 1307.81,613.04 1314.29,613.04 1314.29,613.04 1320.78,613.04 1320.78,613.4 1327.26,613.4 1327.26,615.15 1333.74,615.15 1333.74,616.91 1340.22,616.91 1340.22,618.67 1346.71,618.67 1346.71,621.13 1353.19,621.13 1353.19,626.4 1359.67,626.4 1359.67,631.68 1366.15,631.68 1366.15,636.95 1372.64,636.95 1372.64,639.01 1379.12,639.01 1379.12,641.08 1385.6,641.08 1385.6,643.14 1392.08,643.14 1392.08,648.06 1398.57,648.06 1398.57,652.98 1405.05,652.98 1405.05,657.9 1411.53,657.9 1411.53,658.89 1418.01,658.89 1418.01,658.89 1424.5,658.89 1424.5,657.89 1430.98,657.89 1430.98,656.9 1437.46,656.9 1437.46,655.91 1443.94,655.91 1443.94,654.92 1450.43,654.92 1450.43,653.92 1456.91,653.92 1456.91,652.93 1463.39,652.93 1463.39,651.73 1469.87,651.73 1469.87,649.66 1476.36,649.66 1476.36,647.6 1482.84,647.6 1482.84,645.16 1489.32,645.16 1489.32,641.23 1495.8,641.23 1495.8,637.29 1502.29,637.29 1502.29,633.32 1508.77,633.32 1508.77,629.23 1513.7,629.23 1513.7,625.14 L1513.7,667.89 1513.7,692.08 1508.77,692.08 1508.77,698.64 1502.29,698.64 1502.29,708.05 1495.8,708.05 1495.8,718.17 1489.32,718.17 1489.32,728.3 1482.84,728.3 1482.84,735.12 1476.36,735.12 1476.36,741.12 1469.87,741.12 1469.87,747.12 1463.39,747.12 1463.39,749.96 1456.91,749.96 1456.91,752 1450.43,752 1450.43,754.05 1443.94,754.05 1443.94,756.09 1437.46,756.09 1437.46,758.13 1430.98,758.13 1430.98,760.18 1424.5,760.18 1424.5,762.22 1418.01,762.22 1418.01,762.22 1411.53,762.22 1411.53,755.18 1405.05,755.18 1405.05,741.63 1398.57,741.63 1398.57,728.08 1392.08,728.08 1392.08,719.64 1385.6,719.64 1385.6,711.2 1379.12,711.2 1379.12,702.76 1372.64,702.76 1372.64,689.49 1366.15,689.49 1366.15,675 1359.67,675 1359.67,660.52 1353.19,660.52 1353.19,646.03 1346.71,646.03 1346.71,637.59 1340.22,637.59 1340.22,630.65 1333.74,630.65 1333.74,623.71 1327.26,623.71 1327.26,620.17 1320.78,620.17 1320.78,619.62 1314.29,619.62 1314.29,619.62 1307.81,619.62 1307.81,619.62 1301.33,619.62 1301.33,619.62 1294.85,619.62 1294.85,619.62 1288.36,619.62 1288.36,619.62 1281.88,619.62 1281.88,619.62 1275.4,619.62 1275.4,619.62 1268.92,619.62 1268.92,619.62 1262.43,619.62 1262.43,619.62 1255.95,619.62 1255.95,619.62 1249.47,619.62 1249.47,619.62 1242.99,619.62 1242.99,619.62 1236.5,619.62 1236.5,619.62 1230.02,619.62 1230.02,619.62 1223.54,619.62 1223.54,619.62 1217.06,619.62 1217.06,619.62 1210.57,619.62 1210.57,619.62 1204.09,619.62 1204.09,619.62 1197.61,619.62 1197.61,619.62 1191.13,619.62 1191.13,619.62 1184.64,619.62 1184.64,619.62 1178.16,619.62 1178.16,619.62 1171.68,619.62 1171.68,619.62 1165.2,619.62 1165.2,619.62 1158.71,619.62 1158.71,619.62 1152.23,619.62 1152.23,619.62 1145.75,619.62 1145.75,619.62 1139.27,619.62 1139.27,619.62 1132.78,619.62 1132.78,619.62 1126.3,619.62 1126.3,619.62 1126.3,619.62 Z" fill="#5794F2" fill-opacity="0.1" stroke="none"/>
<path d="M1126.3,608.15 1513.7,608.15 L1513.7,625.14 1513.7,629.23 1508.77,629.23 1508.77,633.32 1502.29,633.32 1502.29,637.29 1495.8,637.29 1495.8,641.23 1489.32,641.23 1489.32,645.16 1482.84,645.16 1482.84,647.6 1476.36,647.6 1476.36,649.66 1469.87,649.66 1469.87,651.73 1463.39,651.73 1463.39,652.93 1456.91,652.93 1456.91,653.92 1450.43,653.92 1450.43,654.92 1443.94,654.92 1443.94,655.91 1437.46,655.91 1437.46,656.9 1430.98,656.9 1430.98,657.89 1424.5,657.89 1424.5,658.89 1418.01,658.89 1418.01,658.89 1411.53,658.89 1411.53,657.9 1405.05,657.9 1405.05,652.98 1398.57,652.98 1398.57,648.06 1392.08,648.06 1392.08,643.14 1385.6,643.14 1385.6,641.08 1379.12,641.08 1379.12,639.01 1372.64,639.01 1372.64,636.95 1366.15,636.95 1366.15,631.68 1359.67,631.68 1359.67,626.4 1353.19,626.4 1353.19,621.13 1346.71,621.13 1346.71,618.67 1340.22,618.67 1340.22,616.91 1333.74,616.91 1333.74,615.15 1327.26,615.15 1327.26,613.4 1320.78,613.4 1320.78,613.04 1314.29,613.04 1314.29,613.04 1307.81,613.04 1307.81,613.04 1301.33,613.04 1301.33,613.04 1294.85,613.04 1294.85,613.04 1288.36,613.04 1288.36,613.04 1281.88,613.04 1281.88,613.04 1275.4,613.04 1275.4,613.04 1268.92,613.04 1268.92,613.04 1262.43,613.04 1262.43,613.04 1255.95,613.04 1255.95,613.04 1249.47,613.04 1249.47,613.04 1242.99,613.04 1242.99,613.04 1236.5,613.04 1236.5,613.04 1230.02,613.04 1230.02,613.04 1223.54,613.04 1223.54,613.04 1217.06,613.04 1217.06,613.04 1210.57,613.04 1210.57,613.04 1204.09,613.04 1204.09,613.04 1197.61,613.04 1197.61,613.04 1191.13,613.04 1191.13,613.04 1184.64,613.04 1184.64,613.04 1178.16,613.04 1178.16,613.04 1171.68,613.04 1171.68,613.04 1165.2,613.04 1165.2,613.04 1158.71,613.04 1158.71,613.04 1152.23,613.04 1152.23,613.04 1145.75,613.04 1145.75,613.04 1139.27,613.04 1139.27,613.04 1132.78,613.04 1132.78,613.04 1126.3,613.04 1126.3,613.04 1126.3,613.04 Z" fill="#FA6400" fill-opacity="0.1" stroke="none"/>
<path d="M1126.3,607.7 1513.7,607.7 L1513.7,608.15 1126.3,608.15 Z" fill="#E02F44" fill-opacity="0.1" stroke="none"/>
<polyline points="1126.3,619.62 1126.3,619.62 1126.3,619.62 1132.78,619.62 1132.78,619.62 1139.27,619.62 1139.27,619.62 1145.75,619.62 1145.75,619.62 1152.23,619.62 1152.23,619.62 1158.71,619.62 1158.71,619.62 1165.2,619.62 1165.2,619.62 1171.68,619.62 1171.68,619.62 1178.16,619.62 1178.16,619.62 1184.64,619.62 1184.64,619.62 1191.13,619.62 1191.13,619.62 1197.61,619.62 1197.61,619.62 1204.09,619.62 1204.09,619.62 1210.57,619.62 1210.57,619.62 1217.06,619.62 1217.06,619.62 1223.54,619.62 1223.54,619.62 1230.02,619.62 1230.02,619.62 1236.5,619.62 1236.5,619.62 1242.99,619.62 1242.99,619.62 1249.47,619.62 1249.47,619.62 1255.95,619.62 1255.95,619.62 1262.43,619.62 1262.43,619.62 1268.92,619.62 1268.92,619.62 1275.4,619.62 1275.4,619.62 1281.88,619.62 1281.88,619.62 1288.36,619.62 1288.36,619.62 1294.85,619.62 1294.85,619.62 1301.33,619.62 1301.33,619.62 1307.81,619.62 1307.81,619.62 1314.29,619.62 1314.29,619.62 1320.78,619.62 1320.78,620.17 1327.26,620.17 1327.26,623.71 1333.74,623.71 1333.74,630.65 1340.22,630.65 1340.22,637.59 1346.71,637.59 1346.71,646.03 1353.19,646.03 1353.19,660.52 1359.67,660.52 1359.67,675 1366.15,675 1366.15,689.49 1372.64,689.49 1372.64,702.76 1379.12,702.76 1379.12,711.2 1385.6,711.2 1385.6,719.64 1392.08,719.64 1392.08,728.08 1398.57,728.08 1398.57,741.63 1405.05,741.63 1405.05,755.18 1411.53,755.18 1411.53,762.22 1418.01,762.22 1418.01,762.22 1424.5,762.22 1424.5,760.18 1430.98,760.18 1430.98,758.13 1437.46,758.13 1437.46,756.09 1443.94,756.09 1443.94,754.05 1450.43,754.05 1450.43,752 1456.91,752 1456.91,749.96 1463.39,749.96 1463.39,747.12 1469.87,747.12 1469.87,741.12 1476.36,741.12 1476.36,735.12 1482.84,735.12 1482.84,728.3 1489.32,728.3 1489.32,718.17 1495.8,718.17 1495.8,708.05 1502.29,708.05 1502.29,698.64 1508.77,698.64 1508.77,692.08 1513.7,692.08 1513.7,667.89" fill="none" stroke="#cdb95c" stroke-width="1.7" stroke-opacity="1" stroke-linejoin="miter"/>
<polyline points="1126.3,613.04 1126.3,613.04 1126.3,613.04 1132.78,613.04 1132.78,613.04 1139.27,613.04 1139.27,613.04 1145.75,613.04 1145.75,613.04 1152.23,613.04 1152.23,613.04 1158.71,613.04 1158.71,613.04 1165.2,613.04 1165.2,613.04 1171.68,613.04 1171.68,613.04 1178.16,613.04 1178.16,613.04 1184.64,613.04 1184.64,613.04 1191.13,613.04 1191.13,613.04 1197.61,613.04 1197.61,613.04 1204.09,613.04 1204.09,613.04 1210.57,613.04 1210.57,613.04 1217.06,613.04 1217.06,613.04 1223.54,613.04 1223.54,613.04 1230.02,613.04 1230.02,613.04 1236.5,613.04 1236.5,613.04 1242.99,613.04 1242.99,613.04 1249.47,613.04 1249.47,613.04 1255.95,613.04 1255.95,613.04 1262.43,613.04 1262.43,613.04 1268.92,613.04 1268.92,613.04 1275.4,613.04 1275.4,613.04 1281.88,613.04 1281.88,613.04 1288.36,613.04 1288.36,613.04 1294.85,613.04 1294.85,613.04 1301.33,613.04 1301.33,613.04 1307.81,613.04 1307.81,613.04 1314.29,613.04 1314.29,613.04 1320.78,613.04 1320.78,613.4 1327.26,613.4 1327.26,615.15 1333.74,615.15 1333.74,616.91 1340.22,616.91 1340.22,618.67 1346.71,618.67 1346.71,621.13 1353.19,621.13 1353.19,626.4 1359.67,626.4 1359.67,631.68 1366.15,631.68 1366.15,636.95 1372.64,636.95 1372.64,639.01 1379.12,639.01 1379.12,641.08 1385.6,641.08 1385.6,643.14 1392.08,643.14 1392.08,648.06 1398.57,648.06 1398.57,652.98 1405.05,652.98 1405.05,657.9 1411.53,657.9 1411.53,658.89 1418.01,658.89 1418.01,658.89 1424.5,658.89 1424.5,657.89 1430.98,657.89 1430.98,656.9 1437.46,656.9 1437.46,655.91 1443.94,655.91 1443.94,654.92 1450.43,654.92 1450.43,653.92 1456.91,653.92 1456.91,652.93 1463.39,652.93 1463.39,651.73 1469.87,651.73 1469.87,649.66 1476.36,649.66 1476.36,647.6 1482.84,647.6 1482.84,645.16 1489.32,645.16 1489.32,641.23 1495.8,641.23 1495.8,637.29 1502.29,637.29 1502.29,633.32 1508.77,633.32 1508.77,629.23 1513.7,629.23 1513.7,625.14" fill="none" stroke="#7590bd" stroke-width="1.7" stroke-opacity="1" stroke-linejoin="miter"/>
<polyline points="1126.3,608.15 1513.7,608.15" fill="none" stroke="#f08a68" stroke-width="1.5" stroke-opacity="1" stroke-linejoin="miter"/>
<polyline points="1126.3,607.7 1513.7,607.7" fill="none" stroke="#c2464a" stroke-width="1.8" stroke-opacity="1" stroke-linejoin="miter"/>
<rect x="1062.1" y="833.5" width="20.5" height="5" rx="2.5" fill="#56A64B"/>
<text x="1096.1" y="841.6" font-family='"Liberation Sans", sans-serif' font-size="19" fill="#2b2e33" text-anchor="start" font-weight="400" textLength="40.4" lengthAdjust="spacingAndGlyphs">Total</text>
<rect x="1152.3" y="833.5" width="20.5" height="5" rx="2.5" fill="#E0B400"/>
<text x="1186.1" y="841.6" font-family='"Liberation Sans", sans-serif' font-size="19" fill="#2b2e33" text-anchor="start" font-weight="400" textLength="36.9" lengthAdjust="spacingAndGlyphs">Free</text>
<rect x="1239.5" y="833.5" width="20.5" height="5" rx="2.5" fill="#5794F2"/>
<text x="1272.7" y="841.6" font-family='"Liberation Sans", sans-serif' font-size="19" fill="#2b2e33" text-anchor="start" font-weight="400" textLength="33.7" lengthAdjust="spacingAndGlyphs">RSS</text>
<rect x="1322.5" y="833.5" width="20.5" height="5" rx="2.5" fill="#FA6400"/>
<text x="1356.2" y="841.6" font-family='"Liberation Sans", sans-serif' font-size="19" fill="#2b2e33" text-anchor="start" font-weight="400" textLength="65.5" lengthAdjust="spacingAndGlyphs">Cached</text>
<rect x="1062.1" y="868" width="20.5" height="5" rx="2.5" fill="#E02F44"/>
<text x="1096.1" y="876.1" font-family='"Liberation Sans", sans-serif' font-size="19" fill="#2b2e33" text-anchor="start" font-weight="400" textLength="72.5" lengthAdjust="spacingAndGlyphs">Buffered</text>
<rect x="1554" y="512.3" width="496.5" height="385" fill="#ffffff" rx="2" stroke="#e8e8e8" stroke-width="1"/>
<text x="1566.5" y="536" font-family='"Liberation Mono", monospace' font-size="8.8" fill="#000" text-anchor="start" font-weight="700" stroke="#000" stroke-width="0.3" textLength="119" lengthAdjust="spacingAndGlyphs">dev-cluster-worker-2</text>
<line x1="1636.3" y1="603.2" x2="2025.7" y2="603.2" stroke="rgba(36,41,46,0.075)" stroke-width="1"/>
<text x="1629.3" y="608.7" font-family='"Liberation Sans", sans-serif' font-size="19" fill="#2b2e33" text-anchor="end" font-weight="400" >32 GiB</text>
<line x1="1636.3" y1="648.2" x2="2025.7" y2="648.2" stroke="rgba(36,41,46,0.075)" stroke-width="1"/>
<text x="1629.3" y="653.7" font-family='"Liberation Sans", sans-serif' font-size="19" fill="#2b2e33" text-anchor="end" font-weight="400" >24 GiB</text>
<line x1="1636.3" y1="693.2" x2="2025.7" y2="693.2" stroke="rgba(36,41,46,0.075)" stroke-width="1"/>
<text x="1629.3" y="698.7" font-family='"Liberation Sans", sans-serif' font-size="19" fill="#2b2e33" text-anchor="end" font-weight="400" >16 GiB</text>
<line x1="1636.3" y1="738.2" x2="2025.7" y2="738.2" stroke="rgba(36,41,46,0.075)" stroke-width="1"/>
<text x="1629.3" y="743.7" font-family='"Liberation Sans", sans-serif' font-size="19" fill="#2b2e33" text-anchor="end" font-weight="400" >8 GiB</text>
<line x1="1636.3" y1="783.2" x2="2025.7" y2="783.2" stroke="rgba(36,41,46,0.075)" stroke-width="1"/>
<text x="1629.3" y="788.7" font-family='"Liberation Sans", sans-serif' font-size="19" fill="#2b2e33" text-anchor="end" font-weight="400" >0 B</text>
<line x1="1673.9" y1="584.5" x2="1673.9" y2="785.2" stroke="rgba(36,41,46,0.075)" stroke-width="1"/>
<text x="1673.9" y="811.3" font-family='"Liberation Sans", sans-serif' font-size="19" fill="#2b2e33" text-anchor="middle" font-weight="400" >16:00</text>
<line x1="1803.55" y1="584.5" x2="1803.55" y2="785.2" stroke="rgba(36,41,46,0.075)" stroke-width="1"/>
<text x="1803.55" y="811.3" font-family='"Liberation Sans", sans-serif' font-size="19" fill="#2b2e33" text-anchor="middle" font-weight="400" >16:10</text>
<line x1="1933.2" y1="584.5" x2="1933.2" y2="785.2" stroke="rgba(36,41,46,0.075)" stroke-width="1"/>
<text x="1933.2" y="811.3" font-family='"Liberation Sans", sans-serif' font-size="19" fill="#2b2e33" text-anchor="middle" font-weight="400" >16:20</text>
<path d="M1636.3,607.7 2023.7,607.7 L2023.7,783.2 1636.3,783.2 Z" fill="#56A64B" fill-opacity="0.1" stroke="none"/>
<path d="M1636.3,625.14 1636.3,625.14 1636.3,625.14 1642.78,625.14 1642.78,625.14 1649.27,625.14 1649.27,625.14 1655.75,625.14 1655.75,625.14 1662.23,625.14 1662.23,625.14 1668.71,625.14 1668.71,625.14 1675.2,625.14 1675.2,625.14 1681.68,625.14 1681.68,625.14 1688.16,625.14 1688.16,625.14 1694.64,625.14 1694.64,625.14 1701.13,625.14 1701.13,625.14 1707.61,625.14 1707.61,625.14 1714.09,625.14 1714.09,625.14 1720.57,625.14 1720.57,625.14 1727.06,625.14 1727.06,625.14 1733.54,625.14 1733.54,625.14 1740.02,625.14 1740.02,625.14 1746.5,625.14 1746.5,625.14 1752.99,625.14 1752.99,625.14 1759.47,625.14 1759.47,625.14 1765.95,625.14 1765.95,625.14 1772.43,625.14 1772.43,625.14 1778.92,625.14 1778.92,625.14 1785.4,625.14 1785.4,625.14 1791.88,625.14 1791.88,625.14 1798.36,625.14 1798.36,625.14 1804.85,625.14 1804.85,625.14 1811.33,625.14 1811.33,625.14 1817.81,625.14 1817.81,625.14 1824.29,625.14 1824.29,625.14 1830.78,625.14 1830.78,625.79 1837.26,625.79 1837.26,629.08 1843.74,629.08 1843.74,640.89 1850.22,640.89 1850.22,656.08 1856.71,656.08 1856.71,671.26 1863.19,671.26 1863.19,686.73 1869.67,686.73 1869.67,702.2 1876.15,702.2 1876.15,716.26 1882.64,716.26 1882.64,730.33 1889.12,730.33 1889.12,744.11 1895.6,744.11 1895.6,757.89 1902.08,757.89 1902.08,769.14 1908.57,769.14 1908.57,770.93 1915.05,770.93 1915.05,772.72 1921.53,772.72 1921.53,773.08 1928.01,773.08 1928.01,773.08 1934.5,773.08 1934.5,772.23 1940.98,772.23 1940.98,770.12 1947.46,770.12 1947.46,768.01 1953.94,768.01 1953.94,765.65 1960.43,765.65 1960.43,762.28 1966.91,762.28 1966.91,758.9 1973.39,758.9 1973.39,755.46 1979.87,755.46 1979.87,751.77 1986.36,751.77 1986.36,748.08 1992.84,748.08 1992.84,744.39 1999.32,744.39 1999.32,738.95 2005.8,738.95 2005.8,733.51 2012.29,733.51 2012.29,728.08 2018.77,728.08 2018.77,720.69 2023.7,720.69 2023.7,703.33 L2023.7,783.2 1636.3,783.2 Z" fill="#E0B400" fill-opacity="0.1" stroke="none"/>
<path d="M1636.3,617.26 1636.3,617.26 1636.3,617.26 1642.78,617.26 1642.78,617.26 1649.27,617.26 1649.27,617.26 1655.75,617.26 1655.75,617.26 1662.23,617.26 1662.23,617.26 1668.71,617.26 1668.71,617.26 1675.2,617.26 1675.2,617.26 1681.68,617.26 1681.68,617.26 1688.16,617.26 1688.16,617.26 1694.64,617.26 1694.64,617.26 1701.13,617.26 1701.13,617.26 1707.61,617.26 1707.61,617.26 1714.09,617.26 1714.09,617.26 1720.57,617.26 1720.57,617.26 1727.06,617.26 1727.06,617.26 1733.54,617.26 1733.54,617.26 1740.02,617.26 1740.02,617.26 1746.5,617.26 1746.5,617.26 1752.99,617.26 1752.99,617.26 1759.47,617.26 1759.47,617.26 1765.95,617.26 1765.95,617.26 1772.43,617.26 1772.43,617.26 1778.92,617.26 1778.92,617.26 1785.4,617.26 1785.4,617.26 1791.88,617.26 1791.88,617.26 1798.36,617.26 1798.36,617.26 1804.85,617.26 1804.85,617.26 1811.33,617.26 1811.33,617.26 1817.81,617.26 1817.81,617.26 1824.29,617.26 1824.29,617.5 1830.78,617.5 1830.78,618.71 1837.26,618.71 1837.26,621.95 1843.74,621.95 1843.74,625.7 1850.22,625.7 1850.22,629.45 1856.71,629.45 1856.71,633.43 1863.19,633.43 1863.19,637.48 1869.67,637.48 1869.67,641.52 1876.15,641.52 1876.15,645.73 1882.64,645.73 1882.64,650.04 1889.12,650.04 1889.12,654.35 1895.6,654.35 1895.6,659.45 1902.08,659.45 1902.08,665.08 1908.57,665.08 1908.57,665.08 1915.05,665.08 1915.05,665.08 1921.53,665.08 1921.53,665.08 1928.01,665.08 1928.01,665.08 1934.5,665.08 1934.5,664.58 1940.98,664.58 1940.98,663.35 1947.46,663.35 1947.46,662.12 1953.94,662.12 1953.94,661.05 1960.43,661.05 1960.43,660.59 1966.91,660.59 1966.91,660.14 1973.39,660.14 1973.39,659.69 1979.87,659.69 1979.87,659.23 1986.36,659.23 1986.36,658.78 1992.84,658.78 1992.84,658.33 1999.32,658.33 1999.32,654.95 2005.8,654.95 2005.8,651.58 2012.29,651.58 2012.29,648.2 2018.77,648.2 2018.77,645.11 2023.7,645.11 2023.7,642.01 L2023.7,703.33 2023.7,720.69 2018.77,720.69 2018.77,728.08 2012.29,728.08 2012.29,733.51 2005.8,733.51 2005.8,738.95 1999.32,738.95 1999.32,744.39 1992.84,744.39 1992.84,748.08 1986.36,748.08 1986.36,751.77 1979.87,751.77 1979.87,755.46 1973.39,755.46 1973.39,758.9 1966.91,758.9 1966.91,762.28 1960.43,762.28 1960.43,765.65 1953.94,765.65 1953.94,768.01 1947.46,768.01 1947.46,770.12 1940.98,770.12 1940.98,772.23 1934.5,772.23 1934.5,773.08 1928.01,773.08 1928.01,773.08 1921.53,773.08 1921.53,772.72 1915.05,772.72 1915.05,770.93 1908.57,770.93 1908.57,769.14 1902.08,769.14 1902.08,757.89 1895.6,757.89 1895.6,744.11 1889.12,744.11 1889.12,730.33 1882.64,730.33 1882.64,716.26 1876.15,716.26 1876.15,702.2 1869.67,702.2 1869.67,686.73 1863.19,686.73 1863.19,671.26 1856.71,671.26 1856.71,656.08 1850.22,656.08 1850.22,640.89 1843.74,640.89 1843.74,629.08 1837.26,629.08 1837.26,625.79 1830.78,625.79 1830.78,625.14 1824.29,625.14 1824.29,625.14 1817.81,625.14 1817.81,625.14 1811.33,625.14 1811.33,625.14 1804.85,625.14 1804.85,625.14 1798.36,625.14 1798.36,625.14 1791.88,625.14 1791.88,625.14 1785.4,625.14 1785.4,625.14 1778.92,625.14 1778.92,625.14 1772.43,625.14 1772.43,625.14 1765.95,625.14 1765.95,625.14 1759.47,625.14 1759.47,625.14 1752.99,625.14 1752.99,625.14 1746.5,625.14 1746.5,625.14 1740.02,625.14 1740.02,625.14 1733.54,625.14 1733.54,625.14 1727.06,625.14 1727.06,625.14 1720.57,625.14 1720.57,625.14 1714.09,625.14 1714.09,625.14 1707.61,625.14 1707.61,625.14 1701.13,625.14 1701.13,625.14 1694.64,625.14 1694.64,625.14 1688.16,625.14 1688.16,625.14 1681.68,625.14 1681.68,625.14 1675.2,625.14 1675.2,625.14 1668.71,625.14 1668.71,625.14 1662.23,625.14 1662.23,625.14 1655.75,625.14 1655.75,625.14 1649.27,625.14 1649.27,625.14 1642.78,625.14 1642.78,625.14 1636.3,625.14 1636.3,625.14 1636.3,625.14 Z" fill="#5794F2" fill-opacity="0.1" stroke="none"/>
<path d="M1636.3,608.15 2023.7,608.15 L2023.7,642.01 2023.7,645.11 2018.77,645.11 2018.77,648.2 2012.29,648.2 2012.29,651.58 2005.8,651.58 2005.8,654.95 1999.32,654.95 1999.32,658.33 1992.84,658.33 1992.84,658.78 1986.36,658.78 1986.36,659.23 1979.87,659.23 1979.87,659.69 1973.39,659.69 1973.39,660.14 1966.91,660.14 1966.91,660.59 1960.43,660.59 1960.43,661.05 1953.94,661.05 1953.94,662.12 1947.46,662.12 1947.46,663.35 1940.98,663.35 1940.98,664.58 1934.5,664.58 1934.5,665.08 1928.01,665.08 1928.01,665.08 1921.53,665.08 1921.53,665.08 1915.05,665.08 1915.05,665.08 1908.57,665.08 1908.57,665.08 1902.08,665.08 1902.08,659.45 1895.6,659.45 1895.6,654.35 1889.12,654.35 1889.12,650.04 1882.64,650.04 1882.64,645.73 1876.15,645.73 1876.15,641.52 1869.67,641.52 1869.67,637.48 1863.19,637.48 1863.19,633.43 1856.71,633.43 1856.71,629.45 1850.22,629.45 1850.22,625.7 1843.74,625.7 1843.74,621.95 1837.26,621.95 1837.26,618.71 1830.78,618.71 1830.78,617.5 1824.29,617.5 1824.29,617.26 1817.81,617.26 1817.81,617.26 1811.33,617.26 1811.33,617.26 1804.85,617.26 1804.85,617.26 1798.36,617.26 1798.36,617.26 1791.88,617.26 1791.88,617.26 1785.4,617.26 1785.4,617.26 1778.92,617.26 1778.92,617.26 1772.43,617.26 1772.43,617.26 1765.95,617.26 1765.95,617.26 1759.47,617.26 1759.47,617.26 1752.99,617.26 1752.99,617.26 1746.5,617.26 1746.5,617.26 1740.02,617.26 1740.02,617.26 1733.54,617.26 1733.54,617.26 1727.06,617.26 1727.06,617.26 1720.57,617.26 1720.57,617.26 1714.09,617.26 1714.09,617.26 1707.61,617.26 1707.61,617.26 1701.13,617.26 1701.13,617.26 1694.64,617.26 1694.64,617.26 1688.16,617.26 1688.16,617.26 1681.68,617.26 1681.68,617.26 1675.2,617.26 1675.2,617.26 1668.71,617.26 1668.71,617.26 1662.23,617.26 1662.23,617.26 1655.75,617.26 1655.75,617.26 1649.27,617.26 1649.27,617.26 1642.78,617.26 1642.78,617.26 1636.3,617.26 1636.3,617.26 1636.3,617.26 Z" fill="#FA6400" fill-opacity="0.1" stroke="none"/>
<path d="M1636.3,607.7 2023.7,607.7 L2023.7,608.15 1636.3,608.15 Z" fill="#E02F44" fill-opacity="0.1" stroke="none"/>
<polyline points="1636.3,625.14 1636.3,625.14 1636.3,625.14 1642.78,625.14 1642.78,625.14 1649.27,625.14 1649.27,625.14 1655.75,625.14 1655.75,625.14 1662.23,625.14 1662.23,625.14 1668.71,625.14 1668.71,625.14 1675.2,625.14 1675.2,625.14 1681.68,625.14 1681.68,625.14 1688.16,625.14 1688.16,625.14 1694.64,625.14 1694.64,625.14 1701.13,625.14 1701.13,625.14 1707.61,625.14 1707.61,625.14 1714.09,625.14 1714.09,625.14 1720.57,625.14 1720.57,625.14 1727.06,625.14 1727.06,625.14 1733.54,625.14 1733.54,625.14 1740.02,625.14 1740.02,625.14 1746.5,625.14 1746.5,625.14 1752.99,625.14 1752.99,625.14 1759.47,625.14 1759.47,625.14 1765.95,625.14 1765.95,625.14 1772.43,625.14 1772.43,625.14 1778.92,625.14 1778.92,625.14 1785.4,625.14 1785.4,625.14 1791.88,625.14 1791.88,625.14 1798.36,625.14 1798.36,625.14 1804.85,625.14 1804.85,625.14 1811.33,625.14 1811.33,625.14 1817.81,625.14 1817.81,625.14 1824.29,625.14 1824.29,625.14 1830.78,625.14 1830.78,625.79 1837.26,625.79 1837.26,629.08 1843.74,629.08 1843.74,640.89 1850.22,640.89 1850.22,656.08 1856.71,656.08 1856.71,671.26 1863.19,671.26 1863.19,686.73 1869.67,686.73 1869.67,702.2 1876.15,702.2 1876.15,716.26 1882.64,716.26 1882.64,730.33 1889.12,730.33 1889.12,744.11 1895.6,744.11 1895.6,757.89 1902.08,757.89 1902.08,769.14 1908.57,769.14 1908.57,770.93 1915.05,770.93 1915.05,772.72 1921.53,772.72 1921.53,773.08 1928.01,773.08 1928.01,773.08 1934.5,773.08 1934.5,772.23 1940.98,772.23 1940.98,770.12 1947.46,770.12 1947.46,768.01 1953.94,768.01 1953.94,765.65 1960.43,765.65 1960.43,762.28 1966.91,762.28 1966.91,758.9 1973.39,758.9 1973.39,755.46 1979.87,755.46 1979.87,751.77 1986.36,751.77 1986.36,748.08 1992.84,748.08 1992.84,744.39 1999.32,744.39 1999.32,738.95 2005.8,738.95 2005.8,733.51 2012.29,733.51 2012.29,728.08 2018.77,728.08 2018.77,720.69 2023.7,720.69 2023.7,703.33" fill="none" stroke="#cdb95c" stroke-width="1.7" stroke-opacity="1" stroke-linejoin="miter"/>
<polyline points="1636.3,617.26 1636.3,617.26 1636.3,617.26 1642.78,617.26 1642.78,617.26 1649.27,617.26 1649.27,617.26 1655.75,617.26 1655.75,617.26 1662.23,617.26 1662.23,617.26 1668.71,617.26 1668.71,617.26 1675.2,617.26 1675.2,617.26 1681.68,617.26 1681.68,617.26 1688.16,617.26 1688.16,617.26 1694.64,617.26 1694.64,617.26 1701.13,617.26 1701.13,617.26 1707.61,617.26 1707.61,617.26 1714.09,617.26 1714.09,617.26 1720.57,617.26 1720.57,617.26 1727.06,617.26 1727.06,617.26 1733.54,617.26 1733.54,617.26 1740.02,617.26 1740.02,617.26 1746.5,617.26 1746.5,617.26 1752.99,617.26 1752.99,617.26 1759.47,617.26 1759.47,617.26 1765.95,617.26 1765.95,617.26 1772.43,617.26 1772.43,617.26 1778.92,617.26 1778.92,617.26 1785.4,617.26 1785.4,617.26 1791.88,617.26 1791.88,617.26 1798.36,617.26 1798.36,617.26 1804.85,617.26 1804.85,617.26 1811.33,617.26 1811.33,617.26 1817.81,617.26 1817.81,617.26 1824.29,617.26 1824.29,617.5 1830.78,617.5 1830.78,618.71 1837.26,618.71 1837.26,621.95 1843.74,621.95 1843.74,625.7 1850.22,625.7 1850.22,629.45 1856.71,629.45 1856.71,633.43 1863.19,633.43 1863.19,637.48 1869.67,637.48 1869.67,641.52 1876.15,641.52 1876.15,645.73 1882.64,645.73 1882.64,650.04 1889.12,650.04 1889.12,654.35 1895.6,654.35 1895.6,659.45 1902.08,659.45 1902.08,665.08 1908.57,665.08 1908.57,665.08 1915.05,665.08 1915.05,665.08 1921.53,665.08 1921.53,665.08 1928.01,665.08 1928.01,665.08 1934.5,665.08 1934.5,664.58 1940.98,664.58 1940.98,663.35 1947.46,663.35 1947.46,662.12 1953.94,662.12 1953.94,661.05 1960.43,661.05 1960.43,660.59 1966.91,660.59 1966.91,660.14 1973.39,660.14 1973.39,659.69 1979.87,659.69 1979.87,659.23 1986.36,659.23 1986.36,658.78 1992.84,658.78 1992.84,658.33 1999.32,658.33 1999.32,654.95 2005.8,654.95 2005.8,651.58 2012.29,651.58 2012.29,648.2 2018.77,648.2 2018.77,645.11 2023.7,645.11 2023.7,642.01" fill="none" stroke="#7590bd" stroke-width="1.7" stroke-opacity="1" stroke-linejoin="miter"/>
<polyline points="1636.3,608.15 2023.7,608.15" fill="none" stroke="#f08a68" stroke-width="1.5" stroke-opacity="1" stroke-linejoin="miter"/>
<polyline points="1636.3,607.7 2023.7,607.7" fill="none" stroke="#c2464a" stroke-width="1.8" stroke-opacity="1" stroke-linejoin="miter"/>
<rect x="1572.1" y="833.5" width="20.5" height="5" rx="2.5" fill="#56A64B"/>
<text x="1606.1" y="841.6" font-family='"Liberation Sans", sans-serif' font-size="19" fill="#2b2e33" text-anchor="start" font-weight="400" textLength="40.4" lengthAdjust="spacingAndGlyphs">Total</text>
<rect x="1662.3" y="833.5" width="20.5" height="5" rx="2.5" fill="#E0B400"/>
<text x="1696.1" y="841.6" font-family='"Liberation Sans", sans-serif' font-size="19" fill="#2b2e33" text-anchor="start" font-weight="400" textLength="36.9" lengthAdjust="spacingAndGlyphs">Free</text>
<rect x="1749.5" y="833.5" width="20.5" height="5" rx="2.5" fill="#5794F2"/>
<text x="1782.7" y="841.6" font-family='"Liberation Sans", sans-serif' font-size="19" fill="#2b2e33" text-anchor="start" font-weight="400" textLength="33.7" lengthAdjust="spacingAndGlyphs">RSS</text>
<rect x="1832.5" y="833.5" width="20.5" height="5" rx="2.5" fill="#FA6400"/>
<text x="1866.2" y="841.6" font-family='"Liberation Sans", sans-serif' font-size="19" fill="#2b2e33" text-anchor="start" font-weight="400" textLength="65.5" lengthAdjust="spacingAndGlyphs">Cached</text>
<rect x="1572.1" y="868" width="20.5" height="5" rx="2.5" fill="#E02F44"/>
<text x="1606.1" y="876.1" font-family='"Liberation Sans", sans-serif' font-size="19" fill="#2b2e33" text-anchor="start" font-weight="400" textLength="72.5" lengthAdjust="spacingAndGlyphs">Buffered</text>
<rect x="23" y="912.3" width="496.5" height="399" fill="#ffffff" rx="2" stroke="#e8e8e8" stroke-width="1"/>
<text x="35.5" y="936" font-family='"Liberation Mono", monospace' font-size="8.8" fill="#000" text-anchor="start" font-weight="700" stroke="#000" stroke-width="0.3" textLength="119" lengthAdjust="spacingAndGlyphs">dev-cluster-worker-3</text>
<line x1="105.3" y1="1003.2" x2="494.7" y2="1003.2" stroke="rgba(36,41,46,0.075)" stroke-width="1"/>
<text x="98.3" y="1008.7" font-family='"Liberation Sans", sans-serif' font-size="19" fill="#2b2e33" text-anchor="end" font-weight="400" >32 GiB</text>
<line x1="105.3" y1="1048.2" x2="494.7" y2="1048.2" stroke="rgba(36,41,46,0.075)" stroke-width="1"/>
<text x="98.3" y="1053.7" font-family='"Liberation Sans", sans-serif' font-size="19" fill="#2b2e33" text-anchor="end" font-weight="400" >24 GiB</text>
<line x1="105.3" y1="1093.2" x2="494.7" y2="1093.2" stroke="rgba(36,41,46,0.075)" stroke-width="1"/>
<text x="98.3" y="1098.7" font-family='"Liberation Sans", sans-serif' font-size="19" fill="#2b2e33" text-anchor="end" font-weight="400" >16 GiB</text>
<line x1="105.3" y1="1138.2" x2="494.7" y2="1138.2" stroke="rgba(36,41,46,0.075)" stroke-width="1"/>
<text x="98.3" y="1143.7" font-family='"Liberation Sans", sans-serif' font-size="19" fill="#2b2e33" text-anchor="end" font-weight="400" >8 GiB</text>
<line x1="105.3" y1="1183.2" x2="494.7" y2="1183.2" stroke="rgba(36,41,46,0.075)" stroke-width="1"/>
<text x="98.3" y="1188.7" font-family='"Liberation Sans", sans-serif' font-size="19" fill="#2b2e33" text-anchor="end" font-weight="400" >0 B</text>
<line x1="142.9" y1="984.5" x2="142.9" y2="1185.2" stroke="rgba(36,41,46,0.075)" stroke-width="1"/>
<text x="142.9" y="1211.3" font-family='"Liberation Sans", sans-serif' font-size="19" fill="#2b2e33" text-anchor="middle" font-weight="400" >16:00</text>
<line x1="272.55" y1="984.5" x2="272.55" y2="1185.2" stroke="rgba(36,41,46,0.075)" stroke-width="1"/>
<text x="272.55" y="1211.3" font-family='"Liberation Sans", sans-serif' font-size="19" fill="#2b2e33" text-anchor="middle" font-weight="400" >16:10</text>
<line x1="402.2" y1="984.5" x2="402.2" y2="1185.2" stroke="rgba(36,41,46,0.075)" stroke-width="1"/>
<text x="402.2" y="1211.3" font-family='"Liberation Sans", sans-serif' font-size="19" fill="#2b2e33" text-anchor="middle" font-weight="400" >16:20</text>
<path d="M105.3,1007.7 492.7,1007.7 L492.7,1183.2 105.3,1183.2 Z" fill="#56A64B" fill-opacity="0.1" stroke="none"/>
<path d="M105.3,1035.83 105.3,1035.83 105.3,1035.79 111.78,1035.79 111.78,1035.6 118.27,1035.6 118.27,1035.41 124.75,1035.41 124.75,1035.23 131.23,1035.23 131.23,1035.04 137.71,1035.04 137.71,1034.85 144.2,1034.85 144.2,1034.66 150.68,1034.66 150.68,1034.48 157.16,1034.48 157.16,1034.29 163.64,1034.29 163.64,1034.1 170.13,1034.1 170.13,1033.91 176.61,1033.91 176.61,1033.73 183.09,1033.73 183.09,1033.58 189.57,1033.58 189.57,1033.58 196.06,1033.58 196.06,1033.58 202.54,1033.58 202.54,1033.58 209.02,1033.58 209.02,1033.58 215.5,1033.58 215.5,1033.58 221.99,1033.58 221.99,1033.66 228.47,1033.66 228.47,1034.08 234.95,1034.08 234.95,1034.5 241.43,1034.5 241.43,1034.92 247.92,1034.92 247.92,1035.26 254.4,1035.26 254.4,1035.26 260.88,1035.26 260.88,1035.26 267.36,1035.26 267.36,1035.26 273.85,1035.26 273.85,1035.26 280.33,1035.26 280.33,1035.26 286.81,1035.26 286.81,1035.26 293.29,1035.26 293.29,1035.26 299.78,1035.26 299.78,1035.26 306.26,1035.26 306.26,1036.71 312.74,1036.71 312.74,1040.33 319.22,1040.33 319.22,1048.2 325.71,1048.2 325.71,1060.01 332.19,1060.01 332.19,1071.73 338.67,1071.73 338.67,1087.01 345.15,1087.01 345.15,1102.2 351.64,1102.2 351.64,1117.95 358.12,1117.95 358.12,1133.14 364.6,1133.14 364.6,1153.39 371.08,1153.39 371.08,1166.33 377.57,1166.33 377.57,1171.01 384.05,1171.01 384.05,1178.14 390.53,1178.14 390.53,1178.14 397.01,1178.14 397.01,1178.14 403.5,1178.14 403.5,1178.14 409.98,1178.14 409.98,1173.92 416.46,1173.92 416.46,1172.37 422.94,1172.37 422.94,1171.49 429.43,1171.49 429.43,1170.61 435.91,1170.61 435.91,1169.28 442.39,1169.28 442.39,1167.64 448.87,1167.64 448.87,1165.56 455.36,1165.56 455.36,1161.72 461.84,1161.72 461.84,1157.89 468.32,1157.89 468.32,1150.73 474.8,1150.73 474.8,1143.57 481.29,1143.57 481.29,1130.33 487.77,1130.33 487.77,1119.54 492.7,1119.54 492.7,1098.26 L492.7,1183.2 105.3,1183.2 Z" fill="#E0B400" fill-opacity="0.1" stroke="none"/>
<path d="M105.3,1020.64 105.3,1020.64 105.3,1020.64 111.78,1020.64 111.78,1020.64 118.27,1020.64 118.27,1020.64 124.75,1020.64 124.75,1020.64 131.23,1020.64 131.23,1020.64 137.71,1020.64 137.71,1020.64 144.2,1020.64 144.2,1020.64 150.68,1020.64 150.68,1020.64 157.16,1020.64 157.16,1020.64 163.64,1020.64 163.64,1020.64 170.13,1020.64 170.13,1020.64 176.61,1020.64 176.61,1020.64 183.09,1020.64 183.09,1020.64 189.57,1020.64 189.57,1020.64 196.06,1020.64 196.06,1020.64 202.54,1020.64 202.54,1020.64 209.02,1020.64 209.02,1020.64 215.5,1020.64 215.5,1020.64 221.99,1020.64 221.99,1020.64 228.47,1020.64 228.47,1020.64 234.95,1020.64 234.95,1020.64 241.43,1020.64 241.43,1020.64 247.92,1020.64 247.92,1020.64 254.4,1020.64 254.4,1020.64 260.88,1020.64 260.88,1020.64 267.36,1020.64 267.36,1020.64 273.85,1020.64 273.85,1020.64 280.33,1020.64 280.33,1020.64 286.81,1020.64 286.81,1020.64 293.29,1020.64 293.29,1020.64 299.78,1020.64 299.78,1020.64 306.26,1020.64 306.26,1021.6 312.74,1021.6 312.74,1024.01 319.22,1024.01 319.22,1028.51 325.71,1028.51 325.71,1033.01 332.19,1033.01 332.19,1037.51 338.67,1037.51 338.67,1042.01 345.15,1042.01 345.15,1047.08 351.64,1047.08 351.64,1052.14 358.12,1052.14 358.12,1058.7 364.6,1058.7 364.6,1060.01 371.08,1060.01 371.08,1060.01 377.57,1060.01 377.57,1060.01 384.05,1060.01 384.05,1060.01 390.53,1060.01 390.53,1059.41 397.01,1059.41 397.01,1058.81 403.5,1058.81 403.5,1058.1 409.98,1058.1 409.98,1056.98 416.46,1056.98 416.46,1055.85 422.94,1055.85 422.94,1055.07 429.43,1055.07 429.43,1055.66 435.91,1055.66 435.91,1056.25 442.39,1056.25 442.39,1056.84 448.87,1056.84 448.87,1056.36 455.36,1056.36 455.36,1054.25 461.84,1054.25 461.84,1052.14 468.32,1052.14 468.32,1048.76 474.8,1048.76 474.8,1045.39 481.29,1045.39 481.29,1042.01 487.77,1042.01 487.77,1036.11 492.7,1036.11 492.7,1030.2 L492.7,1098.26 492.7,1119.54 487.77,1119.54 487.77,1130.33 481.29,1130.33 481.29,1143.57 474.8,1143.57 474.8,1150.73 468.32,1150.73 468.32,1157.89 461.84,1157.89 461.84,1161.72 455.36,1161.72 455.36,1165.56 448.87,1165.56 448.87,1167.64 442.39,1167.64 442.39,1169.28 435.91,1169.28 435.91,1170.61 429.43,1170.61 429.43,1171.49 422.94,1171.49 422.94,1172.37 416.46,1172.37 416.46,1173.92 409.98,1173.92 409.98,1178.14 403.5,1178.14 403.5,1178.14 397.01,1178.14 397.01,1178.14 390.53,1178.14 390.53,1178.14 384.05,1178.14 384.05,1171.01 377.57,1171.01 377.57,1166.33 371.08,1166.33 371.08,1153.39 364.6,1153.39 364.6,1133.14 358.12,1133.14 358.12,1117.95 351.64,1117.95 351.64,1102.2 345.15,1102.2 345.15,1087.01 338.67,1087.01 338.67,1071.73 332.19,1071.73 332.19,1060.01 325.71,1060.01 325.71,1048.2 319.22,1048.2 319.22,1040.33 312.74,1040.33 312.74,1036.71 306.26,1036.71 306.26,1035.26 299.78,1035.26 299.78,1035.26 293.29,1035.26 293.29,1035.26 286.81,1035.26 286.81,1035.26 280.33,1035.26 280.33,1035.26 273.85,1035.26 273.85,1035.26 267.36,1035.26 267.36,1035.26 260.88,1035.26 260.88,1035.26 254.4,1035.26 254.4,1035.26 247.92,1035.26 247.92,1034.92 241.43,1034.92 241.43,1034.5 234.95,1034.5 234.95,1034.08 228.47,1034.08 228.47,1033.66 221.99,1033.66 221.99,1033.58 215.5,1033.58 215.5,1033.58 209.02,1033.58 209.02,1033.58 202.54,1033.58 202.54,1033.58 196.06,1033.58 196.06,1033.58 189.57,1033.58 189.57,1033.58 183.09,1033.58 183.09,1033.73 176.61,1033.73 176.61,1033.91 170.13,1033.91 170.13,1034.1 163.64,1034.1 163.64,1034.29 157.16,1034.29 157.16,1034.48 150.68,1034.48 150.68,1034.66 144.2,1034.66 144.2,1034.85 137.71,1034.85 137.71,1035.04 131.23,1035.04 131.23,1035.23 124.75,1035.23 124.75,1035.41 118.27,1035.41 118.27,1035.6 111.78,1035.6 111.78,1035.79 105.3,1035.79 105.3,1035.83 105.3,1035.83 Z" fill="#5794F2" fill-opacity="0.1" stroke="none"/>
<path d="M105.3,1008.15 492.7,1008.15 L492.7,1030.2 492.7,1036.11 487.77,1036.11 487.77,1042.01 481.29,1042.01 481.29,1045.39 474.8,1045.39 474.8,1048.76 468.32,1048.76 468.32,1052.14 461.84,1052.14 461.84,1054.25 455.36,1054.25 455.36,1056.36 448.87,1056.36 448.87,1056.84 442.39,1056.84 442.39,1056.25 435.91,1056.25 435.91,1055.66 429.43,1055.66 429.43,1055.07 422.94,1055.07 422.94,1055.85 416.46,1055.85 416.46,1056.98 409.98,1056.98 409.98,1058.1 403.5,1058.1 403.5,1058.81 397.01,1058.81 397.01,1059.41 390.53,1059.41 390.53,1060.01 384.05,1060.01 384.05,1060.01 377.57,1060.01 377.57,1060.01 371.08,1060.01 371.08,1060.01 364.6,1060.01 364.6,1058.7 358.12,1058.7 358.12,1052.14 351.64,1052.14 351.64,1047.08 345.15,1047.08 345.15,1042.01 338.67,1042.01 338.67,1037.51 332.19,1037.51 332.19,1033.01 325.71,1033.01 325.71,1028.51 319.22,1028.51 319.22,1024.01 312.74,1024.01 312.74,1021.6 306.26,1021.6 306.26,1020.64 299.78,1020.64 299.78,1020.64 293.29,1020.64 293.29,1020.64 286.81,1020.64 286.81,1020.64 280.33,1020.64 280.33,1020.64 273.85,1020.64 273.85,1020.64 267.36,1020.64 267.36,1020.64 260.88,1020.64 260.88,1020.64 254.4,1020.64 254.4,1020.64 247.92,1020.64 247.92,1020.64 241.43,1020.64 241.43,1020.64 234.95,1020.64 234.95,1020.64 228.47,1020.64 228.47,1020.64 221.99,1020.64 221.99,1020.64 215.5,1020.64 215.5,1020.64 209.02,1020.64 209.02,1020.64 202.54,1020.64 202.54,1020.64 196.06,1020.64 196.06,1020.64 189.57,1020.64 189.57,1020.64 183.09,1020.64 183.09,1020.64 176.61,1020.64 176.61,1020.64 170.13,1020.64 170.13,1020.64 163.64,1020.64 163.64,1020.64 157.16,1020.64 157.16,1020.64 150.68,1020.64 150.68,1020.64 144.2,1020.64 144.2,1020.64 137.71,1020.64 137.71,1020.64 131.23,1020.64 131.23,1020.64 124.75,1020.64 124.75,1020.64 118.27,1020.64 118.27,1020.64 111.78,1020.64 111.78,1020.64 105.3,1020.64 105.3,1020.64 105.3,1020.64 Z" fill="#FA6400" fill-opacity="0.1" stroke="none"/>
<path d="M105.3,1007.7 492.7,1007.7 L492.7,1008.15 105.3,1008.15 Z" fill="#E02F44" fill-opacity="0.1" stroke="none"/>
<polyline points="105.3,1035.83 105.3,1035.83 105.3,1035.79 111.78,1035.79 111.78,1035.6 118.27,1035.6 118.27,1035.41 124.75,1035.41 124.75,1035.23 131.23,1035.23 131.23,1035.04 137.71,1035.04 137.71,1034.85 144.2,1034.85 144.2,1034.66 150.68,1034.66 150.68,1034.48 157.16,1034.48 157.16,1034.29 163.64,1034.29 163.64,1034.1 170.13,1034.1 170.13,1033.91 176.61,1033.91 176.61,1033.73 183.09,1033.73 183.09,1033.58 189.57,1033.58 189.57,1033.58 196.06,1033.58 196.06,1033.58 202.54,1033.58 202.54,1033.58 209.02,1033.58 209.02,1033.58 215.5,1033.58 215.5,1033.58 221.99,1033.58 221.99,1033.66 228.47,1033.66 228.47,1034.08 234.95,1034.08 234.95,1034.5 241.43,1034.5 241.43,1034.92 247.92,1034.92 247.92,1035.26 254.4,1035.26 254.4,1035.26 260.88,1035.26 260.88,1035.26 267.36,1035.26 267.36,1035.26 273.85,1035.26 273.85,1035.26 280.33,1035.26 280.33,1035.26 286.81,1035.26 286.81,1035.26 293.29,1035.26 293.29,1035.26 299.78,1035.26 299.78,1035.26 306.26,1035.26 306.26,1036.71 312.74,1036.71 312.74,1040.33 319.22,1040.33 319.22,1048.2 325.71,1048.2 325.71,1060.01 332.19,1060.01 332.19,1071.73 338.67,1071.73 338.67,1087.01 345.15,1087.01 345.15,1102.2 351.64,1102.2 351.64,1117.95 358.12,1117.95 358.12,1133.14 364.6,1133.14 364.6,1153.39 371.08,1153.39 371.08,1166.33 377.57,1166.33 377.57,1171.01 384.05,1171.01 384.05,1178.14 390.53,1178.14 390.53,1178.14 397.01,1178.14 397.01,1178.14 403.5,1178.14 403.5,1178.14 409.98,1178.14 409.98,1173.92 416.46,1173.92 416.46,1172.37 422.94,1172.37 422.94,1171.49 429.43,1171.49 429.43,1170.61 435.91,1170.61 435.91,1169.28 442.39,1169.28 442.39,1167.64 448.87,1167.64 448.87,1165.56 455.36,1165.56 455.36,1161.72 461.84,1161.72 461.84,1157.89 468.32,1157.89 468.32,1150.73 474.8,1150.73 474.8,1143.57 481.29,1143.57 481.29,1130.33 487.77,1130.33 487.77,1119.54 492.7,1119.54 492.7,1098.26" fill="none" stroke="#cdb95c" stroke-width="1.7" stroke-opacity="1" stroke-linejoin="miter"/>
<polyline points="105.3,1020.64 105.3,1020.64 105.3,1020.64 111.78,1020.64 111.78,1020.64 118.27,1020.64 118.27,1020.64 124.75,1020.64 124.75,1020.64 131.23,1020.64 131.23,1020.64 137.71,1020.64 137.71,1020.64 144.2,1020.64 144.2,1020.64 150.68,1020.64 150.68,1020.64 157.16,1020.64 157.16,1020.64 163.64,1020.64 163.64,1020.64 170.13,1020.64 170.13,1020.64 176.61,1020.64 176.61,1020.64 183.09,1020.64 183.09,1020.64 189.57,1020.64 189.57,1020.64 196.06,1020.64 196.06,1020.64 202.54,1020.64 202.54,1020.64 209.02,1020.64 209.02,1020.64 215.5,1020.64 215.5,1020.64 221.99,1020.64 221.99,1020.64 228.47,1020.64 228.47,1020.64 234.95,1020.64 234.95,1020.64 241.43,1020.64 241.43,1020.64 247.92,1020.64 247.92,1020.64 254.4,1020.64 254.4,1020.64 260.88,1020.64 260.88,1020.64 267.36,1020.64 267.36,1020.64 273.85,1020.64 273.85,1020.64 280.33,1020.64 280.33,1020.64 286.81,1020.64 286.81,1020.64 293.29,1020.64 293.29,1020.64 299.78,1020.64 299.78,1020.64 306.26,1020.64 306.26,1021.6 312.74,1021.6 312.74,1024.01 319.22,1024.01 319.22,1028.51 325.71,1028.51 325.71,1033.01 332.19,1033.01 332.19,1037.51 338.67,1037.51 338.67,1042.01 345.15,1042.01 345.15,1047.08 351.64,1047.08 351.64,1052.14 358.12,1052.14 358.12,1058.7 364.6,1058.7 364.6,1060.01 371.08,1060.01 371.08,1060.01 377.57,1060.01 377.57,1060.01 384.05,1060.01 384.05,1060.01 390.53,1060.01 390.53,1059.41 397.01,1059.41 397.01,1058.81 403.5,1058.81 403.5,1058.1 409.98,1058.1 409.98,1056.98 416.46,1056.98 416.46,1055.85 422.94,1055.85 422.94,1055.07 429.43,1055.07 429.43,1055.66 435.91,1055.66 435.91,1056.25 442.39,1056.25 442.39,1056.84 448.87,1056.84 448.87,1056.36 455.36,1056.36 455.36,1054.25 461.84,1054.25 461.84,1052.14 468.32,1052.14 468.32,1048.76 474.8,1048.76 474.8,1045.39 481.29,1045.39 481.29,1042.01 487.77,1042.01 487.77,1036.11 492.7,1036.11 492.7,1030.2" fill="none" stroke="#7590bd" stroke-width="1.7" stroke-opacity="1" stroke-linejoin="miter"/>
<polyline points="105.3,1008.15 492.7,1008.15" fill="none" stroke="#f08a68" stroke-width="1.5" stroke-opacity="1" stroke-linejoin="miter"/>
<polyline points="105.3,1007.7 492.7,1007.7" fill="none" stroke="#c2464a" stroke-width="1.8" stroke-opacity="1" stroke-linejoin="miter"/>
<rect x="41.1" y="1233.5" width="20.5" height="5" rx="2.5" fill="#56A64B"/>
<text x="75.1" y="1241.6" font-family='"Liberation Sans", sans-serif' font-size="19" fill="#2b2e33" text-anchor="start" font-weight="400" textLength="40.4" lengthAdjust="spacingAndGlyphs">Total</text>
<rect x="131.3" y="1233.5" width="20.5" height="5" rx="2.5" fill="#E0B400"/>
<text x="165.1" y="1241.6" font-family='"Liberation Sans", sans-serif' font-size="19" fill="#2b2e33" text-anchor="start" font-weight="400" textLength="36.9" lengthAdjust="spacingAndGlyphs">Free</text>
<rect x="218.5" y="1233.5" width="20.5" height="5" rx="2.5" fill="#5794F2"/>
<text x="251.7" y="1241.6" font-family='"Liberation Sans", sans-serif' font-size="19" fill="#2b2e33" text-anchor="start" font-weight="400" textLength="33.7" lengthAdjust="spacingAndGlyphs">RSS</text>
<rect x="301.5" y="1233.5" width="20.5" height="5" rx="2.5" fill="#FA6400"/>
<text x="335.2" y="1241.6" font-family='"Liberation Sans", sans-serif' font-size="19" fill="#2b2e33" text-anchor="start" font-weight="400" textLength="65.5" lengthAdjust="spacingAndGlyphs">Cached</text>
<rect x="41.1" y="1268" width="20.5" height="5" rx="2.5" fill="#E02F44"/>
<text x="75.1" y="1276.1" font-family='"Liberation Sans", sans-serif' font-size="19" fill="#2b2e33" text-anchor="start" font-weight="400" textLength="72.5" lengthAdjust="spacingAndGlyphs">Buffered</text>
<rect x="534" y="912.3" width="496.5" height="399" fill="#ffffff" rx="2" stroke="#e8e8e8" stroke-width="1"/>
<text x="546.5" y="936" font-family='"Liberation Mono", monospace' font-size="8.8" fill="#000" text-anchor="start" font-weight="700" stroke="#000" stroke-width="0.3" textLength="119" lengthAdjust="spacingAndGlyphs">dev-cluster-worker-4</text>
<line x1="616.3" y1="1003.2" x2="1005.7" y2="1003.2" stroke="rgba(36,41,46,0.075)" stroke-width="1"/>
<text x="609.3" y="1008.7" font-family='"Liberation Sans", sans-serif' font-size="19" fill="#2b2e33" text-anchor="end" font-weight="400" >32 GiB</text>
<line x1="616.3" y1="1048.2" x2="1005.7" y2="1048.2" stroke="rgba(36,41,46,0.075)" stroke-width="1"/>
<text x="609.3" y="1053.7" font-family='"Liberation Sans", sans-serif' font-size="19" fill="#2b2e33" text-anchor="end" font-weight="400" >24 GiB</text>
<line x1="616.3" y1="1093.2" x2="1005.7" y2="1093.2" stroke="rgba(36,41,46,0.075)" stroke-width="1"/>
<text x="609.3" y="1098.7" font-family='"Liberation Sans", sans-serif' font-size="19" fill="#2b2e33" text-anchor="end" font-weight="400" >16 GiB</text>
<line x1="616.3" y1="1138.2" x2="1005.7" y2="1138.2" stroke="rgba(36,41,46,0.075)" stroke-width="1"/>
<text x="609.3" y="1143.7" font-family='"Liberation Sans", sans-serif' font-size="19" fill="#2b2e33" text-anchor="end" font-weight="400" >8 GiB</text>
<line x1="616.3" y1="1183.2" x2="1005.7" y2="1183.2" stroke="rgba(36,41,46,0.075)" stroke-width="1"/>
<text x="609.3" y="1188.7" font-family='"Liberation Sans", sans-serif' font-size="19" fill="#2b2e33" text-anchor="end" font-weight="400" >0 B</text>
<line x1="653.9" y1="984.5" x2="653.9" y2="1185.2" stroke="rgba(36,41,46,0.075)" stroke-width="1"/>
<text x="653.9" y="1211.3" font-family='"Liberation Sans", sans-serif' font-size="19" fill="#2b2e33" text-anchor="middle" font-weight="400" >16:00</text>
<line x1="783.55" y1="984.5" x2="783.55" y2="1185.2" stroke="rgba(36,41,46,0.075)" stroke-width="1"/>
<text x="783.55" y="1211.3" font-family='"Liberation Sans", sans-serif' font-size="19" fill="#2b2e33" text-anchor="middle" font-weight="400" >16:10</text>
<line x1="913.2" y1="984.5" x2="913.2" y2="1185.2" stroke="rgba(36,41,46,0.075)" stroke-width="1"/>
<text x="913.2" y="1211.3" font-family='"Liberation Sans", sans-serif' font-size="19" fill="#2b2e33" text-anchor="middle" font-weight="400" >16:20</text>
<path d="M616.3,1007.7 1003.7,1007.7 L1003.7,1183.2 616.3,1183.2 Z" fill="#56A64B" fill-opacity="0.1" stroke="none"/>
<path d="M616.3,1025.14 616.3,1025.14 616.3,1025.14 622.78,1025.14 622.78,1025.14 629.27,1025.14 629.27,1025.14 635.75,1025.14 635.75,1025.14 642.23,1025.14 642.23,1025.14 648.71,1025.14 648.71,1025.14 655.2,1025.14 655.2,1025.14 661.68,1025.14 661.68,1025.14 668.16,1025.14 668.16,1025.14 674.64,1025.14 674.64,1025.14 681.13,1025.14 681.13,1025.14 687.61,1025.14 687.61,1025.14 694.09,1025.14 694.09,1025.14 700.57,1025.14 700.57,1025.14 707.06,1025.14 707.06,1025.14 713.54,1025.14 713.54,1025.14 720.02,1025.14 720.02,1025.14 726.5,1025.14 726.5,1026.26 732.99,1026.26 732.99,1026.26 739.47,1026.26 739.47,1026.26 745.95,1026.26 745.95,1026.26 752.43,1026.26 752.43,1026.26 758.92,1026.26 758.92,1026.26 765.4,1026.26 765.4,1026.26 771.88,1026.26 771.88,1026.26 778.36,1026.26 778.36,1026.26 784.85,1026.26 784.85,1026.26 791.33,1026.26 791.33,1026.26 797.81,1026.26 797.81,1026.26 804.29,1026.26 804.29,1026.26 810.78,1026.26 810.78,1027.8 817.26,1027.8 817.26,1035.47 823.74,1035.47 823.74,1043.14 830.22,1043.14 830.22,1056.08 836.71,1056.08 836.71,1072.39 843.19,1072.39 843.19,1086.45 849.67,1086.45 849.67,1102.2 856.15,1102.2 856.15,1115.14 862.64,1115.14 862.64,1127.51 869.12,1127.51 869.12,1142.14 875.6,1142.14 875.6,1158.45 882.08,1158.45 882.08,1168.01 888.57,1168.01 888.57,1174.11 895.05,1174.11 895.05,1175.41 901.53,1175.41 901.53,1175.53 908.01,1175.53 908.01,1175.64 914.5,1175.64 914.5,1175.75 920.98,1175.75 920.98,1175.87 927.46,1175.87 927.46,1172.51 933.94,1172.51 933.94,1168.65 940.43,1168.65 940.43,1166.18 946.91,1166.18 946.91,1163.72 953.39,1163.72 953.39,1161.26 959.87,1161.26 959.87,1156.15 966.36,1156.15 966.36,1151.04 972.84,1151.04 972.84,1147.26 979.32,1147.26 979.32,1143.83 985.8,1143.83 985.8,1138.76 992.29,1138.76 992.29,1133.7 998.77,1133.7 998.77,1127.14 1003.7,1127.14 1003.7,1110.08 L1003.7,1183.2 616.3,1183.2 Z" fill="#E0B400" fill-opacity="0.1" stroke="none"/>
<path d="M616.3,1018.39 616.3,1018.39 616.3,1018.39 622.78,1018.39 622.78,1018.39 629.27,1018.39 629.27,1018.39 635.75,1018.39 635.75,1018.39 642.23,1018.39 642.23,1018.39 648.71,1018.39 648.71,1018.39 655.2,1018.39 655.2,1018.39 661.68,1018.39 661.68,1018.39 668.16,1018.39 668.16,1018.39 674.64,1018.39 674.64,1018.39 681.13,1018.39 681.13,1018.39 687.61,1018.39 687.61,1018.39 694.09,1018.39 694.09,1018.39 700.57,1018.39 700.57,1018.39 707.06,1018.39 707.06,1018.39 713.54,1018.39 713.54,1018.39 720.02,1018.39 720.02,1018.39 726.5,1018.39 726.5,1018.39 732.99,1018.39 732.99,1019.51 739.47,1019.51 739.47,1019.51 745.95,1019.51 745.95,1019.51 752.43,1019.51 752.43,1019.51 758.92,1019.51 758.92,1019.51 765.4,1019.51 765.4,1019.51 771.88,1019.51 771.88,1019.51 778.36,1019.51 778.36,1019.51 784.85,1019.51 784.85,1019.51 791.33,1019.51 791.33,1019.51 797.81,1019.51 797.81,1019.51 804.29,1019.51 804.29,1019.51 810.78,1019.51 810.78,1020.02 817.26,1020.02 817.26,1022.58 823.74,1022.58 823.74,1025.14 830.22,1025.14 830.22,1030.2 836.71,1030.2 836.71,1035.26 843.19,1035.26 843.19,1039.76 849.67,1039.76 849.67,1044.26 856.15,1044.26 856.15,1047.08 862.64,1047.08 862.64,1049.89 869.12,1049.89 869.12,1054.95 875.6,1054.95 875.6,1060.01 882.08,1060.01 882.08,1062.2 888.57,1062.2 888.57,1063.95 895.05,1063.95 895.05,1063.95 901.53,1063.95 901.53,1063.95 908.01,1063.95 908.01,1063.68 914.5,1063.68 914.5,1063.01 920.98,1063.01 920.98,1062.34 927.46,1062.34 927.46,1061.67 933.94,1061.67 933.94,1061 940.43,1061 940.43,1060.29 946.91,1060.29 946.91,1059.59 953.39,1059.59 953.39,1058.89 959.87,1058.89 959.87,1057.62 966.36,1057.62 966.36,1056.36 972.84,1056.36 972.84,1055.09 979.32,1055.09 979.32,1053.83 985.8,1053.83 985.8,1051.86 992.29,1051.86 992.29,1049.89 998.77,1049.89 998.77,1044.54 1003.7,1044.54 1003.7,1039.2 L1003.7,1110.08 1003.7,1127.14 998.77,1127.14 998.77,1133.7 992.29,1133.7 992.29,1138.76 985.8,1138.76 985.8,1143.83 979.32,1143.83 979.32,1147.26 972.84,1147.26 972.84,1151.04 966.36,1151.04 966.36,1156.15 959.87,1156.15 959.87,1161.26 953.39,1161.26 953.39,1163.72 946.91,1163.72 946.91,1166.18 940.43,1166.18 940.43,1168.65 933.94,1168.65 933.94,1172.51 927.46,1172.51 927.46,1175.87 920.98,1175.87 920.98,1175.75 914.5,1175.75 914.5,1175.64 908.01,1175.64 908.01,1175.53 901.53,1175.53 901.53,1175.41 895.05,1175.41 895.05,1174.11 888.57,1174.11 888.57,1168.01 882.08,1168.01 882.08,1158.45 875.6,1158.45 875.6,1142.14 869.12,1142.14 869.12,1127.51 862.64,1127.51 862.64,1115.14 856.15,1115.14 856.15,1102.2 849.67,1102.2 849.67,1086.45 843.19,1086.45 843.19,1072.39 836.71,1072.39 836.71,1056.08 830.22,1056.08 830.22,1043.14 823.74,1043.14 823.74,1035.47 817.26,1035.47 817.26,1027.8 810.78,1027.8 810.78,1026.26 804.29,1026.26 804.29,1026.26 797.81,1026.26 797.81,1026.26 791.33,1026.26 791.33,1026.26 784.85,1026.26 784.85,1026.26 778.36,1026.26 778.36,1026.26 771.88,1026.26 771.88,1026.26 765.4,1026.26 765.4,1026.26 758.92,1026.26 758.92,1026.26 752.43,1026.26 752.43,1026.26 745.95,1026.26 745.95,1026.26 739.47,1026.26 739.47,1026.26 732.99,1026.26 732.99,1026.26 726.5,1026.26 726.5,1025.14 720.02,1025.14 720.02,1025.14 713.54,1025.14 713.54,1025.14 707.06,1025.14 707.06,1025.14 700.57,1025.14 700.57,1025.14 694.09,1025.14 694.09,1025.14 687.61,1025.14 687.61,1025.14 681.13,1025.14 681.13,1025.14 674.64,1025.14 674.64,1025.14 668.16,1025.14 668.16,1025.14 661.68,1025.14 661.68,1025.14 655.2,1025.14 655.2,1025.14 648.71,1025.14 648.71,1025.14 642.23,1025.14 642.23,1025.14 635.75,1025.14 635.75,1025.14 629.27,1025.14 629.27,1025.14 622.78,1025.14 622.78,1025.14 616.3,1025.14 616.3,1025.14 616.3,1025.14 Z" fill="#5794F2" fill-opacity="0.1" stroke="none"/>
<path d="M616.3,1008.15 1003.7,1008.15 L1003.7,1039.2 1003.7,1044.54 998.77,1044.54 998.77,1049.89 992.29,1049.89 992.29,1051.86 985.8,1051.86 985.8,1053.83 979.32,1053.83 979.32,1055.09 972.84,1055.09 972.84,1056.36 966.36,1056.36 966.36,1057.62 959.87,1057.62 959.87,1058.89 953.39,1058.89 953.39,1059.59 946.91,1059.59 946.91,1060.29 940.43,1060.29 940.43,1061 933.94,1061 933.94,1061.67 927.46,1061.67 927.46,1062.34 920.98,1062.34 920.98,1063.01 914.5,1063.01 914.5,1063.68 908.01,1063.68 908.01,1063.95 901.53,1063.95 901.53,1063.95 895.05,1063.95 895.05,1063.95 888.57,1063.95 888.57,1062.2 882.08,1062.2 882.08,1060.01 875.6,1060.01 875.6,1054.95 869.12,1054.95 869.12,1049.89 862.64,1049.89 862.64,1047.08 856.15,1047.08 856.15,1044.26 849.67,1044.26 849.67,1039.76 843.19,1039.76 843.19,1035.26 836.71,1035.26 836.71,1030.2 830.22,1030.2 830.22,1025.14 823.74,1025.14 823.74,1022.58 817.26,1022.58 817.26,1020.02 810.78,1020.02 810.78,1019.51 804.29,1019.51 804.29,1019.51 797.81,1019.51 797.81,1019.51 791.33,1019.51 791.33,1019.51 784.85,1019.51 784.85,1019.51 778.36,1019.51 778.36,1019.51 771.88,1019.51 771.88,1019.51 765.4,1019.51 765.4,1019.51 758.92,1019.51 758.92,1019.51 752.43,1019.51 752.43,1019.51 745.95,1019.51 745.95,1019.51 739.47,1019.51 739.47,1019.51 732.99,1019.51 732.99,1018.39 726.5,1018.39 726.5,1018.39 720.02,1018.39 720.02,1018.39 713.54,1018.39 713.54,1018.39 707.06,1018.39 707.06,1018.39 700.57,1018.39 700.57,1018.39 694.09,1018.39 694.09,1018.39 687.61,1018.39 687.61,1018.39 681.13,1018.39 681.13,1018.39 674.64,1018.39 674.64,1018.39 668.16,1018.39 668.16,1018.39 661.68,1018.39 661.68,1018.39 655.2,1018.39 655.2,1018.39 648.71,1018.39 648.71,1018.39 642.23,1018.39 642.23,1018.39 635.75,1018.39 635.75,1018.39 629.27,1018.39 629.27,1018.39 622.78,1018.39 622.78,1018.39 616.3,1018.39 616.3,1018.39 616.3,1018.39 Z" fill="#FA6400" fill-opacity="0.1" stroke="none"/>
<path d="M616.3,1007.7 1003.7,1007.7 L1003.7,1008.15 616.3,1008.15 Z" fill="#E02F44" fill-opacity="0.1" stroke="none"/>
<polyline points="616.3,1025.14 616.3,1025.14 616.3,1025.14 622.78,1025.14 622.78,1025.14 629.27,1025.14 629.27,1025.14 635.75,1025.14 635.75,1025.14 642.23,1025.14 642.23,1025.14 648.71,1025.14 648.71,1025.14 655.2,1025.14 655.2,1025.14 661.68,1025.14 661.68,1025.14 668.16,1025.14 668.16,1025.14 674.64,1025.14 674.64,1025.14 681.13,1025.14 681.13,1025.14 687.61,1025.14 687.61,1025.14 694.09,1025.14 694.09,1025.14 700.57,1025.14 700.57,1025.14 707.06,1025.14 707.06,1025.14 713.54,1025.14 713.54,1025.14 720.02,1025.14 720.02,1025.14 726.5,1025.14 726.5,1026.26 732.99,1026.26 732.99,1026.26 739.47,1026.26 739.47,1026.26 745.95,1026.26 745.95,1026.26 752.43,1026.26 752.43,1026.26 758.92,1026.26 758.92,1026.26 765.4,1026.26 765.4,1026.26 771.88,1026.26 771.88,1026.26 778.36,1026.26 778.36,1026.26 784.85,1026.26 784.85,1026.26 791.33,1026.26 791.33,1026.26 797.81,1026.26 797.81,1026.26 804.29,1026.26 804.29,1026.26 810.78,1026.26 810.78,1027.8 817.26,1027.8 817.26,1035.47 823.74,1035.47 823.74,1043.14 830.22,1043.14 830.22,1056.08 836.71,1056.08 836.71,1072.39 843.19,1072.39 843.19,1086.45 849.67,1086.45 849.67,1102.2 856.15,1102.2 856.15,1115.14 862.64,1115.14 862.64,1127.51 869.12,1127.51 869.12,1142.14 875.6,1142.14 875.6,1158.45 882.08,1158.45 882.08,1168.01 888.57,1168.01 888.57,1174.11 895.05,1174.11 895.05,1175.41 901.53,1175.41 901.53,1175.53 908.01,1175.53 908.01,1175.64 914.5,1175.64 914.5,1175.75 920.98,1175.75 920.98,1175.87 927.46,1175.87 927.46,1172.51 933.94,1172.51 933.94,1168.65 940.43,1168.65 940.43,1166.18 946.91,1166.18 946.91,1163.72 953.39,1163.72 953.39,1161.26 959.87,1161.26 959.87,1156.15 966.36,1156.15 966.36,1151.04 972.84,1151.04 972.84,1147.26 979.32,1147.26 979.32,1143.83 985.8,1143.83 985.8,1138.76 992.29,1138.76 992.29,1133.7 998.77,1133.7 998.77,1127.14 1003.7,1127.14 1003.7,1110.08" fill="none" stroke="#cdb95c" stroke-width="1.7" stroke-opacity="1" stroke-linejoin="miter"/>
<polyline points="616.3,1018.39 616.3,1018.39 616.3,1018.39 622.78,1018.39 622.78,1018.39 629.27,1018.39 629.27,1018.39 635.75,1018.39 635.75,1018.39 642.23,1018.39 642.23,1018.39 648.71,1018.39 648.71,1018.39 655.2,1018.39 655.2,1018.39 661.68,1018.39 661.68,1018.39 668.16,1018.39 668.16,1018.39 674.64,1018.39 674.64,1018.39 681.13,1018.39 681.13,1018.39 687.61,1018.39 687.61,1018.39 694.09,1018.39 694.09,1018.39 700.57,1018.39 700.57,1018.39 707.06,1018.39 707.06,1018.39 713.54,1018.39 713.54,1018.39 720.02,1018.39 720.02,1018.39 726.5,1018.39 726.5,1018.39 732.99,1018.39 732.99,1019.51 739.47,1019.51 739.47,1019.51 745.95,1019.51 745.95,1019.51 752.43,1019.51 752.43,1019.51 758.92,1019.51 758.92,1019.51 765.4,1019.51 765.4,1019.51 771.88,1019.51 771.88,1019.51 778.36,1019.51 778.36,1019.51 784.85,1019.51 784.85,1019.51 791.33,1019.51 791.33,1019.51 797.81,1019.51 797.81,1019.51 804.29,1019.51 804.29,1019.51 810.78,1019.51 810.78,1020.02 817.26,1020.02 817.26,1022.58 823.74,1022.58 823.74,1025.14 830.22,1025.14 830.22,1030.2 836.71,1030.2 836.71,1035.26 843.19,1035.26 843.19,1039.76 849.67,1039.76 849.67,1044.26 856.15,1044.26 856.15,1047.08 862.64,1047.08 862.64,1049.89 869.12,1049.89 869.12,1054.95 875.6,1054.95 875.6,1060.01 882.08,1060.01 882.08,1062.2 888.57,1062.2 888.57,1063.95 895.05,1063.95 895.05,1063.95 901.53,1063.95 901.53,1063.95 908.01,1063.95 908.01,1063.68 914.5,1063.68 914.5,1063.01 920.98,1063.01 920.98,1062.34 927.46,1062.34 927.46,1061.67 933.94,1061.67 933.94,1061 940.43,1061 940.43,1060.29 946.91,1060.29 946.91,1059.59 953.39,1059.59 953.39,1058.89 959.87,1058.89 959.87,1057.62 966.36,1057.62 966.36,1056.36 972.84,1056.36 972.84,1055.09 979.32,1055.09 979.32,1053.83 985.8,1053.83 985.8,1051.86 992.29,1051.86 992.29,1049.89 998.77,1049.89 998.77,1044.54 1003.7,1044.54 1003.7,1039.2" fill="none" stroke="#7590bd" stroke-width="1.7" stroke-opacity="1" stroke-linejoin="miter"/>
<polyline points="616.3,1008.15 1003.7,1008.15" fill="none" stroke="#f08a68" stroke-width="1.5" stroke-opacity="1" stroke-linejoin="miter"/>
<polyline points="616.3,1007.7 1003.7,1007.7" fill="none" stroke="#c2464a" stroke-width="1.8" stroke-opacity="1" stroke-linejoin="miter"/>
<rect x="552.1" y="1233.5" width="20.5" height="5" rx="2.5" fill="#56A64B"/>
<text x="586.1" y="1241.6" font-family='"Liberation Sans", sans-serif' font-size="19" fill="#2b2e33" text-anchor="start" font-weight="400" textLength="40.4" lengthAdjust="spacingAndGlyphs">Total</text>
<rect x="642.3" y="1233.5" width="20.5" height="5" rx="2.5" fill="#E0B400"/>
<text x="676.1" y="1241.6" font-family='"Liberation Sans", sans-serif' font-size="19" fill="#2b2e33" text-anchor="start" font-weight="400" textLength="36.9" lengthAdjust="spacingAndGlyphs">Free</text>
<rect x="729.5" y="1233.5" width="20.5" height="5" rx="2.5" fill="#5794F2"/>
<text x="762.7" y="1241.6" font-family='"Liberation Sans", sans-serif' font-size="19" fill="#2b2e33" text-anchor="start" font-weight="400" textLength="33.7" lengthAdjust="spacingAndGlyphs">RSS</text>
<rect x="812.5" y="1233.5" width="20.5" height="5" rx="2.5" fill="#FA6400"/>
<text x="846.2" y="1241.6" font-family='"Liberation Sans", sans-serif' font-size="19" fill="#2b2e33" text-anchor="start" font-weight="400" textLength="65.5" lengthAdjust="spacingAndGlyphs">Cached</text>
<rect x="552.1" y="1268" width="20.5" height="5" rx="2.5" fill="#E02F44"/>
<text x="586.1" y="1276.1" font-family='"Liberation Sans", sans-serif' font-size="19" fill="#2b2e33" text-anchor="start" font-weight="400" textLength="72.5" lengthAdjust="spacingAndGlyphs">Buffered</text>
<rect x="1044" y="912.3" width="496.5" height="399" fill="#ffffff" rx="2" stroke="#e8e8e8" stroke-width="1"/>
<text x="1056.5" y="936" font-family='"Liberation Mono", monospace' font-size="8.8" fill="#000" text-anchor="start" font-weight="700" stroke="#000" stroke-width="0.3" textLength="119" lengthAdjust="spacingAndGlyphs">dev-cluster-worker-5</text>
<line x1="1126.3" y1="1003.2" x2="1515.7" y2="1003.2" stroke="rgba(36,41,46,0.075)" stroke-width="1"/>
<text x="1119.3" y="1008.7" font-family='"Liberation Sans", sans-serif' font-size="19" fill="#2b2e33" text-anchor="end" font-weight="400" >32 GiB</text>
<line x1="1126.3" y1="1048.2" x2="1515.7" y2="1048.2" stroke="rgba(36,41,46,0.075)" stroke-width="1"/>
<text x="1119.3" y="1053.7" font-family='"Liberation Sans", sans-serif' font-size="19" fill="#2b2e33" text-anchor="end" font-weight="400" >24 GiB</text>
<line x1="1126.3" y1="1093.2" x2="1515.7" y2="1093.2" stroke="rgba(36,41,46,0.075)" stroke-width="1"/>
<text x="1119.3" y="1098.7" font-family='"Liberation Sans", sans-serif' font-size="19" fill="#2b2e33" text-anchor="end" font-weight="400" >16 GiB</text>
<line x1="1126.3" y1="1138.2" x2="1515.7" y2="1138.2" stroke="rgba(36,41,46,0.075)" stroke-width="1"/>
<text x="1119.3" y="1143.7" font-family='"Liberation Sans", sans-serif' font-size="19" fill="#2b2e33" text-anchor="end" font-weight="400" >8 GiB</text>
<line x1="1126.3" y1="1183.2" x2="1515.7" y2="1183.2" stroke="rgba(36,41,46,0.075)" stroke-width="1"/>
<text x="1119.3" y="1188.7" font-family='"Liberation Sans", sans-serif' font-size="19" fill="#2b2e33" text-anchor="end" font-weight="400" >0 B</text>
<line x1="1163.9" y1="984.5" x2="1163.9" y2="1185.2" stroke="rgba(36,41,46,0.075)" stroke-width="1"/>
<text x="1163.9" y="1211.3" font-family='"Liberation Sans", sans-serif' font-size="19" fill="#2b2e33" text-anchor="middle" font-weight="400" >16:00</text>
<line x1="1293.55" y1="984.5" x2="1293.55" y2="1185.2" stroke="rgba(36,41,46,0.075)" stroke-width="1"/>
<text x="1293.55" y="1211.3" font-family='"Liberation Sans", sans-serif' font-size="19" fill="#2b2e33" text-anchor="middle" font-weight="400" >16:10</text>
<line x1="1423.2" y1="984.5" x2="1423.2" y2="1185.2" stroke="rgba(36,41,46,0.075)" stroke-width="1"/>
<text x="1423.2" y="1211.3" font-family='"Liberation Sans", sans-serif' font-size="19" fill="#2b2e33" text-anchor="middle" font-weight="400" >16:20</text>
<path d="M1126.3,1007.7 1513.7,1007.7 L1513.7,1183.2 1126.3,1183.2 Z" fill="#56A64B" fill-opacity="0.1" stroke="none"/>
<path d="M1126.3,1038.08 1126.3,1038.08 1126.3,1038.08 1132.78,1038.08 1132.78,1038.08 1139.27,1038.08 1139.27,1038.08 1145.75,1038.08 1145.75,1038.08 1152.23,1038.08 1152.23,1038.08 1158.71,1038.08 1158.71,1038.08 1165.2,1038.08 1165.2,1038.08 1171.68,1038.08 1171.68,1038.08 1178.16,1038.08 1178.16,1038.08 1184.64,1038.08 1184.64,1038.08 1191.13,1038.08 1191.13,1038.08 1197.61,1038.08 1197.61,1038.08 1204.09,1038.08 1204.09,1038.08 1210.57,1038.08 1210.57,1038.08 1217.06,1038.08 1217.06,1038.08 1223.54,1038.08 1223.54,1038.08 1230.02,1038.08 1230.02,1038.08 1236.5,1038.08 1236.5,1038.08 1242.99,1038.08 1242.99,1038.08 1249.47,1038.08 1249.47,1038.08 1255.95,1038.08 1255.95,1038.08 1262.43,1038.08 1262.43,1038.08 1268.92,1038.08 1268.92,1038.08 1275.4,1038.08 1275.4,1038.08 1281.88,1038.08 1281.88,1038.08 1288.36,1038.08 1288.36,1038.08 1294.85,1038.08 1294.85,1038.08 1301.33,1038.08 1301.33,1038.08 1307.81,1038.08 1307.81,1038.08 1314.29,1038.08 1314.29,1038.08 1320.78,1038.08 1320.78,1038.08 1327.26,1038.08 1327.26,1039.84 1333.74,1039.84 1333.74,1044.26 1340.22,1044.26 1340.22,1053.26 1346.71,1053.26 1346.71,1067.33 1353.19,1067.33 1353.19,1080.92 1359.67,1080.92 1359.67,1098.26 1366.15,1098.26 1366.15,1115.14 1372.64,1115.14 1372.64,1128.08 1379.12,1128.08 1379.12,1142.14 1385.6,1142.14 1385.6,1152.26 1392.08,1152.26 1392.08,1158.45 1398.57,1158.45 1398.57,1158.45 1405.05,1158.45 1405.05,1158.45 1411.53,1158.45 1411.53,1157.94 1418.01,1157.94 1418.01,1155.41 1424.5,1155.41 1424.5,1152.64 1430.98,1152.64 1430.98,1148.89 1437.46,1148.89 1437.46,1145.14 1443.94,1145.14 1443.94,1141.79 1450.43,1141.79 1450.43,1140.03 1456.91,1140.03 1456.91,1138.27 1463.39,1138.27 1463.39,1136.51 1469.87,1136.51 1469.87,1129.61 1476.36,1129.61 1476.36,1122.71 1482.84,1122.71 1482.84,1098.26 1489.32,1098.26 1489.32,1079.04 1495.8,1079.04 1495.8,1057.65 1502.29,1057.65 1502.29,1040.33 1508.77,1040.33 1508.77,1040.33 1513.7,1040.33 1513.7,1040.33 L1513.7,1183.2 1126.3,1183.2 Z" fill="#E0B400" fill-opacity="0.1" stroke="none"/>
<path d="M1126.3,1024.01 1126.3,1024.01 1126.3,1024.01 1132.78,1024.01 1132.78,1024.01 1139.27,1024.01 1139.27,1024.01 1145.75,1024.01 1145.75,1024.01 1152.23,1024.01 1152.23,1024.01 1158.71,1024.01 1158.71,1024.01 1165.2,1024.01 1165.2,1024.01 1171.68,1024.01 1171.68,1024.01 1178.16,1024.01 1178.16,1024.01 1184.64,1024.01 1184.64,1024.01 1191.13,1024.01 1191.13,1024.01 1197.61,1024.01 1197.61,1024.01 1204.09,1024.01 1204.09,1024.01 1210.57,1024.01 1210.57,1024.01 1217.06,1024.01 1217.06,1024.01 1223.54,1024.01 1223.54,1024.01 1230.02,1024.01 1230.02,1024.01 1236.5,1024.01 1236.5,1024.01 1242.99,1024.01 1242.99,1024.01 1249.47,1024.01 1249.47,1024.01 1255.95,1024.01 1255.95,1024.01 1262.43,1024.01 1262.43,1024.01 1268.92,1024.01 1268.92,1024.01 1275.4,1024.01 1275.4,1024.01 1281.88,1024.01 1281.88,1024.01 1288.36,1024.01 1288.36,1024.01 1294.85,1024.01 1294.85,1024.01 1301.33,1024.01 1301.33,1024.01 1307.81,1024.01 1307.81,1024.01 1314.29,1024.01 1314.29,1024.01 1320.78,1024.01 1320.78,1024.01 1327.26,1024.01 1327.26,1024.66 1333.74,1024.66 1333.74,1026.26 1340.22,1026.26 1340.22,1029.64 1346.71,1029.64 1346.71,1033.01 1353.19,1033.01 1353.19,1038.08 1359.67,1038.08 1359.67,1043.14 1366.15,1043.14 1366.15,1047.64 1372.64,1047.64 1372.64,1052.14 1379.12,1052.14 1379.12,1055.79 1385.6,1055.79 1385.6,1059.45 1392.08,1059.45 1392.08,1062.26 1398.57,1062.26 1398.57,1062.26 1405.05,1062.26 1405.05,1062.26 1411.53,1062.26 1411.53,1061.87 1418.01,1061.87 1418.01,1059.9 1424.5,1059.9 1424.5,1057.99 1430.98,1057.99 1430.98,1056.3 1437.46,1056.3 1437.46,1054.61 1443.94,1054.61 1443.94,1053.05 1450.43,1053.05 1450.43,1052 1456.91,1052 1456.91,1050.94 1463.39,1050.94 1463.39,1049.89 1469.87,1049.89 1469.87,1046.82 1476.36,1046.82 1476.36,1043.75 1482.84,1043.75 1482.84,1036.95 1489.32,1036.95 1489.32,1032.13 1495.8,1032.13 1495.8,1027.88 1502.29,1027.88 1502.29,1024.01 1508.77,1024.01 1508.77,1024.01 1513.7,1024.01 1513.7,1024.01 L1513.7,1040.33 1513.7,1040.33 1508.77,1040.33 1508.77,1040.33 1502.29,1040.33 1502.29,1057.65 1495.8,1057.65 1495.8,1079.04 1489.32,1079.04 1489.32,1098.26 1482.84,1098.26 1482.84,1122.71 1476.36,1122.71 1476.36,1129.61 1469.87,1129.61 1469.87,1136.51 1463.39,1136.51 1463.39,1138.27 1456.91,1138.27 1456.91,1140.03 1450.43,1140.03 1450.43,1141.79 1443.94,1141.79 1443.94,1145.14 1437.46,1145.14 1437.46,1148.89 1430.98,1148.89 1430.98,1152.64 1424.5,1152.64 1424.5,1155.41 1418.01,1155.41 1418.01,1157.94 1411.53,1157.94 1411.53,1158.45 1405.05,1158.45 1405.05,1158.45 1398.57,1158.45 1398.57,1158.45 1392.08,1158.45 1392.08,1152.26 1385.6,1152.26 1385.6,1142.14 1379.12,1142.14 1379.12,1128.08 1372.64,1128.08 1372.64,1115.14 1366.15,1115.14 1366.15,1098.26 1359.67,1098.26 1359.67,1080.92 1353.19,1080.92 1353.19,1067.33 1346.71,1067.33 1346.71,1053.26 1340.22,1053.26 1340.22,1044.26 1333.74,1044.26 1333.74,1039.84 1327.26,1039.84 1327.26,1038.08 1320.78,1038.08 1320.78,1038.08 1314.29,1038.08 1314.29,1038.08 1307.81,1038.08 1307.81,1038.08 1301.33,1038.08 1301.33,1038.08 1294.85,1038.08 1294.85,1038.08 1288.36,1038.08 1288.36,1038.08 1281.88,1038.08 1281.88,1038.08 1275.4,1038.08 1275.4,1038.08 1268.92,1038.08 1268.92,1038.08 1262.43,1038.08 1262.43,1038.08 1255.95,1038.08 1255.95,1038.08 1249.47,1038.08 1249.47,1038.08 1242.99,1038.08 1242.99,1038.08 1236.5,1038.08 1236.5,1038.08 1230.02,1038.08 1230.02,1038.08 1223.54,1038.08 1223.54,1038.08 1217.06,1038.08 1217.06,1038.08 1210.57,1038.08 1210.57,1038.08 1204.09,1038.08 1204.09,1038.08 1197.61,1038.08 1197.61,1038.08 1191.13,1038.08 1191.13,1038.08 1184.64,1038.08 1184.64,1038.08 1178.16,1038.08 1178.16,1038.08 1171.68,1038.08 1171.68,1038.08 1165.2,1038.08 1165.2,1038.08 1158.71,1038.08 1158.71,1038.08 1152.23,1038.08 1152.23,1038.08 1145.75,1038.08 1145.75,1038.08 1139.27,1038.08 1139.27,1038.08 1132.78,1038.08 1132.78,1038.08 1126.3,1038.08 1126.3,1038.08 1126.3,1038.08 Z" fill="#5794F2" fill-opacity="0.1" stroke="none"/>
<path d="M1126.3,1008.15 1513.7,1008.15 L1513.7,1024.01 1513.7,1024.01 1508.77,1024.01 1508.77,1024.01 1502.29,1024.01 1502.29,1027.88 1495.8,1027.88 1495.8,1032.13 1489.32,1032.13 1489.32,1036.95 1482.84,1036.95 1482.84,1043.75 1476.36,1043.75 1476.36,1046.82 1469.87,1046.82 1469.87,1049.89 1463.39,1049.89 1463.39,1050.94 1456.91,1050.94 1456.91,1052 1450.43,1052 1450.43,1053.05 1443.94,1053.05 1443.94,1054.61 1437.46,1054.61 1437.46,1056.3 1430.98,1056.3 1430.98,1057.99 1424.5,1057.99 1424.5,1059.9 1418.01,1059.9 1418.01,1061.87 1411.53,1061.87 1411.53,1062.26 1405.05,1062.26 1405.05,1062.26 1398.57,1062.26 1398.57,1062.26 1392.08,1062.26 1392.08,1059.45 1385.6,1059.45 1385.6,1055.79 1379.12,1055.79 1379.12,1052.14 1372.64,1052.14 1372.64,1047.64 1366.15,1047.64 1366.15,1043.14 1359.67,1043.14 1359.67,1038.08 1353.19,1038.08 1353.19,1033.01 1346.71,1033.01 1346.71,1029.64 1340.22,1029.64 1340.22,1026.26 1333.74,1026.26 1333.74,1024.66 1327.26,1024.66 1327.26,1024.01 1320.78,1024.01 1320.78,1024.01 1314.29,1024.01 1314.29,1024.01 1307.81,1024.01 1307.81,1024.01 1301.33,1024.01 1301.33,1024.01 1294.85,1024.01 1294.85,1024.01 1288.36,1024.01 1288.36,1024.01 1281.88,1024.01 1281.88,1024.01 1275.4,1024.01 1275.4,1024.01 1268.92,1024.01 1268.92,1024.01 1262.43,1024.01 1262.43,1024.01 1255.95,1024.01 1255.95,1024.01 1249.47,1024.01 1249.47,1024.01 1242.99,1024.01 1242.99,1024.01 1236.5,1024.01 1236.5,1024.01 1230.02,1024.01 1230.02,1024.01 1223.54,1024.01 1223.54,1024.01 1217.06,1024.01 1217.06,1024.01 1210.57,1024.01 1210.57,1024.01 1204.09,1024.01 1204.09,1024.01 1197.61,1024.01 1197.61,1024.01 1191.13,1024.01 1191.13,1024.01 1184.64,1024.01 1184.64,1024.01 1178.16,1024.01 1178.16,1024.01 1171.68,1024.01 1171.68,1024.01 1165.2,1024.01 1165.2,1024.01 1158.71,1024.01 1158.71,1024.01 1152.23,1024.01 1152.23,1024.01 1145.75,1024.01 1145.75,1024.01 1139.27,1024.01 1139.27,1024.01 1132.78,1024.01 1132.78,1024.01 1126.3,1024.01 1126.3,1024.01 1126.3,1024.01 Z" fill="#FA6400" fill-opacity="0.1" stroke="none"/>
<path d="M1126.3,1007.7 1513.7,1007.7 L1513.7,1008.15 1126.3,1008.15 Z" fill="#E02F44" fill-opacity="0.1" stroke="none"/>
<polyline points="1126.3,1038.08 1126.3,1038.08 1126.3,1038.08 1132.78,1038.08 1132.78,1038.08 1139.27,1038.08 1139.27,1038.08 1145.75,1038.08 1145.75,1038.08 1152.23,1038.08 1152.23,1038.08 1158.71,1038.08 1158.71,1038.08 1165.2,1038.08 1165.2,1038.08 1171.68,1038.08 1171.68,1038.08 1178.16,1038.08 1178.16,1038.08 1184.64,1038.08 1184.64,1038.08 1191.13,1038.08 1191.13,1038.08 1197.61,1038.08 1197.61,1038.08 1204.09,1038.08 1204.09,1038.08 1210.57,1038.08 1210.57,1038.08 1217.06,1038.08 1217.06,1038.08 1223.54,1038.08 1223.54,1038.08 1230.02,1038.08 1230.02,1038.08 1236.5,1038.08 1236.5,1038.08 1242.99,1038.08 1242.99,1038.08 1249.47,1038.08 1249.47,1038.08 1255.95,1038.08 1255.95,1038.08 1262.43,1038.08 1262.43,1038.08 1268.92,1038.08 1268.92,1038.08 1275.4,1038.08 1275.4,1038.08 1281.88,1038.08 1281.88,1038.08 1288.36,1038.08 1288.36,1038.08 1294.85,1038.08 1294.85,1038.08 1301.33,1038.08 1301.33,1038.08 1307.81,1038.08 1307.81,1038.08 1314.29,1038.08 1314.29,1038.08 1320.78,1038.08 1320.78,1038.08 1327.26,1038.08 1327.26,1039.84 1333.74,1039.84 1333.74,1044.26 1340.22,1044.26 1340.22,1053.26 1346.71,1053.26 1346.71,1067.33 1353.19,1067.33 1353.19,1080.92 1359.67,1080.92 1359.67,1098.26 1366.15,1098.26 1366.15,1115.14 1372.64,1115.14 1372.64,1128.08 1379.12,1128.08 1379.12,1142.14 1385.6,1142.14 1385.6,1152.26 1392.08,1152.26 1392.08,1158.45 1398.57,1158.45 1398.57,1158.45 1405.05,1158.45 1405.05,1158.45 1411.53,1158.45 1411.53,1157.94 1418.01,1157.94 1418.01,1155.41 1424.5,1155.41 1424.5,1152.64 1430.98,1152.64 1430.98,1148.89 1437.46,1148.89 1437.46,1145.14 1443.94,1145.14 1443.94,1141.79 1450.43,1141.79 1450.43,1140.03 1456.91,1140.03 1456.91,1138.27 1463.39,1138.27 1463.39,1136.51 1469.87,1136.51 1469.87,1129.61 1476.36,1129.61 1476.36,1122.71 1482.84,1122.71 1482.84,1098.26 1489.32,1098.26 1489.32,1079.04 1495.8,1079.04 1495.8,1057.65 1502.29,1057.65 1502.29,1040.33 1508.77,1040.33 1508.77,1040.33 1513.7,1040.33 1513.7,1040.33" fill="none" stroke="#cdb95c" stroke-width="1.7" stroke-opacity="1" stroke-linejoin="miter"/>
<polyline points="1126.3,1024.01 1126.3,1024.01 1126.3,1024.01 1132.78,1024.01 1132.78,1024.01 1139.27,1024.01 1139.27,1024.01 1145.75,1024.01 1145.75,1024.01 1152.23,1024.01 1152.23,1024.01 1158.71,1024.01 1158.71,1024.01 1165.2,1024.01 1165.2,1024.01 1171.68,1024.01 1171.68,1024.01 1178.16,1024.01 1178.16,1024.01 1184.64,1024.01 1184.64,1024.01 1191.13,1024.01 1191.13,1024.01 1197.61,1024.01 1197.61,1024.01 1204.09,1024.01 1204.09,1024.01 1210.57,1024.01 1210.57,1024.01 1217.06,1024.01 1217.06,1024.01 1223.54,1024.01 1223.54,1024.01 1230.02,1024.01 1230.02,1024.01 1236.5,1024.01 1236.5,1024.01 1242.99,1024.01 1242.99,1024.01 1249.47,1024.01 1249.47,1024.01 1255.95,1024.01 1255.95,1024.01 1262.43,1024.01 1262.43,1024.01 1268.92,1024.01 1268.92,1024.01 1275.4,1024.01 1275.4,1024.01 1281.88,1024.01 1281.88,1024.01 1288.36,1024.01 1288.36,1024.01 1294.85,1024.01 1294.85,1024.01 1301.33,1024.01 1301.33,1024.01 1307.81,1024.01 1307.81,1024.01 1314.29,1024.01 1314.29,1024.01 1320.78,1024.01 1320.78,1024.01 1327.26,1024.01 1327.26,1024.66 1333.74,1024.66 1333.74,1026.26 1340.22,1026.26 1340.22,1029.64 1346.71,1029.64 1346.71,1033.01 1353.19,1033.01 1353.19,1038.08 1359.67,1038.08 1359.67,1043.14 1366.15,1043.14 1366.15,1047.64 1372.64,1047.64 1372.64,1052.14 1379.12,1052.14 1379.12,1055.79 1385.6,1055.79 1385.6,1059.45 1392.08,1059.45 1392.08,1062.26 1398.57,1062.26 1398.57,1062.26 1405.05,1062.26 1405.05,1062.26 1411.53,1062.26 1411.53,1061.87 1418.01,1061.87 1418.01,1059.9 1424.5,1059.9 1424.5,1057.99 1430.98,1057.99 1430.98,1056.3 1437.46,1056.3 1437.46,1054.61 1443.94,1054.61 1443.94,1053.05 1450.43,1053.05 1450.43,1052 1456.91,1052 1456.91,1050.94 1463.39,1050.94 1463.39,1049.89 1469.87,1049.89 1469.87,1046.82 1476.36,1046.82 1476.36,1043.75 1482.84,1043.75 1482.84,1036.95 1489.32,1036.95 1489.32,1032.13 1495.8,1032.13 1495.8,1027.88 1502.29,1027.88 1502.29,1024.01 1508.77,1024.01 1508.77,1024.01 1513.7,1024.01 1513.7,1024.01" fill="none" stroke="#7590bd" stroke-width="1.7" stroke-opacity="1" stroke-linejoin="miter"/>
<polyline points="1126.3,1008.15 1513.7,1008.15" fill="none" stroke="#f08a68" stroke-width="1.5" stroke-opacity="1" stroke-linejoin="miter"/>
<polyline points="1126.3,1007.7 1513.7,1007.7" fill="none" stroke="#c2464a" stroke-width="1.8" stroke-opacity="1" stroke-linejoin="miter"/>
<rect x="1062.1" y="1233.5" width="20.5" height="5" rx="2.5" fill="#56A64B"/>
<text x="1096.1" y="1241.6" font-family='"Liberation Sans", sans-serif' font-size="19" fill="#2b2e33" text-anchor="start" font-weight="400" textLength="40.4" lengthAdjust="spacingAndGlyphs">Total</text>
<rect x="1152.3" y="1233.5" width="20.5" height="5" rx="2.5" fill="#E0B400"/>
<text x="1186.1" y="1241.6" font-family='"Liberation Sans", sans-serif' font-size="19" fill="#2b2e33" text-anchor="start" font-weight="400" textLength="36.9" lengthAdjust="spacingAndGlyphs">Free</text>
<rect x="1239.5" y="1233.5" width="20.5" height="5" rx="2.5" fill="#5794F2"/>
<text x="1272.7" y="1241.6" font-family='"Liberation Sans", sans-serif' font-size="19" fill="#2b2e33" text-anchor="start" font-weight="400" textLength="33.7" lengthAdjust="spacingAndGlyphs">RSS</text>
<rect x="1322.5" y="1233.5" width="20.5" height="5" rx="2.5" fill="#FA6400"/>
<text x="1356.2" y="1241.6" font-family='"Liberation Sans", sans-serif' font-size="19" fill="#2b2e33" text-anchor="start" font-weight="400" textLength="65.5" lengthAdjust="spacingAndGlyphs">Cached</text>
<rect x="1062.1" y="1268" width="20.5" height="5" rx="2.5" fill="#E02F44"/>
<text x="1096.1" y="1276.1" font-family='"Liberation Sans", sans-serif' font-size="19" fill="#2b2e33" text-anchor="start" font-weight="400" textLength="72.5" lengthAdjust="spacingAndGlyphs">Buffered</text>
<rect x="1554" y="912.3" width="496.5" height="399" fill="#ffffff" rx="2" stroke="#e8e8e8" stroke-width="1"/>
<text x="1566.5" y="936" font-family='"Liberation Mono", monospace' font-size="8.8" fill="#000" text-anchor="start" font-weight="700" stroke="#000" stroke-width="0.3" textLength="119" lengthAdjust="spacingAndGlyphs">dev-cluster-worker-6</text>
<line x1="1636.3" y1="1003.2" x2="2025.7" y2="1003.2" stroke="rgba(36,41,46,0.075)" stroke-width="1"/>
<text x="1629.3" y="1008.7" font-family='"Liberation Sans", sans-serif' font-size="19" fill="#2b2e33" text-anchor="end" font-weight="400" >32 GiB</text>
<line x1="1636.3" y1="1048.2" x2="2025.7" y2="1048.2" stroke="rgba(36,41,46,0.075)" stroke-width="1"/>
<text x="1629.3" y="1053.7" font-family='"Liberation Sans", sans-serif' font-size="19" fill="#2b2e33" text-anchor="end" font-weight="400" >24 GiB</text>
<line x1="1636.3" y1="1093.2" x2="2025.7" y2="1093.2" stroke="rgba(36,41,46,0.075)" stroke-width="1"/>
<text x="1629.3" y="1098.7" font-family='"Liberation Sans", sans-serif' font-size="19" fill="#2b2e33" text-anchor="end" font-weight="400" >16 GiB</text>
<line x1="1636.3" y1="1138.2" x2="2025.7" y2="1138.2" stroke="rgba(36,41,46,0.075)" stroke-width="1"/>
<text x="1629.3" y="1143.7" font-family='"Liberation Sans", sans-serif' font-size="19" fill="#2b2e33" text-anchor="end" font-weight="400" >8 GiB</text>
<line x1="1636.3" y1="1183.2" x2="2025.7" y2="1183.2" stroke="rgba(36,41,46,0.075)" stroke-width="1"/>
<text x="1629.3" y="1188.7" font-family='"Liberation Sans", sans-serif' font-size="19" fill="#2b2e33" text-anchor="end" font-weight="400" >0 B</text>
<line x1="1673.9" y1="984.5" x2="1673.9" y2="1185.2" stroke="rgba(36,41,46,0.075)" stroke-width="1"/>
<text x="1673.9" y="1211.3" font-family='"Liberation Sans", sans-serif' font-size="19" fill="#2b2e33" text-anchor="middle" font-weight="400" >16:00</text>
<line x1="1803.55" y1="984.5" x2="1803.55" y2="1185.2" stroke="rgba(36,41,46,0.075)" stroke-width="1"/>
<text x="1803.55" y="1211.3" font-family='"Liberation Sans", sans-serif' font-size="19" fill="#2b2e33" text-anchor="middle" font-weight="400" >16:10</text>
<line x1="1933.2" y1="984.5" x2="1933.2" y2="1185.2" stroke="rgba(36,41,46,0.075)" stroke-width="1"/>
<text x="1933.2" y="1211.3" font-family='"Liberation Sans", sans-serif' font-size="19" fill="#2b2e33" text-anchor="middle" font-weight="400" >16:20</text>
<path d="M1636.3,1007.7 2023.7,1007.7 L2023.7,1183.2 1636.3,1183.2 Z" fill="#56A64B" fill-opacity="0.1" stroke="none"/>
<path d="M1636.3,1027.39 1636.3,1027.39 1636.3,1027.39 1642.78,1027.39 1642.78,1027.39 1649.27,1027.39 1649.27,1027.39 1655.75,1027.39 1655.75,1027.39 1662.23,1027.39 1662.23,1027.39 1668.71,1027.39 1668.71,1027.39 1675.2,1027.39 1675.2,1027.39 1681.68,1027.39 1681.68,1027.39 1688.16,1027.39 1688.16,1027.39 1694.64,1027.39 1694.64,1027.39 1701.13,1027.39 1701.13,1027.39 1707.61,1027.39 1707.61,1027.39 1714.09,1027.39 1714.09,1027.39 1720.57,1027.39 1720.57,1027.39 1727.06,1027.39 1727.06,1027.39 1733.54,1027.39 1733.54,1027.39 1740.02,1027.39 1740.02,1027.39 1746.5,1027.39 1746.5,1027.39 1752.99,1027.39 1752.99,1027.39 1759.47,1027.39 1759.47,1027.39 1765.95,1027.39 1765.95,1027.39 1772.43,1027.39 1772.43,1028.51 1778.92,1028.51 1778.92,1028.51 1785.4,1028.51 1785.4,1028.51 1791.88,1028.51 1791.88,1028.51 1798.36,1028.51 1798.36,1028.51 1804.85,1028.51 1804.85,1028.51 1811.33,1028.51 1811.33,1028.51 1817.81,1028.51 1817.81,1028.51 1824.29,1028.51 1824.29,1028.51 1830.78,1028.51 1830.78,1028.51 1837.26,1028.51 1837.26,1031.24 1843.74,1031.24 1843.74,1038.08 1850.22,1038.08 1850.22,1048.76 1856.71,1048.76 1856.71,1063.39 1863.19,1063.39 1863.19,1076.51 1869.67,1076.51 1869.67,1094.33 1876.15,1094.33 1876.15,1107.26 1882.64,1107.26 1882.64,1123.01 1889.12,1123.01 1889.12,1134.26 1895.6,1134.26 1895.6,1149.45 1902.08,1149.45 1902.08,1163.51 1908.57,1163.51 1908.57,1169.14 1915.05,1169.14 1915.05,1174.76 1921.53,1174.76 1921.53,1173.19 1928.01,1173.19 1928.01,1171.39 1934.5,1171.39 1934.5,1170 1940.98,1170 1940.98,1168.69 1947.46,1168.69 1947.46,1167.38 1953.94,1167.38 1953.94,1165.8 1960.43,1165.8 1960.43,1163.16 1966.91,1163.16 1966.91,1160.52 1973.39,1160.52 1973.39,1157.89 1979.87,1157.89 1979.87,1155.26 1986.36,1155.26 1986.36,1152.64 1992.84,1152.64 1992.84,1150.01 1999.32,1150.01 1999.32,1146.43 2005.8,1146.43 2005.8,1142.85 2012.29,1142.85 2012.29,1133.14 2018.77,1133.14 2018.77,1122.36 2023.7,1122.36 2023.7,1107.83 L2023.7,1183.2 1636.3,1183.2 Z" fill="#E0B400" fill-opacity="0.1" stroke="none"/>
<path d="M1636.3,1020.08 1636.3,1020.08 1636.3,1020.08 1642.78,1020.08 1642.78,1020.08 1649.27,1020.08 1649.27,1020.08 1655.75,1020.08 1655.75,1020.08 1662.23,1020.08 1662.23,1020.08 1668.71,1020.08 1668.71,1020.08 1675.2,1020.08 1675.2,1020.08 1681.68,1020.08 1681.68,1020.08 1688.16,1020.08 1688.16,1020.08 1694.64,1020.08 1694.64,1021.2 1701.13,1021.2 1701.13,1021.2 1707.61,1021.2 1707.61,1021.2 1714.09,1021.2 1714.09,1021.2 1720.57,1021.2 1720.57,1021.2 1727.06,1021.2 1727.06,1021.2 1733.54,1021.2 1733.54,1021.2 1740.02,1021.2 1740.02,1021.2 1746.5,1021.2 1746.5,1021.2 1752.99,1021.2 1752.99,1021.2 1759.47,1021.2 1759.47,1021.2 1765.95,1021.2 1765.95,1021.2 1772.43,1021.2 1772.43,1021.2 1778.92,1021.2 1778.92,1021.2 1785.4,1021.2 1785.4,1021.2 1791.88,1021.2 1791.88,1021.2 1798.36,1021.2 1798.36,1021.2 1804.85,1021.2 1804.85,1021.2 1811.33,1021.2 1811.33,1021.2 1817.81,1021.2 1817.81,1021.2 1824.29,1021.2 1824.29,1021.2 1830.78,1021.2 1830.78,1021.2 1837.26,1021.2 1837.26,1022 1843.74,1022 1843.74,1024.01 1850.22,1024.01 1850.22,1027.95 1856.71,1027.95 1856.71,1031.89 1863.19,1031.89 1863.19,1036.95 1869.67,1036.95 1869.67,1042.01 1876.15,1042.01 1876.15,1045.95 1882.64,1045.95 1882.64,1049.89 1889.12,1049.89 1889.12,1054.67 1895.6,1054.67 1895.6,1059.45 1902.08,1059.45 1902.08,1065.08 1908.57,1065.08 1908.57,1065.08 1915.05,1065.08 1915.05,1065.08 1921.53,1065.08 1921.53,1064.68 1928.01,1064.68 1928.01,1062.71 1934.5,1062.71 1934.5,1061.06 1940.98,1061.06 1940.98,1060.7 1947.46,1060.7 1947.46,1060.34 1953.94,1060.34 1953.94,1059.98 1960.43,1059.98 1960.43,1059.61 1966.91,1059.61 1966.91,1059.25 1973.39,1059.25 1973.39,1058.89 1979.87,1058.89 1979.87,1057.9 1986.36,1057.9 1986.36,1056.92 1992.84,1056.92 1992.84,1055.93 1999.32,1055.93 1999.32,1054.95 2005.8,1054.95 2005.8,1053.54 2012.29,1053.54 2012.29,1052.14 2018.77,1052.14 2018.77,1047.64 2023.7,1047.64 2023.7,1043.14 L2023.7,1107.83 2023.7,1122.36 2018.77,1122.36 2018.77,1133.14 2012.29,1133.14 2012.29,1142.85 2005.8,1142.85 2005.8,1146.43 1999.32,1146.43 1999.32,1150.01 1992.84,1150.01 1992.84,1152.64 1986.36,1152.64 1986.36,1155.26 1979.87,1155.26 1979.87,1157.89 1973.39,1157.89 1973.39,1160.52 1966.91,1160.52 1966.91,1163.16 1960.43,1163.16 1960.43,1165.8 1953.94,1165.8 1953.94,1167.38 1947.46,1167.38 1947.46,1168.69 1940.98,1168.69 1940.98,1170 1934.5,1170 1934.5,1171.39 1928.01,1171.39 1928.01,1173.19 1921.53,1173.19 1921.53,1174.76 1915.05,1174.76 1915.05,1169.14 1908.57,1169.14 1908.57,1163.51 1902.08,1163.51 1902.08,1149.45 1895.6,1149.45 1895.6,1134.26 1889.12,1134.26 1889.12,1123.01 1882.64,1123.01 1882.64,1107.26 1876.15,1107.26 1876.15,1094.33 1869.67,1094.33 1869.67,1076.51 1863.19,1076.51 1863.19,1063.39 1856.71,1063.39 1856.71,1048.76 1850.22,1048.76 1850.22,1038.08 1843.74,1038.08 1843.74,1031.24 1837.26,1031.24 1837.26,1028.51 1830.78,1028.51 1830.78,1028.51 1824.29,1028.51 1824.29,1028.51 1817.81,1028.51 1817.81,1028.51 1811.33,1028.51 1811.33,1028.51 1804.85,1028.51 1804.85,1028.51 1798.36,1028.51 1798.36,1028.51 1791.88,1028.51 1791.88,1028.51 1785.4,1028.51 1785.4,1028.51 1778.92,1028.51 1778.92,1028.51 1772.43,1028.51 1772.43,1027.39 1765.95,1027.39 1765.95,1027.39 1759.47,1027.39 1759.47,1027.39 1752.99,1027.39 1752.99,1027.39 1746.5,1027.39 1746.5,1027.39 1740.02,1027.39 1740.02,1027.39 1733.54,1027.39 1733.54,1027.39 1727.06,1027.39 1727.06,1027.39 1720.57,1027.39 1720.57,1027.39 1714.09,1027.39 1714.09,1027.39 1707.61,1027.39 1707.61,1027.39 1701.13,1027.39 1701.13,1027.39 1694.64,1027.39 1694.64,1027.39 1688.16,1027.39 1688.16,1027.39 1681.68,1027.39 1681.68,1027.39 1675.2,1027.39 1675.2,1027.39 1668.71,1027.39 1668.71,1027.39 1662.23,1027.39 1662.23,1027.39 1655.75,1027.39 1655.75,1027.39 1649.27,1027.39 1649.27,1027.39 1642.78,1027.39 1642.78,1027.39 1636.3,1027.39 1636.3,1027.39 1636.3,1027.39 Z" fill="#5794F2" fill-opacity="0.1" stroke="none"/>
<path d="M1636.3,1008.15 2023.7,1008.15 L2023.7,1043.14 2023.7,1047.64 2018.77,1047.64 2018.77,1052.14 2012.29,1052.14 2012.29,1053.54 2005.8,1053.54 2005.8,1054.95 1999.32,1054.95 1999.32,1055.93 1992.84,1055.93 1992.84,1056.92 1986.36,1056.92 1986.36,1057.9 1979.87,1057.9 1979.87,1058.89 1973.39,1058.89 1973.39,1059.25 1966.91,1059.25 1966.91,1059.61 1960.43,1059.61 1960.43,1059.98 1953.94,1059.98 1953.94,1060.34 1947.46,1060.34 1947.46,1060.7 1940.98,1060.7 1940.98,1061.06 1934.5,1061.06 1934.5,1062.71 1928.01,1062.71 1928.01,1064.68 1921.53,1064.68 1921.53,1065.08 1915.05,1065.08 1915.05,1065.08 1908.57,1065.08 1908.57,1065.08 1902.08,1065.08 1902.08,1059.45 1895.6,1059.45 1895.6,1054.67 1889.12,1054.67 1889.12,1049.89 1882.64,1049.89 1882.64,1045.95 1876.15,1045.95 1876.15,1042.01 1869.67,1042.01 1869.67,1036.95 1863.19,1036.95 1863.19,1031.89 1856.71,1031.89 1856.71,1027.95 1850.22,1027.95 1850.22,1024.01 1843.74,1024.01 1843.74,1022 1837.26,1022 1837.26,1021.2 1830.78,1021.2 1830.78,1021.2 1824.29,1021.2 1824.29,1021.2 1817.81,1021.2 1817.81,1021.2 1811.33,1021.2 1811.33,1021.2 1804.85,1021.2 1804.85,1021.2 1798.36,1021.2 1798.36,1021.2 1791.88,1021.2 1791.88,1021.2 1785.4,1021.2 1785.4,1021.2 1778.92,1021.2 1778.92,1021.2 1772.43,1021.2 1772.43,1021.2 1765.95,1021.2 1765.95,1021.2 1759.47,1021.2 1759.47,1021.2 1752.99,1021.2 1752.99,1021.2 1746.5,1021.2 1746.5,1021.2 1740.02,1021.2 1740.02,1021.2 1733.54,1021.2 1733.54,1021.2 1727.06,1021.2 1727.06,1021.2 1720.57,1021.2 1720.57,1021.2 1714.09,1021.2 1714.09,1021.2 1707.61,1021.2 1707.61,1021.2 1701.13,1021.2 1701.13,1021.2 1694.64,1021.2 1694.64,1020.08 1688.16,1020.08 1688.16,1020.08 1681.68,1020.08 1681.68,1020.08 1675.2,1020.08 1675.2,1020.08 1668.71,1020.08 1668.71,1020.08 1662.23,1020.08 1662.23,1020.08 1655.75,1020.08 1655.75,1020.08 1649.27,1020.08 1649.27,1020.08 1642.78,1020.08 1642.78,1020.08 1636.3,1020.08 1636.3,1020.08 1636.3,1020.08 Z" fill="#FA6400" fill-opacity="0.1" stroke="none"/>
<path d="M1636.3,1007.7 2023.7,1007.7 L2023.7,1008.15 1636.3,1008.15 Z" fill="#E02F44" fill-opacity="0.1" stroke="none"/>
<polyline points="1636.3,1027.39 1636.3,1027.39 1636.3,1027.39 1642.78,1027.39 1642.78,1027.39 1649.27,1027.39 1649.27,1027.39 1655.75,1027.39 1655.75,1027.39 1662.23,1027.39 1662.23,1027.39 1668.71,1027.39 1668.71,1027.39 1675.2,1027.39 1675.2,1027.39 1681.68,1027.39 1681.68,1027.39 1688.16,1027.39 1688.16,1027.39 1694.64,1027.39 1694.64,1027.39 1701.13,1027.39 1701.13,1027.39 1707.61,1027.39 1707.61,1027.39 1714.09,1027.39 1714.09,1027.39 1720.57,1027.39 1720.57,1027.39 1727.06,1027.39 1727.06,1027.39 1733.54,1027.39 1733.54,1027.39 1740.02,1027.39 1740.02,1027.39 1746.5,1027.39 1746.5,1027.39 1752.99,1027.39 1752.99,1027.39 1759.47,1027.39 1759.47,1027.39 1765.95,1027.39 1765.95,1027.39 1772.43,1027.39 1772.43,1028.51 1778.92,1028.51 1778.92,1028.51 1785.4,1028.51 1785.4,1028.51 1791.88,1028.51 1791.88,1028.51 1798.36,1028.51 1798.36,1028.51 1804.85,1028.51 1804.85,1028.51 1811.33,1028.51 1811.33,1028.51 1817.81,1028.51 1817.81,1028.51 1824.29,1028.51 1824.29,1028.51 1830.78,1028.51 1830.78,1028.51 1837.26,1028.51 1837.26,1031.24 1843.74,1031.24 1843.74,1038.08 1850.22,1038.08 1850.22,1048.76 1856.71,1048.76 1856.71,1063.39 1863.19,1063.39 1863.19,1076.51 1869.67,1076.51 1869.67,1094.33 1876.15,1094.33 1876.15,1107.26 1882.64,1107.26 1882.64,1123.01 1889.12,1123.01 1889.12,1134.26 1895.6,1134.26 1895.6,1149.45 1902.08,1149.45 1902.08,1163.51 1908.57,1163.51 1908.57,1169.14 1915.05,1169.14 1915.05,1174.76 1921.53,1174.76 1921.53,1173.19 1928.01,1173.19 1928.01,1171.39 1934.5,1171.39 1934.5,1170 1940.98,1170 1940.98,1168.69 1947.46,1168.69 1947.46,1167.38 1953.94,1167.38 1953.94,1165.8 1960.43,1165.8 1960.43,1163.16 1966.91,1163.16 1966.91,1160.52 1973.39,1160.52 1973.39,1157.89 1979.87,1157.89 1979.87,1155.26 1986.36,1155.26 1986.36,1152.64 1992.84,1152.64 1992.84,1150.01 1999.32,1150.01 1999.32,1146.43 2005.8,1146.43 2005.8,1142.85 2012.29,1142.85 2012.29,1133.14 2018.77,1133.14 2018.77,1122.36 2023.7,1122.36 2023.7,1107.83" fill="none" stroke="#cdb95c" stroke-width="1.7" stroke-opacity="1" stroke-linejoin="miter"/>
<polyline points="1636.3,1020.08 1636.3,1020.08 1636.3,1020.08 1642.78,1020.08 1642.78,1020.08 1649.27,1020.08 1649.27,1020.08 1655.75,1020.08 1655.75,1020.08 1662.23,1020.08 1662.23,1020.08 1668.71,1020.08 1668.71,1020.08 1675.2,1020.08 1675.2,1020.08 1681.68,1020.08 1681.68,1020.08 1688.16,1020.08 1688.16,1020.08 1694.64,1020.08 1694.64,1021.2 1701.13,1021.2 1701.13,1021.2 1707.61,1021.2 1707.61,1021.2 1714.09,1021.2 1714.09,1021.2 1720.57,1021.2 1720.57,1021.2 1727.06,1021.2 1727.06,1021.2 1733.54,1021.2 1733.54,1021.2 1740.02,1021.2 1740.02,1021.2 1746.5,1021.2 1746.5,1021.2 1752.99,1021.2 1752.99,1021.2 1759.47,1021.2 1759.47,1021.2 1765.95,1021.2 1765.95,1021.2 1772.43,1021.2 1772.43,1021.2 1778.92,1021.2 1778.92,1021.2 1785.4,1021.2 1785.4,1021.2 1791.88,1021.2 1791.88,1021.2 1798.36,1021.2 1798.36,1021.2 1804.85,1021.2 1804.85,1021.2 1811.33,1021.2 1811.33,1021.2 1817.81,1021.2 1817.81,1021.2 1824.29,1021.2 1824.29,1021.2 1830.78,1021.2 1830.78,1021.2 1837.26,1021.2 1837.26,1022 1843.74,1022 1843.74,1024.01 1850.22,1024.01 1850.22,1027.95 1856.71,1027.95 1856.71,1031.89 1863.19,1031.89 1863.19,1036.95 1869.67,1036.95 1869.67,1042.01 1876.15,1042.01 1876.15,1045.95 1882.64,1045.95 1882.64,1049.89 1889.12,1049.89 1889.12,1054.67 1895.6,1054.67 1895.6,1059.45 1902.08,1059.45 1902.08,1065.08 1908.57,1065.08 1908.57,1065.08 1915.05,1065.08 1915.05,1065.08 1921.53,1065.08 1921.53,1064.68 1928.01,1064.68 1928.01,1062.71 1934.5,1062.71 1934.5,1061.06 1940.98,1061.06 1940.98,1060.7 1947.46,1060.7 1947.46,1060.34 1953.94,1060.34 1953.94,1059.98 1960.43,1059.98 1960.43,1059.61 1966.91,1059.61 1966.91,1059.25 1973.39,1059.25 1973.39,1058.89 1979.87,1058.89 1979.87,1057.9 1986.36,1057.9 1986.36,1056.92 1992.84,1056.92 1992.84,1055.93 1999.32,1055.93 1999.32,1054.95 2005.8,1054.95 2005.8,1053.54 2012.29,1053.54 2012.29,1052.14 2018.77,1052.14 2018.77,1047.64 2023.7,1047.64 2023.7,1043.14" fill="none" stroke="#7590bd" stroke-width="1.7" stroke-opacity="1" stroke-linejoin="miter"/>
<polyline points="1636.3,1008.15 2023.7,1008.15" fill="none" stroke="#f08a68" stroke-width="1.5" stroke-opacity="1" stroke-linejoin="miter"/>
<polyline points="1636.3,1007.7 2023.7,1007.7" fill="none" stroke="#c2464a" stroke-width="1.8" stroke-opacity="1" stroke-linejoin="miter"/>
<rect x="1572.1" y="1233.5" width="20.5" height="5" rx="2.5" fill="#56A64B"/>
<text x="1606.1" y="1241.6" font-family='"Liberation Sans", sans-serif' font-size="19" fill="#2b2e33" text-anchor="start" font-weight="400" textLength="40.4" lengthAdjust="spacingAndGlyphs">Total</text>
<rect x="1662.3" y="1233.5" width="20.5" height="5" rx="2.5" fill="#E0B400"/>
<text x="1696.1" y="1241.6" font-family='"Liberation Sans", sans-serif' font-size="19" fill="#2b2e33" text-anchor="start" font-weight="400" textLength="36.9" lengthAdjust="spacingAndGlyphs">Free</text>
<rect x="1749.5" y="1233.5" width="20.5" height="5" rx="2.5" fill="#5794F2"/>
<text x="1782.7" y="1241.6" font-family='"Liberation Sans", sans-serif' font-size="19" fill="#2b2e33" text-anchor="start" font-weight="400" textLength="33.7" lengthAdjust="spacingAndGlyphs">RSS</text>
<rect x="1832.5" y="1233.5" width="20.5" height="5" rx="2.5" fill="#FA6400"/>
<text x="1866.2" y="1241.6" font-family='"Liberation Sans", sans-serif' font-size="19" fill="#2b2e33" text-anchor="start" font-weight="400" textLength="65.5" lengthAdjust="spacingAndGlyphs">Cached</text>
<rect x="1572.1" y="1268" width="20.5" height="5" rx="2.5" fill="#E02F44"/>
<text x="1606.1" y="1276.1" font-family='"Liberation Sans", sans-serif' font-size="19" fill="#2b2e33" text-anchor="start" font-weight="400" textLength="72.5" lengthAdjust="spacingAndGlyphs">Buffered</text>
</svg>
</body></html>
